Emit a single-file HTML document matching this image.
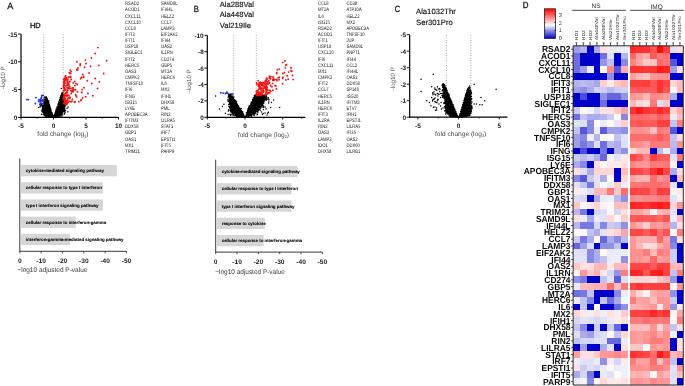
<!DOCTYPE html>
<html><head><meta charset="utf-8"><style>
html,body{margin:0;padding:0;background:#fff;width:685px;height:386px;overflow:hidden}
svg{display:block;will-change:transform;filter:blur(0.3px)}
text{font-family:"Liberation Sans",sans-serif}
</style></head><body>
<svg width="685" height="386" viewBox="0 0 685 386" font-family="Liberation Sans, sans-serif" text-rendering="geometricPrecision">
<rect width="685" height="386" fill="#fff"/>
<text x="7.20" y="9.10" font-size="9.1" text-anchor="start" font-weight="normal" fill="#111" stroke="#111" stroke-width="0.25">A</text>
<text x="29.90" y="28.10" font-size="7.4" text-anchor="start" font-weight="normal" fill="#111" stroke="#111" stroke-width="0.3">HD</text>
<line x1="43.75" y1="34.50" x2="43.75" y2="117.00" stroke="#aaa" stroke-width="1.0" stroke-dasharray="1 1.5"/>
<line x1="63.25" y1="34.50" x2="63.25" y2="117.00" stroke="#aaa" stroke-width="1.0" stroke-dasharray="1 1.5"/>
<path d="M48.1 105.9h0M48.6 105.3h0M45.4 106.9h0M44.5 111.2h0M50.5 116.5h0M48.8 116.2h0M45.5 112.4h0M43.9 107.9h0M48.7 104.2h0M48.6 103.8h0M48.1 111.7h0M46.7 112.7h0M46.5 116.0h0M44.3 104.5h0M51.3 111.9h0M44.5 110.6h0M44.8 112.3h0M51.5 113.7h0M49.1 108.2h0M45.5 102.3h0M44.9 104.2h0M44.8 108.7h0M45.7 111.8h0M46.6 99.2h0M45.7 109.3h0M45.7 112.1h0M46.5 115.9h0M44.5 105.4h0M46.0 105.0h0M47.3 108.1h0M45.4 114.2h0M46.1 113.5h0M45.6 97.9h0M47.8 115.3h0M46.0 102.9h0M46.2 100.5h0M49.5 111.4h0M45.4 102.6h0M44.3 112.7h0M49.7 111.6h0M43.8 111.9h0M48.0 116.2h0M45.4 109.8h0M49.3 114.7h0M47.2 99.1h0M48.4 102.4h0M44.4 106.2h0M47.1 103.3h0M47.7 101.1h0M49.8 109.5h0M49.4 104.9h0M44.4 104.2h0M50.8 109.4h0M48.4 112.7h0M46.6 103.4h0M45.6 113.9h0M46.9 103.7h0M45.6 108.5h0M49.4 110.9h0M45.0 107.2h0M46.4 113.9h0M48.1 111.7h0M45.7 108.9h0M49.8 107.2h0M46.7 100.1h0M52.2 116.5h0M46.7 101.1h0M48.1 116.9h0M51.8 112.5h0M49.8 108.2h0M50.4 113.3h0M48.3 113.7h0M50.7 113.7h0M46.3 110.3h0M47.5 101.1h0M52.6 115.6h0M44.9 108.1h0M47.3 105.7h0M50.1 113.2h0M45.7 98.9h0M46.8 98.7h0M44.4 108.3h0M48.4 116.8h0M51.6 116.1h0M51.5 113.8h0M46.9 101.2h0M45.0 114.3h0M48.7 102.5h0M45.8 106.6h0M46.5 102.4h0M49.9 106.6h0M46.7 109.6h0M45.7 99.9h0M49.3 113.3h0M48.9 107.0h0M49.6 116.8h0M47.6 100.9h0M49.2 107.3h0M50.4 116.0h0M48.9 108.9h0M46.3 107.7h0M44.9 108.5h0M48.3 110.9h0M45.5 104.7h0M51.3 116.9h0M45.5 112.7h0M50.4 110.8h0M47.1 104.7h0M44.7 102.4h0M44.8 106.9h0M46.1 113.3h0M48.9 108.4h0M47.3 108.9h0M48.8 114.1h0M45.6 104.4h0M49.9 106.5h0M46.7 98.4h0M45.8 96.9h0M52.4 114.6h0M46.0 102.5h0M46.2 115.4h0M51.4 114.8h0M47.6 103.3h0M48.6 103.3h0M49.1 106.8h0M49.2 114.4h0M45.4 113.2h0M52.8 115.4h0M48.2 101.7h0M46.8 107.8h0M48.7 108.6h0M49.6 117.1h0M45.4 108.1h0M45.5 114.0h0M48.7 117.1h0M49.8 109.1h0M49.5 107.0h0M46.2 98.7h0M50.8 115.9h0M47.0 107.8h0M43.7 110.1h0M45.9 98.0h0M50.2 110.5h0M48.9 109.4h0M53.3 116.9h0M46.2 109.1h0M47.3 115.4h0M46.1 98.8h0M49.1 107.0h0M51.6 115.8h0M45.2 107.7h0M45.3 107.2h0M49.7 116.2h0M48.8 105.1h0M47.2 111.5h0M46.4 102.7h0M45.2 101.9h0M51.0 116.4h0M47.9 107.6h0M49.6 115.0h0M49.8 108.0h0M48.8 114.8h0M48.0 103.7h0M48.1 112.0h0M49.4 108.8h0M50.9 112.5h0M47.2 111.8h0M51.1 113.5h0M46.1 97.2h0M46.3 108.7h0M49.8 115.3h0M49.0 115.9h0M44.5 103.5h0M49.1 104.4h0M47.3 107.6h0M45.7 110.3h0M51.2 113.0h0M47.8 112.1h0M46.8 106.1h0M47.8 109.8h0M49.2 107.4h0M50.4 111.3h0M51.3 115.8h0M45.7 103.8h0M44.4 111.2h0M46.4 114.5h0M47.2 102.5h0M47.2 115.0h0M46.8 109.2h0M46.1 110.0h0M47.2 109.9h0M47.5 109.4h0M45.5 105.8h0M45.4 101.8h0M49.0 105.7h0M51.6 116.1h0M44.5 104.4h0M45.0 102.1h0M50.0 112.4h0M45.8 101.7h0M47.5 110.5h0M48.5 106.3h0M48.8 102.8h0M47.8 114.4h0M47.3 114.0h0M45.6 108.7h0M46.5 97.5h0M44.2 111.1h0M44.8 104.1h0M51.3 113.7h0M44.2 108.0h0M45.4 112.9h0M45.9 102.6h0M49.5 112.8h0M45.4 111.6h0M45.3 101.8h0M46.7 106.1h0M46.2 99.1h0M48.4 112.9h0M48.8 106.8h0M46.3 97.0h0M50.1 112.5h0M47.3 101.0h0M45.2 114.2h0M46.8 112.1h0M46.3 106.4h0M45.1 101.6h0M44.4 111.8h0M50.7 115.4h0M48.4 107.8h0M52.7 115.5h0M51.8 113.1h0M49.0 106.6h0M45.2 100.3h0M46.7 111.0h0M44.4 111.1h0M48.2 102.7h0M47.2 103.3h0M44.7 109.3h0M43.7 109.6h0M50.6 112.5h0M49.2 108.0h0M51.5 113.1h0M49.7 111.4h0M47.3 106.3h0M46.6 110.5h0M47.5 103.7h0M46.2 113.3h0M50.8 110.6h0M50.8 110.6h0M51.8 115.5h0M45.4 109.1h0M44.5 112.7h0M45.2 114.8h0M47.6 115.9h0M48.7 104.1h0M47.4 110.6h0M47.6 103.0h0M43.8 110.6h0M47.0 104.0h0M44.7 109.6h0M45.2 101.6h0M47.1 107.1h0M45.0 102.7h0M45.6 98.0h0M49.8 113.3h0M44.4 112.4h0M46.9 98.3h0M47.2 107.9h0M49.0 105.9h0M49.2 112.0h0M46.5 98.9h0M46.0 105.6h0M51.8 113.6h0M49.0 115.8h0M50.1 111.1h0M47.4 105.2h0M51.6 117.1h0M45.6 107.8h0M45.0 109.5h0M49.2 113.8h0M48.8 112.0h0M49.2 110.6h0M50.0 116.6h0M50.2 114.4h0M48.3 108.9h0M47.7 108.5h0M48.8 106.6h0M46.8 116.3h0M51.0 111.1h0M49.5 116.0h0M44.8 108.2h0M48.6 109.2h0M48.8 112.5h0M46.6 109.3h0M47.8 100.8h0M45.8 102.0h0M44.8 106.3h0M53.0 117.4h0M46.0 111.2h0M46.8 116.1h0M47.5 110.1h0M49.4 116.5h0M46.7 107.1h0M48.3 113.2h0M46.5 98.4h0M48.3 113.9h0M45.6 104.4h0M45.5 99.3h0M50.8 111.0h0M50.7 114.6h0M48.0 115.8h0M45.8 111.1h0M50.6 113.4h0M45.4 112.6h0M47.3 103.8h0M45.9 111.2h0M46.4 104.2h0M48.0 106.5h0M48.9 116.5h0M49.5 111.5h0M46.1 100.9h0M44.5 111.5h0M51.1 112.3h0M46.4 106.1h0M45.5 98.9h0M48.2 102.0h0M48.6 113.7h0M49.1 104.1h0M47.2 103.9h0M51.3 114.0h0M49.6 112.6h0M48.0 101.5h0M46.0 107.3h0M45.8 105.5h0M48.5 116.7h0M45.4 114.3h0M47.9 108.3h0M46.2 101.0h0M49.2 106.2h0M51.4 112.5h0M45.1 111.0h0M44.0 110.9h0M49.8 106.6h0M46.2 105.3h0M45.3 112.2h0M45.2 103.2h0M44.2 109.0h0M47.2 112.9h0M53.2 116.5h0M48.1 102.1h0M44.0 112.4h0M52.4 114.5h0M47.5 111.3h0M47.8 115.8h0M45.9 112.2h0M49.1 112.4h0M47.2 110.5h0M44.0 109.1h0M50.0 116.2h0M47.0 103.1h0M47.5 100.1h0M47.4 101.3h0M45.7 110.3h0M45.4 106.1h0M45.2 113.2h0M45.7 107.8h0M46.7 108.2h0M47.4 115.9h0M50.5 109.9h0M45.4 112.0h0M50.7 111.9h0M47.2 114.2h0M52.6 117.0h0M46.8 109.5h0M46.8 101.5h0M48.8 116.3h0M47.5 112.5h0M49.5 116.7h0M46.7 108.7h0M49.0 114.6h0M50.6 112.0h0M45.1 113.2h0M46.4 102.7h0M47.6 109.4h0M46.5 110.3h0M45.8 103.2h0M49.9 115.6h0M47.8 109.3h0M44.2 109.5h0M46.9 107.2h0M46.4 114.1h0M47.6 107.6h0M45.3 103.7h0M46.0 115.5h0M47.0 108.7h0M45.1 105.4h0M50.5 116.9h0M47.5 109.9h0M44.2 109.1h0M44.2 107.2h0M49.4 107.8h0M46.8 112.2h0M43.9 110.3h0M46.2 103.7h0M45.5 107.7h0M47.2 105.5h0M47.7 108.9h0M46.3 100.3h0M52.6 116.6h0M45.0 107.0h0M46.7 110.0h0M45.5 112.7h0M50.3 112.6h0M47.5 112.5h0M48.5 104.0h0M49.0 104.6h0M47.0 99.2h0M46.7 102.7h0M45.2 104.6h0M48.5 105.8h0M47.3 111.5h0M46.0 112.3h0M46.8 113.7h0M48.7 114.8h0M44.6 102.9h0M44.7 108.1h0M45.2 99.6h0M52.2 116.3h0M46.1 107.0h0M50.7 112.2h0M50.7 110.7h0M46.9 101.8h0M49.2 108.7h0M44.9 109.6h0M50.2 112.6h0M50.4 108.8h0M49.9 109.2h0M46.4 102.4h0M49.0 107.5h0M47.3 111.0h0M46.4 109.3h0M51.5 114.4h0M45.3 115.2h0M48.4 114.9h0M49.2 114.4h0M49.8 111.8h0M45.9 107.5h0M47.2 112.1h0M44.4 113.6h0M45.6 99.6h0M48.4 108.9h0M44.2 106.1h0M46.4 98.1h0M50.8 113.8h0M47.2 101.9h0M46.7 106.8h0M53.1 117.2h0M47.6 100.9h0M50.6 112.2h0M52.6 116.9h0M49.3 112.7h0M47.5 109.8h0M47.2 104.3h0M47.1 111.7h0M44.6 110.5h0M50.9 113.1h0M50.3 113.8h0M44.7 114.5h0M47.1 108.5h0M47.6 110.8h0M45.6 99.3h0M46.8 101.9h0M45.8 109.0h0M50.6 113.7h0M46.3 103.5h0M45.4 110.1h0M49.9 109.6h0M50.0 113.0h0M48.6 105.7h0M50.2 108.8h0M47.4 112.7h0M49.6 105.6h0M48.7 116.7h0M49.8 108.2h0M49.5 105.2h0M50.9 111.0h0M48.5 112.6h0M46.1 100.8h0M48.1 106.4h0M46.4 104.2h0M44.3 106.0h0M46.0 100.9h0M51.5 114.3h0M47.2 115.3h0M44.0 110.3h0M44.8 113.7h0M47.5 99.9h0M45.7 104.5h0M45.6 103.6h0M47.0 110.9h0M49.8 111.7h0M45.4 114.8h0M44.9 115.0h0M47.2 113.4h0M50.9 110.0h0M46.7 109.0h0M45.1 104.4h0M47.8 100.5h0M47.7 108.0h0M47.0 102.9h0M45.9 105.5h0M46.4 99.4h0M46.5 99.8h0M50.3 108.0h0M48.1 116.1h0M47.8 111.6h0M46.5 103.1h0M50.3 112.4h0M47.7 114.7h0M47.8 110.4h0M49.5 106.2h0M44.5 109.9h0M47.3 102.5h0M50.2 110.3h0M48.3 110.0h0M48.2 110.9h0M44.3 107.9h0M47.6 103.9h0M45.8 97.0h0M45.7 109.8h0M45.0 109.3h0M50.9 115.7h0M45.3 104.0h0M46.1 100.7h0M44.8 107.8h0M43.9 110.2h0M48.9 106.4h0M46.6 107.0h0M44.9 105.7h0M48.7 111.4h0M51.3 112.3h0M47.7 116.3h0M45.8 108.1h0M49.1 107.9h0M52.0 115.3h0M52.0 114.2h0M47.6 104.8h0M45.1 100.6h0M45.2 106.5h0M46.6 97.5h0M44.1 108.8h0M44.4 112.0h0M46.9 107.3h0M47.5 111.2h0M50.9 112.1h0M47.3 108.6h0M48.3 110.0h0M47.9 108.1h0M44.2 106.5h0M49.0 109.2h0M45.8 115.4h0M47.3 110.9h0M48.4 112.7h0M53.2 117.3h0M47.2 105.1h0M47.3 111.2h0M46.7 107.2h0M46.1 111.8h0M46.4 103.4h0M46.8 100.5h0M49.9 116.9h0M49.3 117.3h0M52.7 115.9h0M48.0 108.4h0M44.8 110.8h0M50.9 115.9h0M46.7 97.8h0M45.7 108.9h0M48.3 116.8h0M47.9 109.6h0M48.5 103.2h0M47.5 101.4h0M44.7 102.1h0M45.3 105.3h0M45.6 110.3h0M45.2 110.2h0M49.5 106.7h0M47.5 105.6h0M49.4 107.5h0M50.5 112.6h0M46.2 102.4h0M49.3 112.1h0M47.4 102.7h0M47.9 104.7h0M48.4 112.6h0M51.1 115.3h0M46.6 100.0h0M49.2 106.1h0M46.9 114.3h0M51.6 115.4h0M51.4 112.9h0M45.6 106.4h0M49.6 114.9h0M50.4 109.9h0M46.5 99.8h0M50.8 112.0h0M48.9 112.2h0M46.5 112.2h0M44.9 107.4h0M46.3 111.5h0M46.4 106.9h0M52.3 114.1h0M49.6 106.2h0M51.3 112.1h0M47.2 101.2h0M45.9 108.1h0M47.3 102.4h0M49.2 110.2h0M45.9 97.9h0M50.1 115.9h0M52.5 115.3h0M49.2 114.9h0M52.2 116.1h0M50.2 116.0h0M48.8 115.8h0M48.8 113.6h0M48.8 110.1h0M48.6 113.3h0M50.6 108.8h0M48.4 115.8h0M48.4 105.9h0M45.0 111.2h0M46.9 103.0h0M43.8 107.3h0M52.8 115.6h0M48.8 105.5h0M46.9 110.3h0M46.2 105.4h0M48.8 110.5h0M50.3 108.0h0M45.9 99.3h0M45.4 114.3h0M46.1 107.5h0M46.0 103.9h0M46.2 106.6h0M46.1 99.4h0M45.4 112.6h0M46.6 110.6h0M46.0 112.9h0M47.3 110.1h0M47.4 114.6h0M47.0 101.1h0M47.4 111.5h0M47.4 116.1h0M45.7 99.3h0M45.0 102.7h0M45.0 103.4h0M47.3 114.9h0M46.3 98.1h0M44.3 113.6h0M47.1 116.4h0M46.7 113.6h0M44.8 106.6h0M49.0 105.7h0M45.8 115.8h0M46.7 101.8h0M45.2 110.6h0M49.2 111.3h0M48.2 105.0h0M45.5 98.0h0M53.3 116.9h0M45.3 102.3h0M45.8 101.0h0M48.6 104.0h0M48.2 113.6h0M43.8 111.1h0M44.0 112.0h0M49.7 109.8h0M48.3 104.6h0M46.8 110.1h0M47.7 106.3h0M48.2 110.6h0M52.3 114.1h0M46.5 113.9h0M50.8 112.6h0M49.4 114.2h0M44.6 103.3h0M47.0 105.9h0M48.7 109.6h0M46.3 105.6h0M49.9 107.9h0M44.5 107.2h0M48.4 104.2h0M48.0 115.7h0M51.5 112.6h0M46.1 98.8h0M48.6 108.6h0M48.5 107.5h0M46.5 100.1h0M48.6 110.4h0M45.6 113.0h0M51.5 113.8h0M46.0 98.5h0M47.0 101.1h0M45.5 103.1h0M49.8 114.8h0M50.8 116.2h0M49.9 107.3h0M47.4 110.1h0M51.5 112.7h0M46.7 111.8h0M45.5 104.1h0M46.9 98.3h0M46.9 111.7h0M48.8 107.4h0M48.9 107.7h0M51.0 112.3h0M45.6 105.5h0M46.0 110.7h0M47.1 106.6h0M47.7 109.0h0M45.9 107.7h0M47.9 103.3h0M48.8 113.5h0M51.2 116.2h0M45.1 106.1h0M46.3 102.6h0M50.8 110.8h0M47.9 115.2h0M52.4 116.2h0M44.3 111.9h0M44.9 108.6h0M47.6 104.0h0M48.3 117.1h0M44.3 109.4h0M48.2 115.2h0M48.4 105.3h0M44.8 111.1h0M45.8 99.6h0M48.6 109.0h0M46.2 101.1h0M47.2 108.4h0M48.1 110.9h0M49.8 108.9h0M46.6 101.5h0M48.1 107.7h0M47.6 103.6h0M50.9 111.3h0M47.9 104.0h0M44.1 102.0h0M43.6 106.7h0M44.2 103.5h0M43.3 108.4h0M42.9 107.3h0M44.1 113.5h0M43.5 110.5h0M43.0 106.5h0M43.8 107.3h0M42.5 109.0h0M48.0 117.0h0M44.2 115.2h0M44.3 104.2h0M43.9 106.2h0M43.3 106.0h0M52.0 112.9h0M44.2 101.6h0M45.0 116.0h0M43.5 107.5h0M43.3 108.1h0M43.9 105.3h0M44.0 103.8h0M44.7 115.0h0M43.7 107.4h0M43.5 111.4h0M46.0 116.8h0M43.3 111.4h0M43.4 111.2h0M46.2 116.2h0M44.6 97.2h0M43.4 107.9h0M42.9 110.2h0M43.3 108.7h0M43.6 105.5h0M43.9 104.9h0M45.9 116.2h0M43.7 103.1h0M44.8 100.5h0M43.4 110.8h0M43.1 111.3h0M44.1 100.7h0M43.3 106.8h0M44.1 113.5h0M43.7 112.4h0M43.8 106.1h0M43.2 106.9h0M43.7 106.3h0M45.6 115.9h0M42.8 111.0h0M44.3 99.5h0M42.1 110.1h0M44.1 114.5h0M42.7 105.6h0M43.6 108.0h0M43.6 110.2h0M43.5 111.6h0M44.6 97.1h0M43.6 105.0h0M46.3 116.6h0M44.8 99.3h0M43.5 110.9h0M43.7 106.0h0M45.2 115.8h0M42.6 108.2h0M44.0 98.9h0M43.8 100.3h0M48.8 100.9h0M45.3 115.7h0M44.5 99.5h0M44.5 101.9h0M57.3 109.6h0M58.1 114.6h0M58.2 109.6h0M57.7 108.6h0M64.5 107.5h0M57.2 109.8h0M58.4 106.5h0M61.4 98.1h0M62.1 112.2h0M60.4 112.0h0M61.0 110.6h0M61.2 99.6h0M62.9 97.8h0M61.2 110.4h0M62.3 105.3h0M61.6 106.1h0M58.7 113.3h0M59.3 114.8h0M62.9 98.9h0M61.9 97.0h0M60.2 101.4h0M58.3 112.6h0M62.0 110.5h0M64.2 104.9h0M61.6 104.6h0M60.5 114.0h0M62.7 110.9h0M61.9 93.6h0M60.8 97.6h0M61.1 112.6h0M58.2 111.6h0M56.9 111.9h0M63.9 109.9h0M53.9 116.6h0M62.3 102.9h0M59.4 112.3h0M62.0 95.5h0M61.7 108.2h0M59.4 110.8h0M56.4 117.3h0M56.0 110.8h0M64.4 106.1h0M57.9 107.2h0M59.4 105.3h0M59.7 110.1h0M59.9 99.4h0M62.5 107.4h0M60.4 98.6h0M63.7 107.2h0M61.1 95.8h0M61.3 100.5h0M60.6 107.6h0M62.6 97.1h0M60.6 102.7h0M61.6 93.6h0M58.3 108.2h0M59.5 104.9h0M61.4 99.3h0M59.0 102.9h0M58.6 103.7h0M59.0 108.3h0M57.8 113.6h0M61.1 113.9h0M57.3 111.3h0M61.2 103.8h0M60.4 104.8h0M60.1 99.5h0M57.5 107.8h0M59.7 106.1h0M61.3 107.5h0M59.6 105.3h0M59.9 100.3h0M60.9 102.4h0M61.8 111.9h0M63.4 107.2h0M59.0 107.3h0M58.1 110.5h0M61.2 114.1h0M60.7 97.6h0M62.0 111.9h0M55.0 115.0h0M57.2 115.1h0M57.6 106.8h0M62.2 111.9h0M57.2 110.4h0M59.0 114.2h0M61.7 102.2h0M57.0 111.2h0M61.0 98.5h0M62.5 99.1h0M55.7 114.0h0M63.7 107.4h0M63.3 108.9h0M61.9 110.3h0M62.9 105.5h0M58.3 108.9h0M62.1 102.8h0M57.4 107.7h0M61.3 98.0h0M58.7 110.2h0M61.8 104.8h0M62.4 103.4h0M59.7 110.7h0M58.1 114.6h0M58.9 101.9h0M62.3 112.2h0M57.9 106.7h0M58.2 115.3h0M57.6 115.3h0M61.2 98.0h0M58.4 104.7h0M61.8 104.7h0M63.9 106.4h0M60.8 108.1h0M59.0 112.7h0M57.2 110.3h0M55.9 114.6h0M61.5 101.4h0M59.0 115.3h0M60.6 112.1h0M59.7 99.6h0M59.6 107.6h0M63.4 106.8h0M59.5 107.5h0M60.6 111.2h0M57.2 106.7h0M60.7 110.0h0M59.6 100.5h0M61.0 111.3h0M58.4 104.0h0M59.8 114.6h0M57.9 107.4h0M56.5 113.8h0M60.8 108.8h0M58.0 116.3h0M60.2 113.2h0M61.0 105.7h0M59.7 102.5h0M55.9 113.3h0M61.7 103.1h0M61.5 105.2h0M60.3 103.6h0M60.8 96.7h0M60.4 99.5h0M62.2 96.4h0M60.1 100.9h0M60.7 113.0h0M57.5 110.4h0M57.8 116.4h0M60.5 100.9h0M62.3 102.1h0M56.9 114.1h0M60.8 114.8h0M58.3 110.0h0M61.4 112.3h0M61.6 108.3h0M60.2 108.8h0M62.7 101.2h0M61.3 113.1h0M58.8 103.5h0M62.4 93.3h0M58.7 108.7h0M59.6 110.1h0M56.5 109.3h0M56.2 111.6h0M61.9 111.3h0M63.0 106.4h0M60.1 101.2h0M62.6 107.8h0M61.9 109.0h0M62.0 101.8h0M60.3 100.3h0M59.4 104.2h0M61.0 97.8h0M56.7 115.0h0M59.7 114.7h0M60.3 108.2h0M54.7 117.2h0M57.2 113.6h0M55.3 115.1h0M58.2 112.0h0M57.1 111.0h0M58.6 110.3h0M60.0 106.6h0M62.5 95.1h0M61.2 112.8h0M62.2 95.7h0M61.5 103.1h0M61.6 111.4h0M55.7 114.7h0M61.3 97.7h0M56.8 109.7h0M61.0 98.9h0M62.0 111.4h0M60.6 112.4h0M62.9 103.3h0M59.0 108.2h0M60.9 103.0h0M60.4 100.5h0M58.2 113.8h0M61.9 99.6h0M63.0 109.5h0M57.4 116.1h0M63.2 105.6h0M55.5 112.3h0M61.5 104.5h0M56.2 112.2h0M62.7 97.6h0M60.9 97.1h0M62.5 107.0h0M59.7 105.2h0M61.2 107.5h0M64.5 105.6h0M57.5 108.3h0M59.2 106.1h0M55.2 115.0h0M60.6 112.2h0M59.6 109.0h0M58.3 108.6h0M54.9 117.1h0M64.5 105.3h0M58.3 115.6h0M60.3 111.7h0M59.6 113.8h0M56.8 115.2h0M61.9 100.1h0M55.1 116.6h0M59.4 110.2h0M62.2 98.9h0M57.3 111.0h0M61.8 101.1h0M53.7 116.9h0M56.2 110.1h0M62.5 100.3h0M61.0 110.7h0M62.2 103.1h0M58.6 113.5h0M57.9 108.9h0M55.2 117.2h0M58.2 106.0h0M62.1 106.1h0M62.5 107.6h0M59.0 104.6h0M55.8 114.9h0M57.3 113.4h0M58.1 111.8h0M58.6 103.6h0M58.2 110.6h0M58.5 105.0h0M62.6 105.4h0M56.3 114.3h0M58.2 111.5h0M63.6 106.9h0M59.8 115.1h0M62.0 108.7h0M61.4 106.4h0M58.5 112.3h0M58.1 109.2h0M57.0 108.3h0M54.5 115.1h0M57.3 109.1h0M56.7 112.0h0M60.4 111.8h0M62.9 96.1h0M58.9 110.5h0M60.2 102.2h0M59.9 107.1h0M62.9 99.0h0M58.2 113.4h0M57.4 112.1h0M58.8 103.9h0M58.0 108.9h0M61.8 109.9h0M62.2 110.7h0M54.2 115.1h0M62.0 94.1h0M57.2 109.9h0M61.6 108.9h0M55.0 116.2h0M61.3 113.5h0M59.9 108.5h0M55.0 117.3h0M61.2 95.4h0M56.6 113.3h0M61.9 99.8h0M57.9 107.6h0M56.4 115.1h0M62.9 93.0h0M56.2 114.7h0M60.6 97.8h0M57.7 110.7h0M61.3 96.3h0M60.5 99.5h0M60.8 96.5h0M60.7 112.7h0M62.6 94.3h0M60.9 100.0h0M59.3 107.9h0M62.5 104.7h0M56.1 117.3h0M54.6 116.4h0M62.7 97.7h0M62.2 109.1h0M61.6 100.1h0M61.8 102.9h0M58.2 104.0h0M59.0 108.6h0M62.7 105.0h0M61.3 108.3h0M58.1 116.3h0M60.4 99.7h0M57.3 113.1h0M64.7 106.8h0M56.8 116.0h0M61.1 104.7h0M56.1 117.4h0M62.3 104.7h0M57.9 106.6h0M61.0 98.4h0M62.7 105.4h0M61.1 97.8h0M57.5 115.7h0M58.7 104.9h0M56.6 112.7h0M59.2 106.8h0M57.0 115.9h0M56.5 111.5h0M58.3 104.3h0M60.7 105.2h0M61.8 102.2h0M55.8 111.5h0M55.0 116.2h0M55.5 113.0h0M59.6 104.2h0M62.5 96.3h0M62.1 105.1h0M58.4 106.1h0M58.5 105.7h0M58.8 106.3h0M56.5 110.5h0M60.8 107.5h0M57.4 107.2h0M57.2 115.4h0M61.0 97.5h0M62.8 101.6h0M56.6 109.6h0M60.0 112.3h0M59.2 104.9h0M56.6 113.6h0M54.1 116.4h0M60.5 110.3h0M56.1 110.3h0M60.5 107.4h0M58.2 108.7h0M63.0 107.8h0M58.6 112.8h0M61.7 95.6h0M61.2 100.6h0M62.1 106.9h0M62.7 101.4h0M61.9 107.5h0M61.7 103.5h0M60.2 99.9h0M61.6 101.8h0M55.5 114.4h0M61.4 104.3h0M61.4 110.7h0M60.3 111.0h0M62.1 99.6h0M58.2 107.8h0M62.2 107.4h0M57.6 108.2h0M62.6 94.5h0M57.7 112.6h0M62.0 93.2h0M54.6 117.0h0M61.5 113.2h0M57.5 111.1h0M59.8 111.2h0M59.5 105.6h0M59.7 110.9h0M59.3 104.5h0M61.4 107.8h0M59.1 103.1h0M59.3 115.3h0M61.0 104.8h0M58.2 112.5h0M60.8 104.6h0M59.3 114.1h0M61.0 110.1h0M62.5 107.0h0M59.1 105.0h0M57.0 111.2h0M55.5 116.7h0M56.4 114.4h0M54.1 116.7h0M62.5 93.2h0M61.7 113.0h0M61.5 101.8h0M55.8 112.6h0M63.1 107.6h0M60.5 113.0h0M59.7 100.2h0M59.6 113.7h0M63.1 111.3h0M62.0 113.0h0M62.0 113.1h0M60.9 97.9h0M61.4 98.8h0M56.7 112.0h0M59.2 104.1h0M59.6 104.3h0M55.5 114.7h0M59.7 112.5h0M63.4 109.8h0M64.0 105.8h0M59.8 112.0h0M58.5 110.7h0M56.5 111.3h0M58.4 110.0h0M60.5 105.9h0M59.8 103.4h0M61.0 106.3h0M55.9 114.9h0M61.5 94.9h0M59.8 102.8h0M60.6 112.0h0M59.3 104.6h0M60.9 102.9h0M58.5 103.7h0M61.9 111.5h0M60.2 100.8h0M60.0 110.1h0M62.2 105.2h0M56.5 116.3h0M56.1 111.9h0M57.8 115.3h0M59.6 115.5h0M61.9 106.5h0M56.4 112.4h0M57.0 113.1h0M62.0 107.3h0M54.6 114.2h0M61.9 100.4h0M58.0 108.9h0M61.2 104.5h0M61.0 109.8h0M61.5 112.9h0M58.2 114.8h0M59.8 106.1h0M56.9 116.4h0M53.8 117.1h0M60.8 110.8h0M63.0 107.8h0M61.0 114.5h0M59.4 100.9h0M61.7 99.4h0M56.4 112.2h0M62.3 110.5h0M56.5 108.8h0M58.6 105.4h0M60.0 108.7h0M60.3 109.9h0M57.7 115.8h0M54.4 116.9h0M58.0 104.7h0M60.2 102.3h0M59.0 116.0h0M60.8 108.1h0M58.5 108.4h0M56.8 112.2h0M58.4 113.8h0M57.5 111.3h0M58.3 109.3h0M58.5 107.1h0M62.3 110.9h0M61.8 93.3h0M55.3 113.5h0M62.3 98.5h0M64.2 108.7h0M60.8 104.1h0M58.0 106.5h0M61.0 100.9h0M57.2 109.6h0M58.6 114.4h0M63.5 108.8h0M57.4 116.3h0M61.9 99.2h0M63.0 105.7h0M59.7 106.0h0M63.7 108.7h0M61.2 104.8h0M61.7 98.1h0M61.5 100.7h0M60.5 102.9h0M59.4 100.6h0M59.0 110.1h0M59.3 107.3h0M57.4 111.7h0M57.8 114.4h0M60.8 106.8h0M62.9 99.4h0M56.8 111.9h0M60.1 99.0h0M58.1 110.6h0M61.7 99.0h0M61.0 112.5h0M60.8 107.6h0M57.7 112.7h0M61.3 113.9h0M60.2 114.2h0M56.5 108.9h0M61.6 100.9h0M58.3 113.1h0M56.0 116.0h0M57.5 114.4h0M58.5 114.6h0M61.6 99.3h0M61.6 103.8h0M60.5 106.2h0M60.6 101.5h0M61.8 95.3h0M62.6 103.5h0M58.8 102.1h0M58.5 107.2h0M58.8 104.7h0M58.2 113.3h0M59.1 109.8h0M58.9 104.1h0M63.7 104.7h0M62.9 99.6h0M60.0 109.2h0M62.3 94.5h0M57.4 108.4h0M62.4 94.8h0M61.6 103.6h0M63.1 105.9h0M61.4 98.1h0M58.2 110.3h0M59.2 105.2h0M62.0 93.2h0M61.4 105.1h0M57.6 116.0h0M59.1 111.2h0M55.7 113.5h0M62.7 105.8h0M60.7 104.3h0M57.3 116.5h0M56.4 115.7h0M62.2 96.5h0M58.5 103.4h0M60.9 114.7h0M61.2 109.5h0M61.2 103.4h0M59.2 102.5h0M62.6 106.2h0M59.6 100.8h0M60.5 107.8h0M60.6 99.4h0M58.2 104.5h0M55.9 114.9h0M58.7 115.3h0M61.7 103.1h0M61.0 95.3h0M63.5 105.6h0M55.1 117.2h0M57.0 114.0h0M60.9 102.3h0M58.0 111.7h0M59.4 104.4h0M57.2 112.6h0M61.1 112.5h0M56.8 115.0h0M59.3 102.4h0M60.0 100.9h0M62.7 99.2h0M61.0 110.7h0M62.2 95.9h0M55.7 111.8h0M63.0 104.6h0M55.1 116.6h0M57.9 109.8h0M64.0 109.3h0M62.0 95.1h0M60.8 101.9h0M58.6 113.7h0M59.2 114.8h0M62.7 97.1h0M60.8 102.3h0M60.3 111.1h0M59.6 99.8h0M61.2 110.4h0M55.4 116.0h0M62.0 106.5h0M60.9 103.6h0M59.5 112.5h0M62.1 102.1h0M62.0 101.8h0M59.7 112.6h0M60.1 113.2h0M60.4 111.3h0M64.2 105.5h0M62.3 112.5h0M62.4 101.1h0M54.8 117.3h0M61.0 97.8h0M59.5 112.5h0M60.9 100.7h0M58.1 110.1h0M60.8 108.3h0M59.9 114.8h0M57.5 107.4h0M55.4 116.3h0M59.7 105.7h0M60.4 107.7h0M63.8 104.5h0M62.0 111.8h0M57.0 113.2h0M58.6 105.0h0M63.5 107.2h0M57.5 110.6h0M55.6 115.9h0M55.7 117.2h0M60.3 110.7h0M58.8 105.8h0M63.3 107.4h0M55.7 115.3h0M61.1 95.9h0M62.3 108.8h0M56.7 113.4h0M56.4 112.9h0M62.4 94.0h0M58.2 115.4h0M64.8 105.6h0M57.7 112.0h0M55.4 112.2h0M60.8 107.5h0M64.5 107.0h0M60.3 108.1h0M62.3 97.9h0M62.3 111.5h0M62.5 99.2h0M58.5 110.1h0M61.6 104.6h0M58.6 109.7h0M56.8 111.7h0M56.5 114.1h0M59.3 113.5h0M58.5 110.0h0M62.1 110.9h0M57.7 110.1h0M58.5 112.7h0M57.6 114.0h0M60.3 109.6h0M61.2 96.7h0M55.9 115.4h0M57.5 111.3h0M60.9 112.0h0M60.8 99.7h0M57.5 106.4h0M60.1 103.8h0M61.4 105.5h0M58.8 105.7h0M62.2 109.6h0M63.8 106.6h0M56.9 111.2h0M64.8 106.4h0M55.4 113.1h0M56.5 115.3h0M57.0 107.8h0M61.6 99.7h0M60.0 104.4h0M60.0 106.3h0M55.9 116.7h0M59.7 101.2h0M57.8 107.4h0M55.5 115.5h0M61.8 106.4h0M62.8 109.0h0M59.3 105.7h0M59.1 107.2h0M59.9 114.1h0M61.8 97.0h0M55.7 115.7h0M57.2 114.3h0M59.5 104.4h0M57.6 112.3h0M59.1 101.8h0M61.5 111.4h0M60.6 97.7h0M56.6 109.6h0M58.3 107.9h0M57.8 108.0h0M59.7 100.5h0M57.9 115.5h0M62.6 105.3h0M60.6 98.6h0M62.4 96.7h0M59.0 108.2h0M63.2 105.6h0M60.9 97.7h0M55.4 113.8h0M58.7 102.9h0M58.4 108.2h0M57.3 109.3h0M57.7 107.0h0M61.6 110.6h0M58.3 113.0h0M58.1 110.2h0M60.3 107.1h0M61.4 107.1h0M58.6 112.9h0M57.7 106.6h0M57.4 116.0h0M61.3 110.2h0M54.3 116.9h0M60.9 107.6h0M60.3 106.7h0M59.1 110.8h0M56.9 115.0h0M62.8 98.0h0M58.8 104.8h0M56.8 108.8h0M61.6 96.2h0M61.3 109.9h0M61.0 98.6h0M54.8 116.5h0M55.1 113.8h0M58.4 114.9h0M61.9 95.1h0M61.1 102.1h0M60.4 100.5h0M56.5 111.6h0M62.6 100.3h0M56.0 109.8h0M62.8 96.2h0M59.2 106.2h0M55.9 117.4h0M61.9 112.1h0M62.6 109.4h0M63.0 106.4h0M59.3 106.7h0M56.5 108.9h0M61.9 107.6h0M58.9 109.4h0M58.8 104.6h0M62.0 105.3h0M58.0 106.2h0M61.7 95.2h0M61.9 106.2h0M63.4 96.3h0M64.4 110.2h0M63.4 99.6h0M59.8 116.0h0M63.1 104.1h0M62.3 92.8h0M63.0 97.4h0M63.0 95.8h0M63.1 111.6h0M64.3 109.5h0M64.1 110.4h0M63.2 99.1h0M62.5 114.0h0M63.6 100.0h0M61.7 114.7h0M64.1 109.5h0M63.2 103.8h0M63.6 94.6h0M64.3 108.7h0M64.2 103.8h0M63.6 101.6h0M57.6 116.9h0M63.1 99.9h0M63.1 103.2h0M52.6 117.0h0M63.0 102.6h0M57.4 117.0h0M65.0 111.0h0M63.3 102.9h0M65.2 105.5h0M65.2 105.7h0M63.3 103.3h0M63.0 98.0h0M63.1 98.5h0M61.9 113.8h0M63.6 111.1h0M52.4 116.1h0M63.4 96.2h0M64.0 96.8h0M61.8 115.2h0M63.7 101.2h0M61.8 113.6h0M64.3 109.5h0M65.0 111.0h0M60.2 115.6h0M63.2 103.8h0M63.5 103.8h0M63.0 97.0h0M62.6 92.9h0M59.9 115.8h0M63.6 101.8h0M63.5 99.0h0M63.4 101.6h0M65.6 104.9h0M63.1 95.0h0M61.9 116.0h0M64.2 109.8h0M63.2 111.6h0M63.0 98.3h0M63.0 95.3h0M60.1 97.6h0M63.1 101.0h0M64.8 107.9h0M53.0 116.8h0M63.1 111.4h0M60.3 115.9h0M52.9 116.9h0M59.8 116.2h0M60.2 97.7h0M62.8 92.9h0M40.0 107.0h0M41.5 114.3h0M41.7 104.4h0M42.9 106.7h0M42.1 106.8h0M40.2 104.6h0M43.3 108.1h0M41.9 105.5h0M40.3 106.0h0M41.8 111.1h0M42.4 111.9h0M43.2 114.2h0M64.6 113.4h0M67.1 108.3h0M64.3 114.1h0M65.5 110.3h0M63.4 110.4h0M65.0 112.3h0M64.0 111.4h0M68.1 106.9h0M67.9 111.7h0M64.9 107.9h0M38.5 107.4h0M40.5 105.2h0M61.3 88.5h0" stroke="#000" stroke-width="1.5" stroke-linecap="round" fill="none"/>
<path d="M80.6 78.7h0M66.0 102.5h0M65.3 95.4h0M74.3 102.0h0M69.9 81.5h0M70.7 77.2h0M67.6 80.4h0M63.6 87.9h0M80.2 65.4h0M63.4 86.2h0M68.6 82.8h0M70.9 90.7h0M67.8 79.2h0M64.3 88.8h0M83.7 76.4h0M82.7 74.4h0M63.6 82.2h0M65.0 79.3h0M67.5 80.1h0M64.7 101.7h0M64.0 81.2h0M65.7 92.9h0M63.6 79.2h0M71.1 79.5h0M73.2 82.9h0M75.7 95.0h0M68.5 88.4h0M64.5 81.0h0M69.3 101.2h0M69.0 87.4h0M65.4 79.0h0M71.1 71.6h0M65.2 83.1h0M64.8 97.3h0M80.9 100.5h0M69.9 97.3h0M66.2 77.8h0M67.1 87.6h0M64.0 81.6h0M67.9 98.7h0M68.9 95.3h0M65.2 94.0h0M81.7 92.3h0M64.9 83.1h0M64.4 97.8h0M64.2 103.6h0M67.3 83.7h0M70.6 88.4h0M64.7 87.9h0M63.6 87.3h0M64.3 98.9h0M64.9 99.7h0M77.4 84.5h0M75.6 89.8h0M84.6 67.3h0M65.7 93.9h0M68.4 102.2h0M71.2 93.5h0M63.6 98.3h0M68.0 98.7h0M65.5 98.7h0M77.7 70.0h0M64.6 83.6h0M71.8 90.6h0M76.6 96.9h0M67.9 95.3h0M66.7 92.3h0M66.0 94.9h0M70.7 73.6h0M72.4 99.4h0M64.4 90.8h0M73.2 87.9h0M68.3 84.7h0M64.6 81.7h0M67.0 102.0h0M68.9 84.8h0M77.5 91.7h0M67.8 82.3h0M64.0 85.2h0M75.9 83.6h0M76.9 69.5h0M63.7 86.2h0M65.4 80.3h0M67.3 90.8h0M63.6 85.8h0M72.2 91.7h0M66.2 79.7h0M63.8 84.4h0M69.3 72.8h0M63.5 97.4h0M71.9 101.4h0M66.2 100.5h0M65.5 89.7h0M63.6 103.4h0M67.9 90.5h0M65.7 85.9h0M69.6 86.3h0M74.9 85.6h0M70.7 76.6h0M72.3 87.9h0M66.3 102.5h0M64.5 96.0h0M81.7 92.5h0M67.4 87.9h0M65.6 75.6h0M67.4 100.3h0M66.9 96.4h0M82.7 97.7h0M66.4 101.4h0M63.9 96.8h0M74.0 89.9h0M66.0 95.2h0M74.6 81.4h0M63.9 94.2h0M67.5 88.9h0M69.7 73.0h0M68.9 97.6h0M67.1 103.7h0M65.4 99.4h0M66.9 104.2h0M64.4 100.3h0M64.7 79.0h0M85.8 96.7h0M65.8 92.9h0M73.3 91.6h0M68.4 77.2h0M75.2 101.7h0M81.5 99.6h0M69.9 88.6h0M67.4 92.7h0M81.4 77.5h0M68.1 87.6h0M63.3 90.9h0M71.0 101.8h0M72.8 89.7h0M65.6 101.8h0M69.0 98.4h0M64.1 83.2h0M70.4 76.8h0M64.7 97.3h0M63.3 98.9h0M64.7 94.8h0M64.6 89.2h0M66.9 79.2h0M76.5 96.5h0M67.2 81.7h0M65.8 103.5h0M66.6 95.4h0M83.9 87.8h0M64.7 102.4h0M65.0 78.2h0M77.2 70.0h0M80.6 78.8h0M65.5 100.4h0M68.7 77.1h0M70.1 97.8h0M66.0 104.3h0M65.3 76.7h0M67.1 85.5h0M69.9 72.9h0M97.9 47.6h0M95.1 53.5h0M91.5 57.9h0M106.6 60.7h0M85.5 60.1h0M86.0 63.5h0M80.2 64.0h0M90.6 66.2h0M98.8 65.4h0M77.9 67.9h0M70.3 70.1h0M103.7 73.5h0M95.1 78.5h0M99.3 81.8h0M97.5 88.5h0M87.9 93.5h0M92.8 95.7h0M78.8 101.8h0M89.2 72.9h0M83.4 77.4h0M91.8 83.5h0M82.1 89.6h0M87.3 80.7h0M76.9 61.8h0" stroke="#f01414" stroke-width="1.9" stroke-linecap="round" fill="none"/>
<path d="M41.2 98.2h0M41.1 103.2h0M40.9 102.9h0M40.8 99.2h0M43.5 100.9h0M42.4 101.0h0M40.1 103.9h0M43.2 95.5h0M40.2 104.6h0M40.2 102.1h0M42.2 100.0h0M42.6 103.6h0M39.0 99.8h0M41.9 95.4h0M41.3 100.9h0M40.4 100.3h0M41.6 97.2h0M38.6 101.4h0M26.9 99.6h0M28.5 99.6h0M36.0 97.6h0M35.3 103.5h0" stroke="#1f2fe6" stroke-width="1.9" stroke-linecap="round" fill="none"/>
<line x1="21.00" y1="118.00" x2="21.00" y2="34.00" stroke="#000" stroke-width="1.2" />
<line x1="18.00" y1="34.00" x2="21.00" y2="34.00" stroke="#000" stroke-width="0.9" />
<text x="17.40" y="36.50" font-size="6.4" text-anchor="end" font-weight="bold" fill="#222" >-15</text>
<line x1="18.00" y1="61.80" x2="21.00" y2="61.80" stroke="#000" stroke-width="0.9" />
<text x="17.40" y="64.30" font-size="6.4" text-anchor="end" font-weight="bold" fill="#222" >-10</text>
<line x1="18.00" y1="89.60" x2="21.00" y2="89.60" stroke="#000" stroke-width="0.9" />
<text x="17.40" y="92.10" font-size="6.4" text-anchor="end" font-weight="bold" fill="#222" >-5</text>
<line x1="18.00" y1="117.40" x2="21.00" y2="117.40" stroke="#000" stroke-width="0.9" />
<text x="17.40" y="119.90" font-size="6.4" text-anchor="end" font-weight="bold" fill="#222" >0</text>
<line x1="20.40" y1="117.40" x2="118.50" y2="117.40" stroke="#000" stroke-width="1.2" />
<line x1="21.00" y1="117.40" x2="21.00" y2="119.60" stroke="#000" stroke-width="0.9" />
<text x="21.00" y="127.80" font-size="6.4" text-anchor="middle" font-weight="bold" fill="#222" >-5</text>
<line x1="53.50" y1="117.40" x2="53.50" y2="119.60" stroke="#000" stroke-width="0.9" />
<text x="53.50" y="127.80" font-size="6.4" text-anchor="middle" font-weight="bold" fill="#222" >0</text>
<line x1="86.00" y1="117.40" x2="86.00" y2="119.60" stroke="#000" stroke-width="0.9" />
<text x="86.00" y="127.80" font-size="6.4" text-anchor="middle" font-weight="bold" fill="#222" >5</text>
<line x1="118.50" y1="117.40" x2="118.50" y2="119.60" stroke="#000" stroke-width="0.9" />
<text x="118.50" y="127.80" font-size="6.4" text-anchor="middle" font-weight="bold" fill="#222" >10</text>
<line x1="37.25" y1="117.40" x2="37.25" y2="118.90" stroke="#222" stroke-width="0.7" />
<line x1="69.75" y1="117.40" x2="69.75" y2="118.90" stroke="#222" stroke-width="0.7" />
<line x1="102.25" y1="117.40" x2="102.25" y2="118.90" stroke="#222" stroke-width="0.7" />
<text transform="translate(5.3,89.3) rotate(-90)" font-size="6.2" fill="#555">-log10 P</text>
<text x="37.30" y="136.30" font-size="6.6" text-anchor="start" font-weight="normal" fill="#4a4a4a" >fold change (log<tspan font-size="3.8" dy="1.3">2</tspan><tspan dy="-1.3">)</tspan></text>
<text transform="translate(193.8,11.7) scale(0.87,1)" font-size="9" fill="#111" stroke="#111" stroke-width="0.25">B</text>
<text x="219.80" y="6.60" font-size="7.6" text-anchor="start" font-weight="normal" fill="#111" stroke="#111" stroke-width="0.15">Ala288Val</text>
<text x="219.80" y="17.20" font-size="7.6" text-anchor="start" font-weight="normal" fill="#111" stroke="#111" stroke-width="0.15">Ala448Val</text>
<text x="219.80" y="27.80" font-size="7.6" text-anchor="start" font-weight="normal" fill="#111" stroke="#111" stroke-width="0.15">Val219Ile</text>
<line x1="233.69" y1="35.20" x2="233.69" y2="117.00" stroke="#aaa" stroke-width="1.0" stroke-dasharray="1 1.5"/>
<line x1="256.31" y1="35.20" x2="256.31" y2="117.00" stroke="#aaa" stroke-width="1.0" stroke-dasharray="1 1.5"/>
<path d="M239.8 114.2h0M231.0 95.6h0M236.0 113.1h0M239.0 112.2h0M236.0 110.8h0M243.8 116.4h0M232.7 100.9h0M231.9 97.7h0M240.9 110.4h0M231.8 103.7h0M238.0 112.6h0M233.0 98.0h0M238.6 108.3h0M231.6 99.2h0M235.3 110.1h0M236.4 104.3h0M234.3 101.4h0M235.7 107.8h0M235.0 101.8h0M231.4 97.6h0M232.0 96.9h0M231.4 102.1h0M231.8 102.1h0M238.4 110.3h0M237.1 108.1h0M235.9 111.8h0M230.9 104.8h0M238.5 114.1h0M234.0 107.2h0M233.0 101.8h0M234.5 109.5h0M231.1 102.7h0M237.0 110.3h0M233.1 99.5h0M235.9 108.7h0M236.6 104.2h0M231.9 101.0h0M231.6 96.7h0M239.8 108.3h0M243.2 116.2h0M241.8 113.8h0M241.1 113.8h0M234.8 100.4h0M231.7 108.2h0M238.3 106.3h0M232.2 109.2h0M234.2 104.3h0M236.9 105.1h0M236.4 105.6h0M238.7 115.4h0M236.1 113.1h0M236.4 103.1h0M238.5 106.9h0M235.5 106.6h0M232.9 111.3h0M234.0 109.9h0M235.5 112.8h0M230.8 103.9h0M236.8 107.2h0M238.6 107.3h0M231.1 104.2h0M230.6 96.8h0M238.1 107.0h0M242.1 116.3h0M231.9 100.4h0M239.1 113.0h0M242.5 115.5h0M235.3 102.6h0M232.0 103.4h0M234.5 112.8h0M237.6 107.9h0M233.5 111.8h0M236.1 108.9h0M236.8 107.4h0M230.6 99.7h0M236.0 112.1h0M235.1 111.2h0M238.8 113.0h0M237.5 112.0h0M237.0 110.5h0M231.8 103.7h0M238.1 108.6h0M235.8 105.1h0M241.3 115.7h0M232.3 96.9h0M233.4 105.5h0M238.0 110.3h0M237.5 107.3h0M242.5 112.5h0M230.5 103.5h0M243.8 115.3h0M234.8 106.5h0M236.8 106.7h0M234.9 113.3h0M236.1 112.5h0M231.9 103.5h0M232.3 97.8h0M239.9 116.2h0M235.1 109.2h0M235.5 109.4h0M236.4 105.6h0M236.7 111.2h0M231.2 97.7h0M234.7 108.0h0M232.4 101.6h0M234.4 108.7h0M240.8 112.8h0M233.2 102.6h0M238.1 115.7h0M234.6 113.2h0M239.3 113.6h0M239.9 113.9h0M236.0 113.7h0M232.8 102.9h0M233.9 99.5h0M235.0 110.3h0M233.0 100.6h0M231.5 105.1h0M240.4 109.5h0M232.3 103.8h0M240.6 110.0h0M240.1 113.6h0M237.0 108.6h0M234.1 104.9h0M240.3 109.6h0M232.5 97.5h0M240.1 115.0h0M236.5 114.4h0M235.8 113.7h0M232.4 108.4h0M233.9 110.6h0M231.6 107.0h0M233.4 101.9h0M232.8 100.1h0M238.4 106.6h0M237.7 105.8h0M232.3 104.5h0M231.8 108.7h0M235.5 102.8h0M236.1 109.0h0M240.8 111.0h0M242.1 114.8h0M238.4 106.9h0M240.9 110.6h0M243.8 116.4h0M231.5 102.2h0M237.2 114.5h0M240.7 112.7h0M234.4 104.5h0M236.9 103.8h0M236.0 112.7h0M236.5 106.3h0M235.8 102.3h0M237.4 106.4h0M238.8 109.1h0M239.1 111.2h0M235.1 100.3h0M238.3 113.3h0M243.6 116.7h0M233.4 111.6h0M232.8 110.2h0M233.0 105.8h0M230.9 103.8h0M239.5 113.2h0M241.2 112.7h0M231.4 104.3h0M231.8 98.9h0M231.9 108.8h0M233.7 104.0h0M237.5 112.6h0M234.7 102.9h0M236.9 109.0h0M232.6 100.7h0M240.1 109.1h0M235.5 113.7h0M234.0 101.9h0M232.8 109.9h0M237.0 110.8h0M232.5 104.9h0M237.2 109.4h0M230.9 97.9h0M239.4 110.1h0M237.6 112.8h0M236.2 113.3h0M234.7 100.3h0M235.1 102.8h0M239.1 112.1h0M229.9 95.2h0M230.9 95.4h0M239.8 116.2h0M236.8 107.1h0M232.5 108.1h0M230.9 97.3h0M242.3 114.3h0M238.3 113.5h0M232.5 102.1h0M243.1 113.8h0M234.4 100.1h0M234.2 109.0h0M238.5 112.1h0M231.1 96.9h0M237.5 111.7h0M230.3 101.1h0M236.4 106.5h0M242.2 116.5h0M238.9 113.3h0M239.8 110.4h0M236.4 105.5h0M239.6 110.6h0M236.8 110.2h0M234.1 101.6h0M235.8 111.7h0M236.6 107.3h0M241.3 114.6h0M236.8 107.0h0M241.7 114.1h0M231.3 102.9h0M231.6 101.8h0M234.7 101.3h0M232.3 102.0h0M231.7 96.7h0M235.9 101.8h0M238.5 108.3h0M238.0 110.0h0M236.1 110.1h0M241.3 111.4h0M234.5 109.5h0M231.4 102.3h0M237.1 108.7h0M233.9 112.6h0M232.2 106.0h0M233.2 107.3h0M237.7 111.1h0M231.8 102.9h0M233.4 109.8h0M239.2 113.5h0M232.6 107.9h0M232.8 109.4h0M235.8 102.6h0M231.4 106.8h0M230.9 95.1h0M232.8 105.9h0M236.8 115.5h0M236.2 107.9h0M233.9 110.0h0M239.0 114.0h0M236.8 115.4h0M243.9 116.0h0M236.3 109.4h0M236.7 104.9h0M239.2 113.2h0M235.8 105.3h0M233.3 106.1h0M237.8 106.8h0M232.9 108.2h0M230.7 95.7h0M235.8 101.9h0M231.1 100.7h0M238.4 112.7h0M231.0 104.0h0M233.9 101.0h0M235.2 100.4h0M232.4 111.1h0M236.1 109.8h0M236.3 113.4h0M242.7 114.8h0M239.1 114.3h0M240.7 112.9h0M238.0 108.0h0M232.7 98.3h0M233.8 105.6h0M235.6 108.6h0M233.7 103.0h0M230.6 102.8h0M231.3 105.4h0M231.7 99.2h0M237.9 114.2h0M230.1 96.5h0M241.2 112.9h0M237.1 108.7h0M231.1 95.8h0M242.2 115.7h0M232.4 109.2h0M236.9 114.6h0M231.0 98.3h0M234.7 112.7h0M237.4 113.7h0M233.8 100.8h0M239.9 115.3h0M239.3 112.2h0M242.9 115.1h0M234.8 102.7h0M232.9 98.3h0M235.3 110.9h0M236.6 112.1h0M238.0 115.5h0M237.0 105.6h0M232.3 96.9h0M237.8 114.5h0M236.7 110.6h0M230.1 96.7h0M233.8 100.8h0M234.2 109.0h0M235.6 105.8h0M233.8 110.9h0M238.7 111.8h0M234.9 109.0h0M230.6 99.7h0M240.9 114.3h0M239.9 116.0h0M234.1 108.7h0M230.7 101.3h0M231.1 101.2h0M235.2 100.7h0M241.4 116.2h0M231.0 95.8h0M239.2 113.3h0M232.4 101.7h0M234.0 110.1h0M240.6 112.3h0M235.8 102.4h0M232.4 107.3h0M235.7 111.5h0M238.8 107.7h0M230.3 97.9h0M239.2 111.4h0M235.0 113.2h0M238.6 106.2h0M239.3 111.4h0M231.4 102.4h0M239.4 114.9h0M237.9 107.2h0M233.8 104.3h0M233.0 101.9h0M236.4 103.8h0M239.5 109.2h0M235.0 100.7h0M240.6 113.2h0M239.6 112.2h0M233.0 98.6h0M232.0 97.2h0M233.9 108.0h0M231.4 100.9h0M241.7 116.4h0M236.7 106.2h0M232.8 98.3h0M238.5 106.2h0M233.7 105.2h0M231.1 98.0h0M232.7 98.3h0M234.1 104.9h0M230.6 102.8h0M235.4 103.7h0M231.6 100.1h0M233.8 102.8h0M235.6 110.3h0M236.8 105.0h0M239.2 112.5h0M232.0 96.2h0M230.4 96.5h0M232.9 99.9h0M236.9 110.6h0M238.1 105.9h0M237.5 108.9h0M231.9 97.6h0M234.6 108.1h0M236.3 104.7h0M238.1 105.8h0M230.8 96.6h0M231.1 102.2h0M231.1 98.8h0M237.6 105.7h0M238.0 108.8h0M233.6 106.0h0M236.7 111.4h0M234.7 106.9h0M232.1 99.5h0M237.6 115.6h0M230.7 104.6h0M239.0 113.7h0M234.0 105.5h0M242.9 115.6h0M231.3 106.6h0M234.6 107.1h0M234.1 100.7h0M237.6 113.7h0M238.4 107.3h0M231.1 104.7h0M232.3 99.9h0M234.9 113.3h0M238.8 113.4h0M231.7 99.0h0M242.8 116.7h0M231.5 101.9h0M232.6 108.4h0M233.4 108.5h0M238.3 109.4h0M232.8 110.6h0M243.2 115.2h0M237.9 110.6h0M230.7 100.8h0M240.3 114.9h0M235.3 105.6h0M238.2 111.1h0M240.7 112.5h0M231.6 102.3h0M232.8 111.2h0M233.2 106.5h0M232.0 104.5h0M240.6 111.9h0M240.2 115.6h0M237.9 109.0h0M238.2 106.6h0M236.4 113.3h0M240.6 115.3h0M236.4 112.5h0M233.3 102.3h0M233.9 104.6h0M242.4 115.8h0M240.4 111.8h0M230.8 101.8h0M234.3 105.7h0M240.9 112.1h0M239.3 113.8h0M235.4 106.8h0M233.7 102.3h0M234.3 112.7h0M242.4 112.8h0M239.5 112.8h0M240.6 110.7h0M232.1 98.6h0M235.4 109.5h0M241.6 111.7h0M231.4 97.4h0M234.6 101.7h0M230.1 98.7h0M235.1 112.8h0M234.5 104.0h0M235.3 112.7h0M235.0 109.8h0M231.7 98.1h0M243.8 116.8h0M234.1 111.0h0M234.7 109.0h0M236.2 106.6h0M233.4 103.7h0M233.8 109.9h0M233.7 108.5h0M236.7 105.6h0M231.7 101.6h0M233.1 101.6h0M234.3 108.8h0M236.5 103.0h0M231.8 108.7h0M237.0 114.6h0M235.2 100.9h0M232.4 99.9h0M236.7 109.6h0M243.1 116.9h0M230.8 100.5h0M237.8 112.4h0M233.1 106.3h0M244.5 117.0h0M231.8 107.2h0M234.2 104.7h0M234.4 106.0h0M233.7 110.6h0M240.0 108.6h0M240.9 112.9h0M232.0 97.3h0M238.2 108.4h0M231.7 108.1h0M233.7 109.2h0M231.9 101.1h0M234.2 106.1h0M230.7 104.4h0M239.0 109.4h0M233.5 103.2h0M233.9 102.9h0M234.1 112.4h0M231.7 101.5h0M242.8 115.8h0M235.9 107.2h0M235.8 107.6h0M236.0 112.1h0M233.7 102.9h0M239.8 113.0h0M234.1 106.4h0M234.6 109.3h0M232.4 107.8h0M236.9 106.4h0M230.8 95.5h0M234.1 112.2h0M235.6 106.4h0M236.7 115.3h0M235.1 107.6h0M239.0 109.1h0M232.3 97.9h0M232.5 102.0h0M237.9 110.7h0M244.3 116.4h0M234.3 110.4h0M231.3 102.9h0M241.1 110.7h0M237.5 115.3h0M234.9 110.2h0M236.6 103.3h0M240.7 109.8h0M236.1 109.1h0M235.2 112.0h0M234.7 103.3h0M240.6 112.4h0M232.6 111.0h0M241.9 114.0h0M235.1 100.5h0M240.6 109.9h0M234.9 111.3h0M235.3 111.1h0M235.0 108.7h0M235.4 108.1h0M231.4 106.0h0M236.4 111.6h0M237.9 105.5h0M232.6 101.2h0M233.5 101.7h0M236.4 113.6h0M242.3 113.5h0M230.8 102.7h0M232.9 103.5h0M238.5 109.7h0M238.3 110.1h0M238.0 112.1h0M233.9 107.4h0M239.1 109.0h0M236.5 103.6h0M233.0 103.7h0M238.4 112.8h0M241.0 114.9h0M237.4 106.4h0M231.5 102.0h0M233.1 107.2h0M235.7 104.3h0M242.4 116.1h0M237.0 112.9h0M239.1 109.4h0M235.2 108.4h0M233.2 104.2h0M231.7 106.8h0M241.6 116.1h0M241.9 112.5h0M237.8 113.0h0M242.3 116.6h0M231.3 105.3h0M236.1 105.0h0M231.4 95.9h0M234.2 108.3h0M237.4 112.0h0M237.2 107.8h0M235.9 111.1h0M240.5 112.6h0M234.9 110.8h0M232.8 104.4h0M232.0 99.7h0M235.0 108.1h0M235.7 112.3h0M234.7 100.1h0M241.3 112.1h0M236.0 102.6h0M232.6 109.9h0M235.1 105.3h0M241.4 113.4h0M236.3 112.8h0M239.3 109.6h0M234.4 105.3h0M236.0 114.1h0M235.3 101.0h0M234.1 111.7h0M231.1 103.6h0M231.6 106.0h0M242.0 116.2h0M230.4 99.8h0M241.6 113.3h0M234.3 111.1h0M237.1 104.2h0M238.3 110.7h0M232.8 107.6h0M238.1 115.9h0M232.2 105.5h0M237.4 115.2h0M242.9 113.3h0M238.3 112.5h0M234.7 103.7h0M233.3 108.4h0M234.7 104.8h0M230.4 101.4h0M237.1 107.1h0M230.3 98.1h0M243.3 115.3h0M231.7 98.5h0M239.2 113.9h0M234.5 104.4h0M232.6 100.8h0M234.7 100.5h0M233.2 108.9h0M241.5 111.3h0M231.3 99.6h0M238.4 113.0h0M235.7 113.0h0M233.5 108.8h0M235.1 111.8h0M233.9 102.0h0M237.7 113.1h0M237.2 115.5h0M240.8 110.3h0M230.6 100.8h0M230.4 98.7h0M230.3 97.4h0M239.9 113.9h0M236.6 109.7h0M233.5 111.9h0M236.6 112.3h0M233.8 99.5h0M240.9 112.8h0M238.0 115.3h0M234.4 110.9h0M242.5 115.7h0M241.3 110.9h0M233.9 111.1h0M232.6 104.3h0M231.8 100.5h0M238.4 112.1h0M239.2 111.3h0M240.1 114.7h0M239.4 113.6h0M231.0 97.2h0M240.3 109.7h0M234.0 107.8h0M245.0 117.3h0M235.1 100.8h0M236.5 106.0h0M235.6 105.9h0M234.3 111.3h0M238.6 112.0h0M235.0 113.7h0M238.8 108.0h0M233.6 102.0h0M231.5 97.4h0M231.2 103.4h0M236.4 105.8h0M238.9 113.1h0M233.1 100.1h0M243.6 116.3h0M243.2 116.9h0M230.9 98.8h0M233.5 100.8h0M239.0 115.0h0M238.0 112.0h0M236.8 108.9h0M233.2 108.3h0M233.7 100.9h0M235.1 103.7h0M234.7 101.6h0M233.8 105.0h0M233.2 105.9h0M233.5 106.5h0M241.7 116.2h0M233.0 102.6h0M243.7 115.3h0M243.1 114.2h0M241.7 113.8h0M234.0 105.6h0M236.7 114.4h0M239.7 114.2h0M230.2 98.5h0M238.4 108.3h0M238.7 108.1h0M232.9 111.4h0M240.0 110.2h0M232.4 97.3h0M237.0 107.3h0M233.0 104.2h0M237.2 112.3h0M231.9 105.3h0M237.1 110.6h0M232.6 105.3h0M239.7 113.7h0M242.7 116.6h0M238.5 114.0h0M234.6 109.0h0M238.2 110.2h0M230.8 101.0h0M233.1 103.4h0M235.5 109.5h0M233.3 111.6h0M239.4 113.4h0M230.9 95.6h0M234.8 111.0h0M241.2 110.5h0M237.5 113.8h0M235.1 108.1h0M234.8 111.7h0M232.6 106.4h0M232.9 105.1h0M234.5 105.6h0M237.6 106.1h0M240.8 110.2h0M234.0 110.7h0M233.6 99.0h0M235.7 109.5h0M235.9 107.8h0M233.6 106.1h0M233.5 102.1h0M239.5 112.6h0M238.2 110.0h0M235.6 102.0h0M231.8 96.8h0M240.6 111.3h0M234.4 106.8h0M240.9 113.7h0M232.6 101.3h0M237.4 111.2h0M239.4 111.1h0M235.1 111.7h0M239.8 112.5h0M238.1 106.2h0M234.7 111.0h0M233.4 103.7h0M236.1 107.6h0M238.8 112.2h0M235.6 105.1h0M230.7 104.1h0M236.0 112.9h0M237.7 114.2h0M233.9 102.0h0M244.4 117.2h0M233.8 110.3h0M231.9 102.5h0M237.1 108.1h0M235.5 112.9h0M242.6 116.1h0M230.4 96.6h0M231.2 96.4h0M241.3 110.7h0M239.6 110.4h0M231.8 97.5h0M232.5 98.1h0M234.6 107.2h0M233.1 104.8h0M236.3 106.3h0M231.9 104.3h0M234.8 100.8h0M236.6 106.4h0M235.1 113.6h0M231.8 103.3h0M233.1 102.7h0M237.6 113.0h0M240.0 115.9h0M238.0 109.7h0M234.8 111.9h0M236.6 111.6h0M239.9 114.1h0M235.2 105.3h0M236.7 104.4h0M236.7 114.3h0M231.3 106.6h0M237.6 112.3h0M236.0 111.0h0M235.6 110.8h0M235.3 114.0h0M237.0 110.7h0M237.4 111.2h0M241.1 116.3h0M233.5 99.2h0M239.0 113.1h0M231.8 103.3h0M238.4 110.2h0M236.8 113.7h0M235.6 106.8h0M236.6 105.5h0M233.4 101.9h0M241.8 111.6h0M238.3 105.9h0M243.4 114.3h0M235.1 104.7h0M238.8 107.7h0M237.3 113.5h0M240.1 110.9h0M235.7 104.0h0M234.0 112.4h0M233.5 100.9h0M239.9 110.9h0M237.5 105.4h0M231.7 107.3h0M238.1 106.5h0M240.9 114.2h0M240.3 113.5h0M236.9 113.1h0M233.5 109.8h0M235.2 106.0h0M232.8 98.3h0M238.5 110.2h0M239.2 109.0h0M238.5 113.4h0M239.0 107.8h0M232.8 110.9h0M240.4 112.0h0M241.9 112.4h0M234.0 106.3h0M232.2 106.0h0M237.9 113.7h0M237.7 112.3h0M233.2 108.4h0M234.3 107.6h0M237.3 104.7h0M237.5 110.3h0M232.1 104.2h0M230.8 99.3h0M234.7 107.1h0M232.5 100.5h0M233.4 111.7h0M230.4 97.4h0M238.9 110.1h0M232.9 103.7h0M234.9 105.1h0M239.9 115.8h0M236.9 113.4h0M236.8 112.2h0M232.2 100.8h0M234.2 106.4h0M233.6 108.4h0M239.4 114.7h0M240.1 112.5h0M234.6 100.2h0M232.5 102.5h0M236.3 106.1h0M234.9 113.2h0M230.9 95.1h0M237.0 104.8h0M236.8 111.2h0M236.8 105.9h0M232.1 98.1h0M231.7 105.7h0M235.8 110.2h0M233.4 100.2h0M231.3 101.4h0M234.2 108.9h0M230.8 99.5h0M236.0 113.7h0M244.3 116.7h0M240.7 112.4h0M231.3 110.8h0M239.3 116.4h0M230.1 105.1h0M228.9 95.3h0M231.8 111.2h0M230.3 105.9h0M234.7 113.5h0M231.3 111.0h0M231.2 108.7h0M229.0 99.2h0M231.3 107.7h0M240.3 116.5h0M231.1 111.0h0M230.2 106.6h0M228.2 97.3h0M234.1 113.4h0M231.9 112.5h0M236.5 101.2h0M229.4 100.4h0M238.2 116.3h0M236.9 116.1h0M230.1 100.2h0M233.3 113.3h0M237.3 116.4h0M228.6 94.5h0M231.4 110.8h0M232.2 113.7h0M229.6 103.5h0M233.9 97.1h0M229.5 102.4h0M229.7 101.3h0M234.7 115.7h0M238.4 116.4h0M229.7 108.0h0M232.4 112.1h0M242.5 111.8h0M236.5 116.1h0M231.5 111.4h0M235.2 114.9h0M230.3 102.0h0M231.3 94.1h0M229.5 94.2h0M231.3 107.7h0M233.7 113.6h0M230.3 102.0h0M238.9 116.3h0M230.5 103.8h0M229.7 101.7h0M230.0 100.6h0M230.6 106.8h0M241.2 108.5h0M229.5 98.2h0M230.1 104.6h0M234.4 113.6h0M229.8 97.2h0M232.4 96.1h0M230.6 107.1h0M230.3 107.2h0M233.1 115.5h0M232.5 96.3h0M233.3 97.9h0M233.6 114.2h0M238.4 105.7h0M228.4 96.0h0M232.0 110.5h0M230.8 109.9h0M236.3 115.5h0M229.4 100.0h0M229.1 96.8h0M229.0 106.5h0M229.1 98.7h0M229.9 97.1h0M230.7 105.8h0M236.6 116.3h0M235.5 115.2h0M230.6 107.4h0M231.5 109.4h0M233.5 113.4h0M228.8 96.2h0M228.3 101.5h0M236.7 115.6h0M236.4 115.2h0M230.3 104.3h0M229.0 93.9h0M230.0 107.5h0M230.5 108.8h0M236.3 116.0h0M239.4 116.4h0M230.8 111.7h0M230.5 94.3h0M260.7 99.3h0M248.6 115.2h0M252.8 111.0h0M256.2 109.3h0M257.0 105.6h0M255.5 105.5h0M253.7 109.2h0M264.4 95.5h0M254.7 101.6h0M252.3 111.3h0M258.4 95.8h0M256.4 106.8h0M261.0 102.5h0M250.7 107.0h0M253.3 109.5h0M249.2 109.5h0M265.6 95.8h0M246.4 114.2h0M262.3 102.5h0M255.9 101.8h0M252.3 108.3h0M248.2 111.2h0M248.8 114.8h0M253.6 106.6h0M258.7 98.4h0M258.9 106.7h0M259.7 104.6h0M254.7 102.3h0M258.3 106.6h0M251.3 105.5h0M248.5 112.3h0M250.0 114.3h0M251.6 111.0h0M251.8 112.0h0M252.2 103.2h0M264.6 96.1h0M258.7 102.7h0M262.7 100.3h0M250.0 113.1h0M247.1 116.6h0M257.6 96.0h0M246.9 114.4h0M255.3 102.0h0M259.6 102.9h0M262.7 99.9h0M256.8 103.7h0M259.3 96.2h0M250.9 105.1h0M254.6 110.1h0M255.4 108.8h0M257.4 98.2h0M258.4 102.4h0M254.7 105.2h0M256.4 101.3h0M252.3 102.0h0M254.5 112.4h0M247.1 116.1h0M259.3 98.8h0M264.6 98.1h0M252.4 110.8h0M262.5 95.9h0M254.2 107.6h0M260.1 102.2h0M247.4 113.3h0M260.7 102.2h0M251.9 109.5h0M254.4 96.9h0M255.8 98.2h0M256.4 97.1h0M254.8 100.6h0M253.8 109.6h0M254.6 103.3h0M258.1 104.3h0M258.8 101.5h0M250.8 108.7h0M254.8 98.5h0M251.0 106.8h0M254.2 101.0h0M259.4 105.8h0M258.6 106.9h0M257.3 107.9h0M254.7 106.3h0M252.1 104.1h0M261.4 97.7h0M260.1 99.8h0M254.2 111.5h0M253.0 112.6h0M259.0 98.6h0M249.3 114.9h0M256.1 100.0h0M248.6 108.7h0M248.8 108.4h0M260.1 101.9h0M260.1 96.3h0M264.7 98.3h0M253.4 105.0h0M260.8 99.8h0M250.7 108.7h0M258.4 95.5h0M260.1 100.0h0M256.7 99.2h0M255.4 108.9h0M256.4 108.3h0M248.2 115.1h0M263.7 99.3h0M261.3 104.3h0M264.8 98.5h0M264.8 97.2h0M260.4 102.1h0M258.3 104.4h0M257.4 105.8h0M258.1 104.5h0M252.6 113.7h0M259.4 99.9h0M262.0 98.5h0M259.0 105.6h0M260.2 99.8h0M257.3 102.5h0M257.0 105.0h0M261.8 96.8h0M254.2 100.5h0M250.9 105.9h0M252.1 107.5h0M257.3 101.3h0M248.6 114.4h0M261.8 103.2h0M262.1 103.0h0M251.8 111.0h0M251.2 113.5h0M254.7 107.9h0M255.2 111.1h0M255.3 98.9h0M259.2 98.2h0M258.6 99.3h0M246.6 115.1h0M251.2 104.2h0M255.5 97.5h0M261.8 100.7h0M251.6 106.4h0M256.4 107.1h0M246.2 115.5h0M260.4 99.3h0M250.4 113.5h0M251.0 103.7h0M251.4 103.1h0M259.4 95.7h0M253.8 112.0h0M251.4 109.6h0M250.8 114.8h0M245.9 116.2h0M252.6 112.5h0M254.2 101.1h0M258.2 98.9h0M254.3 110.5h0M256.2 100.7h0M256.6 98.2h0M251.8 107.4h0M251.2 110.8h0M257.4 108.8h0M251.9 107.4h0M261.5 95.6h0M248.4 113.9h0M261.3 104.4h0M265.0 97.2h0M248.5 113.2h0M255.1 107.7h0M255.6 99.2h0M252.0 108.5h0M253.9 100.3h0M253.2 104.4h0M251.6 112.1h0M255.2 98.8h0M260.3 99.3h0M261.2 99.1h0M250.0 108.0h0M255.5 99.1h0M261.1 101.4h0M262.8 96.5h0M253.5 101.2h0M250.2 106.7h0M248.9 111.8h0M253.6 106.9h0M249.4 114.6h0M246.7 115.8h0M254.4 102.8h0M255.4 110.0h0M254.4 110.8h0M256.5 99.0h0M247.1 114.5h0M250.5 105.4h0M254.2 108.2h0M248.2 110.7h0M259.2 107.4h0M249.9 107.8h0M250.1 106.8h0M260.6 102.3h0M254.8 108.8h0M258.9 99.4h0M258.1 99.6h0M252.7 102.4h0M259.9 104.6h0M256.3 97.1h0M252.8 104.9h0M255.8 108.1h0M261.6 96.5h0M252.0 112.9h0M263.4 95.5h0M254.4 108.1h0M258.0 104.4h0M251.4 106.3h0M255.8 109.8h0M256.2 101.4h0M265.9 96.5h0M257.7 95.8h0M261.8 102.8h0M251.2 106.4h0M265.9 95.8h0M259.1 106.2h0M255.6 104.6h0M250.8 112.0h0M262.7 100.1h0M247.3 111.9h0M262.5 97.0h0M250.8 108.9h0M253.8 111.7h0M254.1 99.3h0M263.9 97.6h0M259.5 98.8h0M253.7 110.4h0M260.0 96.6h0M256.2 98.2h0M251.3 110.1h0M248.9 114.6h0M257.7 103.1h0M264.5 97.8h0M261.2 102.3h0M253.4 111.9h0M258.7 107.2h0M245.7 117.1h0M249.6 112.0h0M249.9 112.3h0M252.7 111.3h0M253.1 104.1h0M250.0 105.8h0M259.7 106.3h0M252.9 102.4h0M257.1 105.6h0M257.2 103.8h0M261.6 95.7h0M259.1 99.4h0M251.7 107.7h0M260.9 103.1h0M252.2 104.1h0M254.0 101.8h0M252.6 99.6h0M260.7 105.3h0M248.1 112.8h0M260.9 96.6h0M265.9 96.0h0M255.9 96.5h0M258.2 98.2h0M251.4 111.2h0M255.7 102.2h0M262.2 100.8h0M255.8 110.2h0M248.4 111.7h0M259.5 99.6h0M252.6 99.8h0M256.6 95.9h0M260.0 102.6h0M254.7 102.5h0M262.5 101.3h0M255.5 97.7h0M264.2 96.0h0M255.2 107.8h0M254.1 111.2h0M257.5 98.3h0M260.0 95.8h0M261.8 98.4h0M254.4 111.2h0M258.1 104.9h0M246.8 112.9h0M253.0 108.7h0M258.8 100.7h0M248.1 108.9h0M249.1 109.9h0M255.8 103.4h0M256.5 110.0h0M256.5 108.2h0M255.0 103.6h0M248.3 108.5h0M265.2 97.1h0M252.9 103.3h0M254.7 108.8h0M262.7 96.0h0M252.4 113.7h0M254.4 101.3h0M249.8 115.0h0M252.6 113.5h0M249.3 112.0h0M252.5 112.8h0M251.1 107.4h0M263.7 97.5h0M256.1 104.8h0M259.3 96.2h0M247.2 115.7h0M252.5 112.8h0M253.8 111.1h0M255.3 96.6h0M248.8 110.2h0M262.4 96.3h0M256.1 95.5h0M260.6 99.7h0M251.7 104.2h0M253.2 101.6h0M251.9 105.7h0M249.0 110.6h0M246.3 115.2h0M254.0 113.4h0M264.5 97.4h0M252.4 113.9h0M254.6 109.2h0M246.2 117.2h0M256.7 101.5h0M258.6 102.3h0M256.3 106.6h0M253.2 98.1h0M261.4 100.3h0M248.0 114.9h0M251.2 113.5h0M252.2 103.1h0M255.9 111.2h0M251.3 106.7h0M257.9 100.4h0M254.5 95.6h0M247.3 114.1h0M254.3 101.0h0M258.6 99.5h0M252.9 102.5h0M249.5 107.8h0M249.0 109.1h0M256.7 98.6h0M263.3 99.7h0M257.0 104.2h0M258.3 102.1h0M258.2 100.2h0M259.8 106.2h0M258.1 103.4h0M248.1 116.4h0M253.6 111.8h0M250.1 110.0h0M249.0 110.0h0M256.7 103.4h0M256.7 108.2h0M247.5 116.6h0M263.9 97.3h0M250.2 108.2h0M255.2 99.9h0M261.5 104.1h0M261.0 100.3h0M255.5 101.8h0M262.5 102.1h0M248.6 111.5h0M253.5 106.1h0M259.5 106.4h0M257.4 104.7h0M253.6 106.4h0M261.5 98.7h0M252.9 110.2h0M257.2 109.8h0M251.4 112.1h0M249.9 110.4h0M260.3 101.7h0M246.2 116.1h0M263.6 100.9h0M254.0 108.7h0M252.8 101.2h0M259.7 106.1h0M251.5 113.4h0M253.9 107.4h0M245.4 116.3h0M264.0 96.9h0M255.8 97.5h0M250.3 106.7h0M256.0 107.1h0M248.9 114.2h0M250.0 112.3h0M261.3 96.5h0M254.2 111.9h0M257.3 103.0h0M253.4 107.7h0M248.0 113.3h0M258.8 102.7h0M258.6 100.7h0M247.6 111.1h0M261.3 102.8h0M264.8 97.1h0M259.5 96.6h0M261.8 102.4h0M257.0 97.3h0M246.9 112.6h0M250.1 108.4h0M259.4 98.8h0M262.5 100.0h0M257.6 106.7h0M263.2 97.5h0M248.1 115.0h0M259.6 96.0h0M254.4 106.6h0M251.2 111.8h0M255.9 96.5h0M257.7 103.4h0M251.1 104.3h0M251.5 105.9h0M261.3 103.1h0M252.2 103.6h0M256.4 95.6h0M255.5 111.1h0M251.2 113.1h0M250.8 114.8h0M247.8 116.5h0M258.2 107.3h0M257.8 99.9h0M259.3 102.1h0M258.3 103.6h0M250.3 109.8h0M254.6 104.3h0M263.1 98.7h0M252.8 109.3h0M259.1 102.0h0M260.4 99.6h0M254.5 108.4h0M258.6 101.3h0M251.4 109.0h0M261.7 103.6h0M254.0 107.9h0M259.6 104.3h0M263.2 99.5h0M256.1 106.3h0M251.5 102.1h0M249.4 114.0h0M260.8 96.8h0M253.6 101.8h0M263.7 95.6h0M259.4 97.2h0M256.0 110.2h0M257.2 106.8h0M255.3 110.3h0M258.4 104.8h0M250.8 108.7h0M256.0 96.6h0M258.5 103.9h0M256.0 101.1h0M255.8 103.6h0M252.1 110.2h0M255.9 99.4h0M259.4 99.2h0M257.0 104.9h0M251.4 112.0h0M259.3 101.6h0M255.1 99.2h0M258.8 99.0h0M253.9 110.3h0M251.6 107.3h0M257.4 104.8h0M253.4 112.2h0M256.7 106.3h0M246.3 115.2h0M259.3 98.5h0M250.7 113.8h0M259.7 95.5h0M257.6 105.9h0M260.9 96.6h0M252.0 106.9h0M255.9 104.7h0M255.4 98.4h0M254.0 112.3h0M257.9 95.5h0M249.6 110.3h0M256.0 111.1h0M251.7 114.4h0M252.7 110.2h0M255.6 111.2h0M250.2 111.1h0M253.6 102.6h0M248.9 109.2h0M249.1 110.2h0M258.6 104.3h0M262.5 101.9h0M260.2 99.9h0M262.8 97.4h0M259.7 102.9h0M257.7 103.0h0M253.9 109.2h0M249.1 108.3h0M257.2 103.3h0M261.7 100.4h0M256.0 103.8h0M249.0 108.0h0M249.8 112.9h0M261.4 100.5h0M257.0 95.7h0M255.1 105.1h0M255.2 99.9h0M258.8 102.1h0M253.7 110.3h0M260.2 98.5h0M255.6 98.1h0M249.5 114.8h0M264.9 98.0h0M252.2 111.3h0M253.1 103.8h0M250.7 104.8h0M261.4 98.1h0M259.3 99.3h0M261.3 97.5h0M265.8 96.6h0M259.6 99.5h0M255.2 109.0h0M256.3 108.0h0M263.3 98.8h0M254.6 107.6h0M246.1 115.4h0M249.0 107.8h0M248.3 111.0h0M255.1 98.6h0M251.5 108.0h0M247.5 112.4h0M258.6 104.6h0M254.2 108.4h0M252.7 100.6h0M249.3 115.4h0M246.0 117.0h0M254.0 97.5h0M260.8 101.0h0M253.2 113.7h0M246.2 117.2h0M265.8 95.9h0M256.7 104.7h0M255.5 101.8h0M247.2 113.1h0M254.2 99.9h0M255.6 97.7h0M258.9 96.3h0M247.8 114.5h0M256.3 100.7h0M249.3 106.5h0M251.4 111.5h0M252.9 107.1h0M261.9 96.3h0M248.5 111.4h0M251.1 108.3h0M256.3 104.7h0M250.2 107.9h0M259.3 106.2h0M249.2 113.4h0M252.1 108.1h0M262.8 96.0h0M261.2 103.6h0M254.8 100.5h0M265.6 95.8h0M262.7 98.2h0M249.4 110.1h0M263.8 97.4h0M262.4 101.8h0M251.1 106.5h0M248.6 112.8h0M245.4 117.1h0M260.5 103.5h0M262.6 101.7h0M256.9 99.7h0M257.6 105.8h0M249.2 112.3h0M265.5 96.2h0M253.6 105.8h0M257.3 105.0h0M252.7 104.1h0M259.5 102.7h0M248.8 108.2h0M247.2 112.5h0M254.3 108.6h0M259.4 104.5h0M261.0 96.2h0M255.8 99.9h0M247.2 113.0h0M252.3 104.5h0M255.6 104.7h0M256.0 98.0h0M251.9 108.2h0M255.2 105.6h0M247.4 113.4h0M250.1 106.2h0M254.9 108.7h0M250.5 115.1h0M249.6 111.1h0M261.9 99.2h0M259.9 99.5h0M263.4 95.6h0M257.6 97.2h0M254.2 103.9h0M265.4 97.4h0M262.3 98.8h0M256.3 101.5h0M252.2 107.2h0M259.5 106.7h0M256.8 96.7h0M254.6 111.5h0M250.9 114.4h0M257.6 100.7h0M254.0 105.3h0M255.5 101.1h0M255.3 98.2h0M252.1 102.3h0M246.0 116.1h0M248.6 112.6h0M256.8 100.4h0M252.7 100.7h0M262.7 101.1h0M255.3 109.6h0M259.2 106.4h0M262.8 99.0h0M253.3 110.5h0M252.4 102.3h0M255.0 102.8h0M259.7 102.6h0M256.3 98.7h0M250.9 107.6h0M247.2 113.2h0M254.0 100.6h0M250.9 111.0h0M247.9 110.3h0M262.0 97.8h0M260.9 102.6h0M255.9 100.1h0M261.7 99.8h0M254.1 99.4h0M261.3 103.2h0M249.5 111.2h0M254.6 99.1h0M249.0 113.3h0M249.5 110.6h0M264.5 96.0h0M256.5 97.8h0M260.0 97.6h0M247.4 113.9h0M248.0 109.3h0M253.5 103.8h0M249.0 109.0h0M253.5 110.5h0M249.2 110.1h0M250.5 112.2h0M253.1 104.5h0M259.8 102.7h0M254.0 110.9h0M252.5 106.2h0M254.8 97.2h0M257.4 103.8h0M265.2 96.6h0M257.3 95.9h0M254.6 96.8h0M253.3 100.7h0M253.3 99.4h0M260.1 101.4h0M260.6 104.3h0M251.8 106.5h0M252.1 110.3h0M251.6 105.0h0M259.0 98.0h0M252.5 108.5h0M258.3 108.0h0M253.6 111.3h0M258.4 100.8h0M254.3 100.2h0M259.1 100.6h0M254.2 103.9h0M261.7 97.1h0M251.0 102.9h0M254.7 110.0h0M253.9 105.7h0M259.3 100.1h0M246.0 116.8h0M255.8 106.1h0M260.0 96.8h0M265.3 97.6h0M255.7 101.4h0M259.3 104.0h0M253.0 108.6h0M252.5 112.2h0M252.3 107.6h0M261.8 103.2h0M253.5 104.3h0M251.0 112.9h0M248.7 107.4h0M253.3 100.9h0M262.1 99.2h0M254.3 103.0h0M251.0 108.2h0M256.9 103.1h0M252.6 113.0h0M259.0 96.6h0M253.9 98.0h0M254.1 100.2h0M251.9 112.5h0M257.5 99.6h0M249.0 110.1h0M254.7 101.4h0M254.3 106.1h0M252.3 105.0h0M264.4 98.5h0M258.1 97.5h0M247.4 116.6h0M252.7 102.1h0M255.2 111.2h0M248.2 110.7h0M253.8 97.6h0M254.7 96.6h0M249.2 109.2h0M255.1 96.6h0M257.2 108.5h0M248.8 115.2h0M248.9 107.3h0M257.7 97.6h0M255.0 109.9h0M258.7 103.9h0M261.2 96.5h0M265.0 98.1h0M259.3 103.5h0M254.3 104.8h0M255.5 108.7h0M255.9 100.5h0M261.9 103.5h0M252.9 109.8h0M249.9 108.3h0M253.2 110.8h0M251.1 105.6h0M262.1 96.7h0M254.3 109.7h0M256.3 108.1h0M251.0 112.1h0M253.4 100.4h0M263.5 98.0h0M249.3 110.7h0M260.4 96.2h0M246.5 116.1h0M253.4 110.4h0M249.9 108.5h0M254.0 109.2h0M257.7 103.5h0M251.5 111.4h0M255.4 108.4h0M259.9 102.3h0M256.4 97.4h0M248.3 115.6h0M254.9 100.1h0M259.5 100.2h0M260.8 99.1h0M255.5 104.7h0M256.9 97.1h0M249.0 111.1h0M252.6 112.8h0M251.5 113.7h0M258.3 100.5h0M250.3 107.7h0M253.0 106.3h0M261.4 101.7h0M265.1 98.2h0M260.0 96.8h0M252.1 110.1h0M259.7 103.4h0M259.1 105.5h0M257.4 97.5h0M258.0 99.3h0M255.6 104.9h0M253.1 112.3h0M254.4 100.6h0M254.3 112.8h0M254.1 113.2h0M250.2 109.1h0M263.9 99.3h0M253.8 98.3h0M254.6 101.3h0M261.2 101.2h0M254.4 101.3h0M251.5 107.7h0M248.7 115.3h0M263.0 96.5h0M259.8 100.0h0M252.9 105.9h0M254.2 103.5h0M254.5 107.7h0M254.0 97.4h0M259.5 100.1h0M253.9 100.1h0M254.9 105.4h0M258.1 101.8h0M251.3 110.0h0M254.7 104.0h0M257.0 97.2h0M247.2 113.5h0M252.5 107.9h0M256.5 110.1h0M252.0 113.3h0M250.0 109.5h0M247.8 112.1h0M262.3 98.0h0M254.7 111.1h0M246.3 117.0h0M256.0 107.3h0M256.9 101.8h0M257.4 100.0h0M249.8 108.7h0M248.7 115.6h0M262.2 100.5h0M258.9 105.1h0M256.7 99.7h0M253.2 100.6h0M256.3 104.6h0M261.1 96.2h0M246.8 116.0h0M252.2 110.8h0M254.5 102.5h0M254.3 98.1h0M264.5 98.0h0M262.7 96.3h0M256.2 105.9h0M253.6 111.3h0M248.3 112.8h0M255.6 95.7h0M259.2 98.1h0M255.4 104.0h0M252.0 112.5h0M257.8 100.0h0M262.7 98.0h0M247.1 113.9h0M257.9 104.4h0M248.5 110.3h0M259.4 106.4h0M248.5 108.8h0M256.1 102.0h0M264.2 99.0h0M259.8 104.2h0M247.4 116.1h0M248.9 111.3h0M252.2 113.0h0M260.6 100.4h0M249.5 111.7h0M254.8 104.7h0M255.2 111.3h0M253.1 110.6h0M264.3 95.6h0M260.2 101.5h0M263.5 99.5h0M257.6 107.0h0M250.5 111.2h0M262.7 97.7h0M251.4 113.7h0M252.6 104.7h0M252.2 102.7h0M261.8 97.5h0M259.2 101.6h0M255.7 96.9h0M251.4 109.7h0M249.6 108.3h0M253.3 100.8h0M259.7 103.5h0M258.2 95.5h0M258.5 99.3h0M260.8 96.9h0M249.5 112.1h0M254.9 102.7h0M252.5 109.5h0M246.3 115.5h0M256.2 109.3h0M256.7 104.2h0M247.4 116.4h0M259.5 105.1h0M251.3 104.2h0M259.3 99.2h0M254.5 96.4h0M258.3 101.1h0M254.1 100.2h0M262.7 98.0h0M258.1 105.6h0M264.4 99.3h0M250.0 107.1h0M251.3 102.7h0M253.5 106.3h0M257.5 106.0h0M252.0 106.2h0M254.0 99.3h0M249.5 106.3h0M261.0 99.9h0M262.9 96.2h0M259.6 104.6h0M259.2 96.2h0M260.5 99.6h0M259.5 99.7h0M264.1 99.6h0M250.0 115.3h0M256.6 108.9h0M255.1 111.4h0M265.1 97.1h0M252.9 111.8h0M257.2 102.0h0M251.9 111.3h0M245.1 116.9h0M259.6 101.8h0M245.4 116.6h0M266.3 95.6h0M260.4 103.0h0M250.4 115.0h0M254.7 104.2h0M253.8 104.9h0M251.0 111.1h0M258.5 97.9h0M253.4 110.0h0M255.7 108.2h0M260.1 101.0h0M246.9 115.2h0M252.3 109.5h0M248.9 115.2h0M250.9 112.6h0M257.5 97.1h0M251.4 112.8h0M250.6 113.1h0M248.2 112.4h0M258.1 105.6h0M259.7 104.3h0M257.6 107.4h0M260.4 95.6h0M263.6 96.6h0M250.1 113.0h0M255.2 98.6h0M256.9 108.0h0M257.4 104.6h0M255.3 98.8h0M260.3 96.8h0M254.8 104.6h0M258.4 96.3h0M249.0 110.6h0M257.9 96.9h0M254.6 106.2h0M255.8 103.7h0M257.4 103.9h0M256.0 108.3h0M253.8 106.4h0M259.8 99.8h0M260.3 103.0h0M264.1 96.4h0M261.4 98.0h0M264.8 97.5h0M264.1 96.1h0M252.1 102.2h0M256.0 95.9h0M245.4 116.8h0M253.4 102.7h0M261.7 95.9h0M262.2 101.3h0M252.4 111.0h0M252.3 101.9h0M260.3 97.8h0M261.1 96.2h0M247.7 110.2h0M258.7 103.2h0M257.9 98.5h0M249.0 113.4h0M260.7 97.5h0M260.1 95.7h0M259.2 106.5h0M254.5 103.3h0M254.1 110.5h0M263.5 95.8h0M253.8 109.2h0M255.3 99.0h0M256.2 108.7h0M264.9 96.8h0M254.4 106.0h0M258.9 100.3h0M260.7 101.6h0M251.7 105.9h0M251.0 108.9h0M258.7 99.8h0M255.4 96.0h0M253.9 99.5h0M259.6 101.2h0M258.4 98.2h0M257.4 99.9h0M259.2 99.0h0M248.5 108.8h0M260.6 98.3h0M254.1 98.3h0M247.6 110.3h0M266.2 95.7h0M256.2 108.0h0M249.4 115.4h0M248.1 113.0h0M253.7 99.4h0M249.0 115.5h0M254.3 96.1h0M251.6 107.9h0M261.3 105.4h0M249.3 105.7h0M264.5 101.0h0M243.8 116.8h0M259.8 107.3h0M258.3 108.8h0M264.5 101.1h0M251.8 116.0h0M253.8 113.5h0M261.6 95.4h0M262.0 104.8h0M263.1 102.8h0M263.7 106.1h0M257.8 94.4h0M253.7 113.9h0M262.2 94.5h0M262.6 103.3h0M265.5 97.7h0M255.4 95.0h0M259.7 108.9h0M262.8 104.7h0M253.2 114.5h0M255.9 112.9h0M254.9 112.6h0M249.2 116.3h0M261.3 95.3h0M266.8 94.3h0M246.5 112.8h0M251.8 115.5h0M257.8 112.8h0M263.8 103.3h0M256.6 95.5h0M248.4 116.6h0M254.2 115.5h0M266.0 98.9h0M258.2 95.1h0M257.9 94.8h0M264.9 95.3h0M259.8 94.1h0M260.8 95.3h0M264.2 101.0h0M254.9 113.9h0M263.6 102.3h0M257.9 111.6h0M263.1 94.9h0M244.0 115.2h0M256.5 111.3h0M261.8 104.6h0M257.9 94.9h0M253.2 114.4h0M259.5 93.0h0M262.9 103.0h0M260.7 94.8h0M256.9 110.3h0M263.0 106.6h0M262.3 95.4h0M258.8 109.7h0M266.3 96.2h0M251.6 115.3h0M266.5 96.6h0M260.0 107.8h0M266.9 98.0h0M258.6 110.0h0M260.2 107.9h0M261.0 106.5h0M259.0 109.5h0M258.5 110.3h0M249.0 106.4h0M256.4 95.3h0M260.9 94.1h0M250.9 115.8h0M251.5 116.5h0M251.0 115.6h0M259.9 107.6h0M263.0 102.8h0M263.0 102.1h0M260.6 94.1h0M266.3 98.6h0M257.5 94.6h0M256.8 110.7h0M259.5 108.9h0M262.3 104.5h0M263.7 101.0h0M265.7 99.4h0M266.0 100.2h0M261.5 104.7h0M261.8 105.1h0M260.5 108.2h0M261.1 94.7h0M261.9 95.4h0M228.6 104.6h0M230.9 114.6h0M230.0 114.2h0M230.9 107.2h0M232.2 113.8h0M230.8 115.5h0M228.5 109.7h0M229.6 103.8h0M231.9 101.3h0M229.4 106.8h0M231.4 109.6h0M231.1 111.5h0M232.2 107.0h0M228.3 111.0h0M230.0 110.6h0M231.1 103.8h0M228.1 114.6h0M232.4 112.9h0M230.0 101.6h0M230.2 103.1h0M231.7 101.9h0M232.1 103.7h0M228.5 101.3h0M232.4 114.1h0M232.2 99.8h0M257.6 109.4h0M265.1 113.0h0M263.2 113.5h0M259.1 103.1h0M262.6 105.2h0M263.5 107.3h0M265.3 107.0h0M268.2 98.9h0M262.4 114.5h0M268.5 112.2h0M266.8 99.5h0M268.6 103.1h0M268.9 101.2h0M267.1 115.1h0M258.0 101.4h0M257.3 114.6h0M260.2 104.0h0M260.2 110.6h0M260.7 101.7h0M261.9 107.3h0M261.7 111.9h0M261.1 98.6h0M265.0 98.7h0M263.4 109.4h0M268.9 99.4h0M215.6 96.0h0M219.4 109.1h0M222.4 106.6h0M223.9 104.2h0M225.4 113.2h0M227.7 100.1h0M268.4 97.6h0M271.4 102.5h0M273.7 100.1h0M267.6 113.2h0M266.1 109.1h0M270.6 107.5h0M263.9 99.3h0M279.7 107.5h0" stroke="#000" stroke-width="1.5" stroke-linecap="round" fill="none"/>
<path d="M261.2 90.2h0M275.0 79.6h0M256.9 95.1h0M287.2 75.8h0M268.9 80.8h0M266.0 80.5h0M259.0 85.5h0M282.8 73.4h0M260.8 87.9h0M256.5 91.3h0M273.5 78.2h0M266.8 92.5h0M285.3 67.9h0M261.0 92.7h0M258.6 83.6h0M278.2 77.9h0M259.2 85.1h0M269.8 92.9h0M285.8 65.3h0M265.6 82.2h0M259.2 84.4h0M288.2 79.2h0M291.1 67.8h0M270.6 85.5h0M265.4 86.3h0M269.5 76.3h0M270.8 91.1h0M268.9 92.5h0M262.2 90.7h0M271.9 86.7h0M262.0 85.5h0M259.7 87.7h0M258.3 86.1h0M284.5 72.6h0M279.1 77.2h0M260.1 87.6h0M261.8 94.5h0M282.6 78.4h0M269.2 78.1h0M277.0 80.5h0M279.3 69.1h0M261.6 92.3h0M265.1 86.0h0M276.4 88.7h0M282.6 83.8h0M256.9 84.5h0M290.7 70.6h0M266.4 78.6h0M259.1 85.7h0M263.0 88.7h0M267.4 83.5h0M288.7 72.1h0M273.8 80.3h0M276.8 73.6h0M257.2 94.7h0M265.9 87.7h0M263.0 85.7h0M272.8 80.3h0M275.1 85.7h0M279.0 79.8h0M269.7 77.1h0M266.7 78.3h0M265.1 81.2h0M272.9 90.3h0M270.9 76.6h0M283.0 77.3h0M268.0 83.6h0M266.3 84.3h0M276.7 72.6h0M270.5 78.7h0M263.9 87.9h0M272.6 83.6h0M273.0 76.9h0M259.5 92.9h0M258.5 93.4h0M261.0 84.6h0M261.4 83.8h0M258.0 94.7h0M263.5 82.7h0M265.3 82.4h0M260.3 94.4h0M257.9 95.5h0M262.2 84.4h0M269.7 90.2h0M285.9 79.9h0M265.9 94.6h0M272.9 79.8h0M275.9 85.7h0M291.8 71.3h0M276.6 79.6h0M267.9 84.3h0M260.1 86.9h0M269.6 83.0h0M267.0 79.2h0M265.9 89.8h0M266.9 90.4h0M266.8 90.2h0M256.4 93.6h0M256.6 92.8h0M261.3 92.9h0M261.0 83.7h0M261.5 95.2h0M263.6 91.6h0M263.6 92.1h0M256.5 95.2h0M265.4 94.4h0M265.4 95.5h0M256.5 95.4h0M261.7 88.3h0M264.8 86.1h0M258.1 95.4h0M267.8 90.2h0M266.5 87.6h0M259.1 83.3h0M263.2 92.1h0M262.9 88.2h0M261.7 82.9h0M257.8 90.4h0M265.6 95.5h0M266.8 86.4h0M263.1 85.6h0M266.2 92.7h0M266.6 89.0h0M259.1 86.1h0M266.4 90.8h0M262.7 84.4h0M256.5 82.9h0M265.3 94.4h0M261.0 92.5h0M259.0 92.2h0M262.2 94.2h0M265.5 88.2h0M267.8 82.2h0M257.9 94.4h0M257.3 94.7h0M262.2 82.7h0M264.5 86.5h0M260.3 95.5h0M262.0 91.7h0M258.6 89.3h0M262.4 94.1h0M265.2 84.4h0M259.2 84.9h0M260.2 92.5h0M265.6 87.3h0M268.0 93.5h0M260.7 84.8h0M257.8 91.7h0M259.0 83.1h0M266.0 85.7h0M264.6 83.5h0M267.4 87.6h0M258.6 94.9h0M264.8 88.0h0M266.0 92.2h0M257.8 95.2h0M266.7 81.1h0M260.2 82.3h0M256.4 91.2h0M263.7 90.4h0M258.7 86.6h0M262.8 84.0h0M258.3 80.8h0M267.0 88.3h0M260.1 88.7h0M285.0 60.7h0M282.7 62.4h0M286.5 64.8h0M292.5 75.5h0M293.3 79.6h0M277.4 69.7h0" stroke="#f01414" stroke-width="1.9" stroke-linecap="round" fill="none"/>
<path d="M220.9 92.7h0M223.1 93.1h0M225.4 93.5h0M226.2 93.1h0M226.9 92.3h0M227.7 93.1h0M232.9 93.9h0" stroke="#1f2fe6" stroke-width="1.9" stroke-linecap="round" fill="none"/>
<line x1="207.30" y1="117.90" x2="207.30" y2="35.30" stroke="#000" stroke-width="1.2" />
<line x1="204.30" y1="35.30" x2="207.30" y2="35.30" stroke="#000" stroke-width="0.9" />
<text x="203.70" y="37.80" font-size="6.4" text-anchor="end" font-weight="bold" fill="#222" >-10</text>
<line x1="204.30" y1="51.70" x2="207.30" y2="51.70" stroke="#000" stroke-width="0.9" />
<text x="203.70" y="54.20" font-size="6.4" text-anchor="end" font-weight="bold" fill="#222" >-8</text>
<line x1="204.30" y1="68.10" x2="207.30" y2="68.10" stroke="#000" stroke-width="0.9" />
<text x="203.70" y="70.60" font-size="6.4" text-anchor="end" font-weight="bold" fill="#222" >-6</text>
<line x1="204.30" y1="84.50" x2="207.30" y2="84.50" stroke="#000" stroke-width="0.9" />
<text x="203.70" y="87.00" font-size="6.4" text-anchor="end" font-weight="bold" fill="#222" >-4</text>
<line x1="204.30" y1="100.90" x2="207.30" y2="100.90" stroke="#000" stroke-width="0.9" />
<text x="203.70" y="103.40" font-size="6.4" text-anchor="end" font-weight="bold" fill="#222" >-2</text>
<line x1="204.30" y1="117.30" x2="207.30" y2="117.30" stroke="#000" stroke-width="0.9" />
<text x="203.70" y="119.80" font-size="6.4" text-anchor="end" font-weight="bold" fill="#222" >0</text>
<line x1="206.70" y1="117.30" x2="305.32" y2="117.30" stroke="#000" stroke-width="1.2" />
<line x1="207.30" y1="117.30" x2="207.30" y2="119.50" stroke="#000" stroke-width="0.9" />
<text x="207.30" y="127.70" font-size="6.4" text-anchor="middle" font-weight="bold" fill="#222" >-5</text>
<line x1="245.00" y1="117.30" x2="245.00" y2="119.50" stroke="#000" stroke-width="0.9" />
<text x="245.00" y="127.70" font-size="6.4" text-anchor="middle" font-weight="bold" fill="#222" >0</text>
<line x1="282.70" y1="117.30" x2="282.70" y2="119.50" stroke="#000" stroke-width="0.9" />
<text x="282.70" y="127.70" font-size="6.4" text-anchor="middle" font-weight="bold" fill="#222" >5</text>
<line x1="226.15" y1="117.30" x2="226.15" y2="118.80" stroke="#222" stroke-width="0.7" />
<line x1="263.85" y1="117.30" x2="263.85" y2="118.80" stroke="#222" stroke-width="0.7" />
<line x1="301.55" y1="117.30" x2="301.55" y2="118.80" stroke="#222" stroke-width="0.7" />
<text transform="translate(191.3,92.3) rotate(-90)" font-size="6.2" fill="#555">-log10 P</text>
<text x="237.80" y="136.80" font-size="6.6" text-anchor="start" font-weight="normal" fill="#4a4a4a" >fold change (log<tspan font-size="3.8" dy="1.3">2</tspan><tspan dy="-1.3">)</tspan></text>
<text transform="translate(394.7,11.8) scale(0.83,1)" font-size="9" fill="#111" stroke="#111" stroke-width="0.25">C</text>
<text x="416.00" y="13.80" font-size="7.7" text-anchor="start" font-weight="normal" fill="#111" stroke="#111" stroke-width="0.15">Ala1032Thr</text>
<text x="416.00" y="24.80" font-size="7.7" text-anchor="start" font-weight="normal" fill="#111" stroke="#111" stroke-width="0.15">Ser301Pro</text>
<line x1="446.38" y1="35.00" x2="446.38" y2="117.00" stroke="#aaa" stroke-width="1.0" stroke-dasharray="1 1.5"/>
<line x1="470.83" y1="35.00" x2="470.83" y2="117.00" stroke="#aaa" stroke-width="1.0" stroke-dasharray="1 1.5"/>
<path d="M447.3 96.0h0M449.2 113.1h0M447.1 112.3h0M447.0 107.2h0M447.8 110.3h0M451.5 109.5h0M443.9 89.4h0M450.9 116.1h0M452.6 108.3h0M450.2 114.4h0M455.0 115.7h0M451.1 103.1h0M455.9 116.6h0M446.4 109.6h0M448.7 114.1h0M445.9 94.6h0M447.7 112.7h0M446.7 90.7h0M453.5 111.5h0M446.7 104.6h0M452.3 113.8h0M448.0 108.9h0M446.1 97.0h0M449.5 110.0h0M445.0 89.6h0M447.3 97.3h0M451.0 115.8h0M448.5 113.1h0M444.2 88.1h0M448.2 112.6h0M446.9 112.3h0M453.5 108.2h0M444.1 91.0h0M447.9 94.4h0M453.0 112.0h0M445.3 91.8h0M450.2 107.1h0M445.7 88.7h0M450.8 105.2h0M450.4 116.0h0M450.0 100.8h0M451.0 104.9h0M448.8 102.1h0M456.1 116.1h0M450.6 113.2h0M446.1 100.2h0M451.2 108.4h0M447.1 105.5h0M448.8 112.4h0M450.6 102.9h0M449.8 114.0h0M447.0 105.8h0M453.5 110.1h0M454.8 114.5h0M447.5 101.2h0M450.0 106.6h0M448.1 100.2h0M456.6 113.5h0M456.4 113.2h0M449.3 105.7h0M447.6 102.0h0M453.0 112.6h0M452.5 106.1h0M453.7 109.2h0M447.0 108.9h0M444.8 86.3h0M448.7 96.5h0M450.5 101.0h0M447.6 93.9h0M447.6 96.8h0M452.5 107.9h0M448.2 96.5h0M447.8 112.0h0M454.1 109.2h0M445.2 90.6h0M448.7 99.2h0M444.6 91.4h0M452.8 110.7h0M451.9 112.2h0M448.9 104.0h0M446.8 110.0h0M453.3 106.2h0M451.6 102.7h0M446.4 107.9h0M446.9 100.0h0M452.3 104.2h0M445.1 95.5h0M457.1 117.1h0M443.5 86.2h0M450.5 105.5h0M446.6 100.7h0M450.0 98.9h0M449.0 110.2h0M448.9 114.1h0M455.1 116.6h0M449.3 108.6h0M449.1 95.6h0M446.0 106.9h0M448.9 99.9h0M452.1 110.1h0M455.5 114.8h0M444.6 91.7h0M447.3 92.9h0M444.7 86.4h0M446.9 103.4h0M451.5 106.3h0M452.4 113.1h0M450.6 99.9h0M449.7 115.8h0M452.1 112.7h0M449.8 109.9h0M448.2 103.9h0M447.2 108.6h0M449.4 104.5h0M451.1 104.3h0M447.7 104.5h0M447.7 113.0h0M449.2 100.3h0M447.4 98.8h0M445.0 91.7h0M445.1 94.2h0M447.3 93.9h0M450.1 101.3h0M446.2 101.4h0M453.3 106.6h0M448.1 101.2h0M446.9 106.9h0M448.4 103.2h0M447.5 104.6h0M455.3 112.0h0M453.0 108.8h0M448.5 100.1h0M456.4 116.3h0M454.6 109.5h0M447.1 106.8h0M445.8 102.0h0M449.3 104.8h0M451.0 109.4h0M446.0 98.3h0M453.0 115.0h0M445.2 96.3h0M446.9 102.7h0M450.2 99.5h0M444.4 91.9h0M448.7 95.3h0M444.8 92.2h0M444.8 85.4h0M449.6 109.1h0M448.7 101.2h0M453.4 115.2h0M453.4 113.5h0M450.3 103.5h0M448.0 99.1h0M443.8 89.0h0M452.0 104.4h0M447.1 111.0h0M446.2 93.0h0M450.2 108.2h0M449.0 111.1h0M449.5 107.9h0M447.3 93.1h0M445.0 86.0h0M446.9 108.0h0M446.1 99.4h0M443.7 87.1h0M451.9 108.2h0M452.3 111.0h0M448.3 95.9h0M447.9 98.2h0M445.5 94.1h0M451.1 104.7h0M454.4 111.2h0M455.6 114.5h0M453.4 107.9h0M447.3 99.0h0M446.1 89.0h0M452.5 108.0h0M447.4 107.0h0M452.8 112.6h0M450.5 102.3h0M451.1 114.8h0M446.2 109.7h0M447.3 93.5h0M449.5 98.4h0M445.4 92.0h0M445.2 97.2h0M452.3 109.4h0M457.5 116.7h0M447.2 97.7h0M451.8 104.7h0M452.7 105.4h0M445.8 90.1h0M449.4 100.6h0M448.7 97.0h0M448.1 113.1h0M450.5 108.2h0M449.6 98.1h0M448.9 102.0h0M451.9 102.9h0M450.2 116.2h0M455.7 113.7h0M453.5 115.1h0M450.8 116.5h0M449.8 112.9h0M447.5 93.3h0M448.5 98.0h0M447.2 112.8h0M446.1 107.5h0M450.6 103.1h0M452.3 115.2h0M444.3 90.4h0M448.9 113.3h0M447.5 108.2h0M446.6 94.7h0M454.2 112.8h0M451.6 111.7h0M446.3 96.0h0M446.5 106.2h0M450.2 114.1h0M444.1 85.1h0M456.8 115.1h0M451.7 115.5h0M446.4 110.1h0M449.2 111.5h0M454.5 115.6h0M450.5 109.0h0M450.4 109.1h0M449.1 100.4h0M445.5 102.2h0M448.5 98.0h0M449.4 99.8h0M451.4 109.6h0M448.0 110.4h0M445.7 101.1h0M454.6 111.2h0M451.7 111.5h0M453.9 111.0h0M445.8 96.5h0M454.2 115.0h0M444.8 96.0h0M448.9 102.0h0M451.6 112.6h0M449.0 98.7h0M454.8 111.2h0M448.9 111.6h0M456.8 114.8h0M445.3 92.5h0M447.7 105.0h0M443.8 84.5h0M444.9 93.3h0M447.8 109.9h0M449.9 112.7h0M446.2 100.1h0M443.5 86.6h0M451.3 103.6h0M447.8 111.1h0M449.5 103.6h0M447.1 100.7h0M444.9 97.4h0M453.2 110.0h0M450.7 111.6h0M447.8 107.1h0M446.5 97.0h0M451.5 105.5h0M444.9 88.9h0M444.9 97.3h0M451.6 106.1h0M446.9 109.1h0M445.0 91.5h0M450.4 102.0h0M450.7 113.7h0M448.4 102.5h0M450.8 104.1h0M449.1 98.1h0M446.9 91.1h0M445.6 96.3h0M455.9 112.7h0M452.9 105.5h0M450.2 100.3h0M444.3 87.3h0M450.6 112.3h0M449.2 96.7h0M449.8 109.4h0M456.8 115.2h0M445.1 92.9h0M446.4 105.5h0M446.8 103.5h0M445.2 99.1h0M445.6 99.7h0M448.8 114.6h0M447.7 113.7h0M455.9 116.2h0M446.0 91.1h0M449.2 98.3h0M448.1 106.5h0M445.0 95.4h0M448.1 97.7h0M446.6 107.7h0M454.2 110.3h0M447.1 93.4h0M445.9 88.4h0M445.1 97.2h0M453.3 112.1h0M447.4 107.6h0M452.1 105.0h0M445.6 87.4h0M447.8 99.0h0M447.5 100.2h0M448.5 113.0h0M455.5 111.2h0M449.5 110.1h0M448.5 113.6h0M454.4 110.8h0M447.4 112.0h0M451.8 114.1h0M452.7 108.0h0M448.7 114.3h0M449.6 109.7h0M447.8 103.1h0M449.8 107.3h0M453.9 111.5h0M450.6 110.9h0M448.1 104.0h0M446.3 109.9h0M450.2 113.9h0M445.2 100.8h0M452.0 111.4h0M451.1 112.1h0M446.4 94.5h0M445.3 93.1h0M448.4 105.6h0M451.1 102.9h0M454.8 112.4h0M454.3 110.4h0M454.6 115.9h0M446.9 109.6h0M455.3 115.9h0M445.7 96.4h0M450.4 108.5h0M450.9 105.8h0M450.1 111.1h0M445.3 89.9h0M445.2 97.6h0M452.1 107.8h0M455.9 114.9h0M445.5 99.0h0M446.8 111.8h0M447.2 105.0h0M450.8 107.5h0M456.3 114.2h0M447.7 112.7h0M447.6 111.2h0M449.1 101.1h0M445.3 90.6h0M453.1 108.7h0M447.2 112.5h0M447.0 106.9h0M451.4 109.6h0M446.4 99.3h0M445.4 101.0h0M450.8 102.5h0M446.5 89.3h0M451.1 109.8h0M448.1 97.6h0M450.9 108.1h0M446.9 103.2h0M453.8 113.7h0M449.1 111.4h0M447.9 99.0h0M445.1 90.7h0M456.2 115.5h0M447.9 95.3h0M446.0 95.9h0M450.6 115.9h0M455.2 112.6h0M451.5 113.4h0M444.5 92.5h0M450.1 98.1h0M451.4 111.9h0M448.5 101.8h0M451.0 110.4h0M448.2 101.9h0M453.5 110.3h0M447.7 100.4h0M447.2 111.1h0M449.1 106.4h0M447.7 107.2h0M453.8 116.2h0M448.3 110.1h0M447.4 104.4h0M453.3 115.9h0M455.6 113.8h0M445.8 98.3h0M455.1 116.2h0M449.5 107.8h0M444.0 88.4h0M446.8 111.3h0M445.7 87.9h0M455.1 116.7h0M444.4 87.9h0M451.4 115.4h0M446.8 96.7h0M450.4 100.0h0M444.4 88.0h0M447.5 92.9h0M455.9 114.6h0M454.7 114.6h0M449.5 98.6h0M446.4 104.2h0M451.5 108.4h0M447.7 96.2h0M446.6 108.6h0M447.9 109.0h0M450.2 114.2h0M447.3 97.8h0M449.6 107.2h0M450.0 108.2h0M448.9 98.6h0M450.5 106.6h0M451.2 112.3h0M446.3 111.3h0M455.7 111.6h0M448.7 98.3h0M447.3 103.4h0M447.5 99.8h0M451.7 113.5h0M448.9 96.4h0M450.4 103.4h0M455.1 114.8h0M448.0 108.4h0M448.0 110.7h0M456.2 115.7h0M455.3 112.9h0M451.9 107.1h0M447.0 92.8h0M453.7 116.2h0M447.3 113.2h0M446.4 92.0h0M450.4 115.2h0M453.9 111.5h0M453.6 106.3h0M451.1 102.8h0M451.0 103.6h0M453.1 106.7h0M446.6 106.6h0M445.8 102.3h0M447.5 93.0h0M445.7 96.1h0M453.8 107.9h0M448.2 103.4h0M448.1 95.0h0M446.5 109.3h0M449.7 110.2h0M455.5 112.3h0M448.6 110.4h0M447.6 96.9h0M453.0 110.2h0M456.0 112.9h0M448.6 112.5h0M450.3 101.3h0M452.0 108.7h0M452.0 116.8h0M452.4 109.6h0M445.3 94.2h0M446.0 90.6h0M448.0 102.9h0M448.3 95.4h0M453.6 116.8h0M453.2 112.1h0M449.7 114.6h0M456.6 114.7h0M446.5 97.2h0M451.6 108.4h0M448.6 102.4h0M449.9 116.0h0M449.1 100.8h0M447.0 105.9h0M448.2 104.7h0M451.9 105.7h0M452.1 110.8h0M448.3 111.0h0M448.6 109.7h0M447.0 99.0h0M447.6 97.1h0M448.7 101.9h0M451.7 101.9h0M453.0 107.8h0M447.0 90.6h0M445.3 90.1h0M451.3 103.5h0M455.2 116.9h0M447.3 108.5h0M449.0 108.6h0M449.2 102.5h0M446.1 104.0h0M446.6 93.9h0M447.1 107.7h0M451.4 106.5h0M446.8 95.0h0M448.5 99.1h0M448.8 113.2h0M447.8 101.4h0M450.7 106.7h0M450.6 115.5h0M449.5 109.7h0M444.5 90.5h0M452.6 106.4h0M450.3 115.6h0M448.2 100.7h0M454.7 109.1h0M448.4 110.9h0M445.0 97.8h0M448.0 93.6h0M445.8 106.1h0M455.8 114.8h0M443.8 88.0h0M447.3 98.9h0M447.1 112.0h0M445.3 93.0h0M454.4 111.5h0M450.9 114.9h0M451.2 104.6h0M457.8 116.6h0M444.4 91.4h0M455.6 114.2h0M450.6 102.6h0M450.9 111.1h0M451.5 110.7h0M449.8 115.6h0M450.3 101.8h0M447.9 110.0h0M445.2 90.3h0M445.7 89.4h0M454.7 115.6h0M448.8 114.3h0M448.8 110.4h0M447.2 93.8h0M443.6 85.7h0M449.9 108.7h0M454.6 113.2h0M444.6 85.4h0M454.9 110.1h0M454.0 116.4h0M453.2 116.6h0M454.1 108.3h0M446.2 97.6h0M444.1 84.4h0M446.4 109.7h0M450.5 109.7h0M448.2 98.1h0M445.1 87.5h0M449.4 104.6h0M452.7 105.9h0M447.4 92.6h0M450.7 99.7h0M446.9 98.1h0M447.3 93.1h0M451.1 102.7h0M447.5 101.0h0M448.8 113.2h0M445.1 95.0h0M454.7 111.1h0M452.5 110.6h0M446.9 91.4h0M447.1 96.6h0M448.0 103.0h0M447.2 100.4h0M447.2 92.8h0M450.9 111.2h0M452.5 108.9h0M448.5 98.5h0M446.9 96.2h0M447.2 98.0h0M453.3 111.8h0M449.4 96.9h0M452.7 105.1h0M451.9 105.3h0M452.0 109.3h0M455.8 116.4h0M453.4 115.6h0M451.0 107.1h0M448.5 114.1h0M453.7 113.9h0M446.1 97.9h0M445.8 99.4h0M447.7 101.5h0M448.7 96.2h0M448.5 95.8h0M446.6 97.9h0M448.2 95.9h0M447.4 96.5h0M451.4 103.2h0M445.4 98.9h0M443.8 84.4h0M450.0 99.8h0M453.9 114.4h0M451.2 103.8h0M449.4 101.8h0M446.3 102.4h0M448.7 106.9h0M448.7 102.8h0M450.9 100.1h0M447.7 106.2h0M454.2 110.5h0M448.2 100.8h0M447.2 96.1h0M448.1 99.5h0M448.5 99.9h0M453.1 107.7h0M445.8 98.9h0M445.6 97.8h0M453.0 110.1h0M453.5 115.6h0M445.5 87.8h0M456.4 113.2h0M452.5 106.4h0M451.2 115.7h0M449.2 115.3h0M446.0 98.5h0M452.4 107.2h0M450.9 102.7h0M447.2 96.2h0M443.9 88.5h0M448.6 109.9h0M447.8 93.9h0M451.5 105.4h0M450.3 102.0h0M449.0 112.2h0M447.9 93.9h0M453.3 114.2h0M451.2 109.4h0M445.9 92.4h0M450.0 100.9h0M451.5 108.1h0M457.2 115.4h0M446.8 110.0h0M446.7 103.2h0M454.5 115.8h0M446.1 93.4h0M446.6 89.7h0M447.1 95.3h0M450.1 101.5h0M450.8 108.9h0M448.5 99.6h0M450.9 115.9h0M453.9 108.5h0M446.4 104.0h0M450.5 105.5h0M448.7 94.9h0M447.7 94.9h0M452.8 105.1h0M455.8 114.3h0M450.5 101.0h0M447.3 106.5h0M447.3 104.1h0M444.7 92.3h0M445.9 99.3h0M449.6 111.1h0M448.6 104.5h0M449.9 114.3h0M453.0 113.5h0M446.0 103.0h0M447.7 106.2h0M446.0 93.4h0M446.1 93.9h0M454.5 116.4h0M447.5 94.9h0M453.1 113.3h0M449.4 101.5h0M454.9 111.0h0M451.1 114.6h0M454.8 114.1h0M446.1 95.9h0M448.9 101.1h0M446.0 104.5h0M443.9 84.6h0M447.6 92.3h0M446.2 95.5h0M455.1 115.8h0M449.3 103.7h0M449.3 110.4h0M444.8 89.7h0M447.1 99.4h0M447.8 93.6h0M444.2 89.6h0M448.3 102.7h0M450.3 111.7h0M445.7 92.4h0M447.6 107.4h0M445.5 98.7h0M449.8 110.9h0M454.0 113.6h0M444.0 90.5h0M445.3 87.3h0M450.2 111.7h0M443.2 84.9h0M454.5 116.2h0M444.4 92.3h0M448.7 101.0h0M445.3 88.1h0M450.4 99.9h0M447.6 99.2h0M455.1 115.9h0M448.2 110.7h0M449.8 102.2h0M448.9 98.4h0M446.5 108.6h0M449.0 104.1h0M456.3 114.0h0M447.6 104.3h0M449.8 104.8h0M453.3 116.4h0M453.6 106.9h0M449.6 112.8h0M452.2 109.0h0M449.7 110.0h0M455.0 110.1h0M454.2 115.1h0M450.3 112.2h0M448.0 100.7h0M450.9 110.9h0M449.0 97.2h0M448.6 113.7h0M446.7 109.7h0M450.0 113.5h0M449.6 100.9h0M446.4 95.1h0M449.8 110.7h0M446.4 103.1h0M449.4 100.9h0M447.8 96.4h0M449.3 107.5h0M448.1 104.6h0M452.8 111.6h0M448.0 93.4h0M452.7 106.6h0M451.5 112.1h0M444.6 85.9h0M448.6 111.4h0M453.4 113.9h0M445.4 101.8h0M453.7 112.3h0M452.0 103.0h0M448.6 107.3h0M446.7 101.2h0M451.7 108.2h0M449.3 111.6h0M449.4 111.2h0M454.1 114.0h0M448.4 106.8h0M450.4 114.0h0M448.4 102.5h0M448.2 101.2h0M454.2 108.8h0M449.5 110.3h0M452.3 114.4h0M447.4 109.6h0M445.2 90.4h0M448.5 105.8h0M449.4 108.3h0M451.2 114.3h0M448.1 105.9h0M446.9 109.4h0M455.9 114.4h0M448.3 93.7h0M448.8 100.2h0M455.0 115.8h0M448.2 108.8h0M445.1 94.3h0M447.4 98.7h0M445.0 93.0h0M444.6 92.7h0M446.7 101.2h0M447.6 110.8h0M445.7 101.7h0M451.3 114.4h0M450.8 104.8h0M445.2 100.2h0M450.3 109.4h0M451.8 108.1h0M447.2 110.5h0M449.6 98.8h0M445.8 94.6h0M445.2 92.3h0M450.8 108.9h0M445.9 88.8h0M447.8 95.4h0M448.7 113.4h0M450.5 111.7h0M450.9 112.7h0M450.6 100.6h0M448.6 99.8h0M451.0 113.6h0M447.3 104.0h0M453.6 115.4h0M454.3 113.8h0M456.9 116.4h0M455.1 116.4h0M445.8 95.8h0M447.4 98.4h0M444.8 97.8h0M449.8 116.1h0M446.0 110.1h0M444.2 96.1h0M444.8 98.1h0M444.9 98.7h0M445.7 114.1h0M446.1 109.2h0M445.3 106.1h0M443.7 89.4h0M444.7 110.7h0M443.6 90.0h0M445.9 110.7h0M444.9 98.5h0M445.6 105.4h0M453.1 104.6h0M445.6 106.4h0M445.4 103.6h0M445.5 103.6h0M443.4 95.1h0M449.1 94.5h0M443.8 94.3h0M443.7 97.0h0M443.0 89.7h0M443.2 83.7h0M449.6 115.8h0M445.3 108.5h0M444.0 91.6h0M444.0 97.1h0M444.1 92.5h0M442.6 89.7h0M442.7 87.4h0M443.0 86.7h0M447.4 113.7h0M444.4 97.2h0M446.5 112.4h0M444.9 100.9h0M444.0 102.7h0M442.0 85.3h0M449.5 115.7h0M445.0 102.5h0M445.9 112.3h0M443.1 84.1h0M445.2 101.8h0M446.0 109.0h0M444.1 98.5h0M443.3 86.6h0M442.5 85.6h0M445.3 106.3h0M445.2 103.2h0M443.1 92.9h0M445.8 109.4h0M443.9 103.4h0M445.5 106.7h0M446.2 88.3h0M444.8 100.1h0M447.3 113.5h0M444.9 103.5h0M451.5 101.1h0M442.8 84.1h0M444.0 98.3h0M444.1 93.9h0M445.0 111.1h0M449.3 115.4h0M445.7 107.5h0M442.9 90.4h0M442.8 83.9h0M443.4 86.5h0M445.4 103.4h0M443.7 92.7h0M465.7 96.2h0M470.5 107.6h0M462.2 109.7h0M467.0 98.4h0M466.3 103.2h0M469.5 94.0h0M467.4 92.1h0M470.1 105.6h0M465.8 110.7h0M460.3 116.0h0M468.5 96.8h0M464.7 105.1h0M468.1 112.8h0M467.0 90.9h0M465.3 110.5h0M462.6 116.5h0M467.0 114.2h0M466.8 108.9h0M467.0 115.9h0M465.9 102.4h0M470.1 106.9h0M467.4 99.4h0M468.1 89.7h0M469.7 110.9h0M466.9 111.6h0M467.0 92.9h0M467.3 111.9h0M466.4 101.2h0M467.8 96.5h0M470.2 99.8h0M465.5 112.5h0M468.0 108.0h0M467.8 103.2h0M468.7 90.9h0M469.0 94.5h0M468.6 103.6h0M466.5 99.7h0M470.1 102.3h0M462.2 109.9h0M466.9 92.5h0M469.8 104.5h0M464.2 102.8h0M465.4 111.6h0M465.5 98.5h0M469.0 93.6h0M467.9 114.7h0M469.1 96.2h0M468.9 111.6h0M464.1 100.8h0M465.6 112.1h0M469.1 105.2h0M464.6 98.6h0M470.3 109.5h0M464.4 111.8h0M463.0 115.9h0M464.0 115.6h0M469.2 102.8h0M469.4 98.9h0M469.2 99.6h0M462.6 110.9h0M462.2 115.7h0M468.8 96.2h0M469.7 91.1h0M466.5 101.9h0M470.8 97.3h0M464.0 115.1h0M464.6 101.2h0M464.8 112.6h0M466.2 111.0h0M467.3 102.4h0M465.4 100.9h0M467.4 113.1h0M470.6 102.1h0M464.5 114.8h0M463.1 109.9h0M469.6 93.5h0M468.2 94.8h0M462.9 115.7h0M464.5 101.4h0M464.7 107.6h0M467.7 101.7h0M468.4 90.3h0M469.0 92.5h0M465.8 100.1h0M463.7 104.4h0M460.1 113.9h0M466.8 99.4h0M467.4 90.0h0M462.3 110.4h0M462.0 116.5h0M462.1 109.3h0M465.6 98.3h0M462.6 110.2h0M462.0 107.6h0M470.1 107.1h0M461.6 114.7h0M465.1 115.9h0M465.3 105.2h0M467.2 115.7h0M469.1 87.8h0M462.7 105.5h0M466.3 102.8h0M462.9 109.7h0M468.1 109.2h0M465.7 104.5h0M466.7 104.8h0M467.3 90.6h0M468.8 92.9h0M463.4 116.4h0M466.5 111.7h0M464.4 99.2h0M467.4 108.7h0M467.6 95.1h0M466.2 98.4h0M461.4 115.0h0M470.8 99.6h0M467.5 93.0h0M469.9 95.4h0M469.3 99.4h0M465.6 113.9h0M466.9 98.6h0M464.6 110.6h0M465.8 105.3h0M460.7 114.8h0M465.3 113.4h0M468.3 102.1h0M463.2 109.6h0M466.4 104.9h0M462.4 116.8h0M465.3 114.4h0M466.6 102.9h0M468.5 112.9h0M468.6 97.8h0M466.9 100.6h0M468.8 111.1h0M469.6 101.2h0M469.4 107.4h0M465.4 108.9h0M467.2 109.3h0M459.4 116.0h0M469.9 106.2h0M469.8 103.8h0M470.1 107.6h0M465.0 103.9h0M464.0 106.6h0M467.5 88.9h0M469.5 113.9h0M464.3 103.7h0M468.1 102.7h0M469.7 99.4h0M466.8 115.2h0M469.1 113.7h0M470.1 110.7h0M466.9 92.9h0M466.6 115.9h0M462.9 113.8h0M468.8 90.9h0M461.0 116.3h0M464.0 107.1h0M464.4 102.8h0M469.0 87.4h0M466.3 101.6h0M470.0 106.6h0M467.5 96.3h0M464.1 106.6h0M465.9 109.4h0M466.8 103.1h0M468.2 88.6h0M464.1 103.9h0M464.4 100.1h0M465.1 108.3h0M467.9 93.7h0M467.9 114.5h0M467.2 114.4h0M467.4 94.1h0M469.9 111.2h0M469.6 95.5h0M469.3 104.6h0M466.9 116.2h0M462.3 111.5h0M467.0 90.6h0M469.2 92.2h0M468.1 93.3h0M464.3 110.4h0M467.4 112.7h0M465.7 113.6h0M467.9 94.0h0M465.6 104.4h0M464.1 103.6h0M466.0 116.2h0M465.2 110.9h0M467.0 105.6h0M467.0 99.4h0M466.0 102.0h0M463.9 111.3h0M465.9 99.2h0M467.5 109.9h0M468.7 103.8h0M469.6 105.5h0M468.0 89.8h0M465.4 95.9h0M465.8 97.4h0M465.6 95.3h0M461.6 109.6h0M467.1 113.6h0M462.1 112.1h0M470.1 93.7h0M466.5 113.1h0M464.6 108.4h0M461.4 113.7h0M465.8 94.4h0M466.3 95.1h0M464.1 108.4h0M465.1 99.6h0M464.4 107.3h0M467.4 103.1h0M462.9 110.7h0M467.0 90.7h0M467.7 94.2h0M467.8 110.6h0M463.8 116.4h0M467.0 102.5h0M462.2 106.7h0M467.7 98.4h0M465.5 116.0h0M466.3 112.9h0M468.6 90.6h0M461.4 116.7h0M466.7 101.4h0M469.1 113.5h0M466.7 110.8h0M468.5 87.9h0M465.7 97.0h0M464.0 112.5h0M467.5 92.6h0M464.2 116.6h0M468.4 98.7h0M466.3 105.2h0M468.3 105.5h0M468.8 96.9h0M466.7 112.1h0M461.8 115.4h0M467.2 116.0h0M464.1 115.2h0M463.6 108.3h0M466.8 107.2h0M468.6 90.8h0M467.6 95.2h0M465.8 96.4h0M463.5 106.8h0M468.9 107.0h0M467.8 103.3h0M467.0 93.3h0M464.8 116.2h0M465.7 111.6h0M468.2 98.0h0M470.6 110.8h0M461.5 109.3h0M470.8 99.7h0M461.9 107.7h0M464.4 110.0h0M466.6 97.3h0M469.7 100.9h0M464.0 113.0h0M462.4 113.1h0M468.0 108.3h0M463.8 115.1h0M466.9 108.5h0M466.1 93.3h0M470.0 112.0h0M468.5 100.7h0M463.2 108.3h0M468.9 111.0h0M465.8 102.4h0M470.5 96.4h0M469.1 93.9h0M464.0 100.4h0M465.6 100.2h0M470.8 101.8h0M464.5 109.3h0M470.4 99.1h0M465.2 108.6h0M465.3 109.3h0M467.8 105.2h0M470.5 101.1h0M470.0 104.6h0M463.5 103.5h0M469.5 102.3h0M466.2 97.8h0M460.7 116.4h0M468.7 114.8h0M465.6 97.6h0M462.8 104.4h0M468.1 107.5h0M468.1 107.1h0M469.9 102.2h0M465.4 109.6h0M467.0 109.2h0M461.3 113.4h0M465.5 95.8h0M467.9 96.1h0M467.9 92.1h0M467.4 91.5h0M462.8 108.0h0M460.0 116.8h0M462.9 109.9h0M463.4 115.1h0M467.6 95.4h0M469.7 96.3h0M461.2 117.0h0M464.6 104.9h0M468.9 113.9h0M465.0 115.9h0M468.8 95.4h0M461.3 109.5h0M465.8 102.9h0M468.9 101.4h0M462.2 114.4h0M465.7 97.9h0M459.9 114.6h0M470.5 111.6h0M467.8 97.2h0M468.8 102.8h0M465.3 115.2h0M469.6 94.0h0M462.9 105.5h0M470.0 104.5h0M469.2 102.5h0M469.3 102.7h0M469.3 102.0h0M465.1 112.3h0M459.8 116.6h0M467.3 91.8h0M467.2 93.6h0M467.0 108.1h0M466.0 105.0h0M460.1 113.4h0M464.4 101.5h0M467.3 101.5h0M467.7 103.6h0M463.4 112.1h0M463.3 112.3h0M467.5 97.0h0M468.5 103.2h0M468.5 91.9h0M469.9 108.7h0M466.7 115.0h0M464.0 109.3h0M463.1 105.5h0M465.0 115.4h0M467.6 98.0h0M460.9 111.8h0M467.8 99.8h0M469.2 94.6h0M467.3 105.7h0M465.4 101.8h0M462.7 108.2h0M463.7 115.0h0M466.6 96.3h0M466.4 114.5h0M469.5 109.7h0M469.9 103.7h0M468.7 90.0h0M468.0 109.1h0M467.7 97.2h0M466.1 101.5h0M465.9 112.0h0M465.0 105.3h0M470.3 95.6h0M462.8 108.4h0M466.7 109.2h0M467.2 105.0h0M468.4 93.3h0M461.9 112.6h0M466.6 112.9h0M465.3 113.9h0M465.5 114.3h0M467.5 107.3h0M465.2 112.1h0M461.3 111.3h0M468.8 105.2h0M462.2 113.7h0M467.3 110.5h0M470.7 108.1h0M467.7 109.2h0M465.3 103.9h0M463.0 109.3h0M463.8 106.2h0M466.0 96.1h0M463.6 111.3h0M468.4 112.4h0M467.3 95.5h0M469.5 98.5h0M469.9 100.4h0M470.3 104.5h0M466.5 114.7h0M467.2 101.1h0M460.4 114.1h0M469.6 103.9h0M465.8 101.3h0M465.5 103.0h0M465.0 114.5h0M464.8 102.6h0M465.8 112.5h0M466.2 111.6h0M467.0 100.6h0M469.1 107.0h0M465.7 114.9h0M463.2 115.5h0M468.8 95.3h0M461.6 113.3h0M469.6 90.7h0M469.6 96.9h0M466.1 100.8h0M466.0 110.1h0M462.8 111.7h0M470.6 101.8h0M465.0 98.1h0M469.8 97.5h0M466.4 97.8h0M460.8 115.7h0M463.6 111.4h0M460.2 115.6h0M464.7 112.9h0M462.1 107.9h0M464.0 108.1h0M465.9 106.8h0M464.1 102.5h0M468.9 108.1h0M468.1 99.0h0M465.8 95.5h0M468.4 102.4h0M466.5 99.8h0M468.3 97.2h0M466.3 102.7h0M467.6 100.7h0M467.2 111.0h0M470.0 109.4h0M464.7 98.2h0M469.6 106.9h0M469.9 96.6h0M466.9 113.0h0M463.0 114.1h0M470.4 102.4h0M460.6 113.9h0M467.8 110.9h0M465.7 96.5h0M469.4 91.8h0M463.2 106.0h0M465.2 99.7h0M466.0 105.5h0M463.7 102.2h0M460.9 113.3h0M470.0 107.0h0M468.2 88.2h0M466.8 92.6h0M461.8 110.4h0M464.2 109.4h0M466.1 96.5h0M464.1 104.1h0M468.3 93.5h0M462.7 108.0h0M464.1 105.5h0M463.4 114.6h0M465.2 97.3h0M468.8 104.4h0M470.3 96.9h0M466.4 109.7h0M461.7 109.9h0M465.9 102.5h0M469.6 101.5h0M468.3 92.7h0M468.4 89.1h0M468.8 95.2h0M469.8 94.0h0M467.0 114.1h0M466.4 98.7h0M468.0 106.0h0M464.5 109.1h0M464.5 102.2h0M464.5 103.6h0M467.1 111.0h0M468.0 106.9h0M466.6 94.3h0M470.1 100.2h0M466.0 114.0h0M467.2 100.6h0M463.2 105.4h0M469.4 111.4h0M467.8 98.4h0M463.8 114.7h0M464.9 98.7h0M459.4 115.9h0M464.4 112.9h0M465.8 103.3h0M464.4 99.4h0M462.0 111.3h0M469.4 114.0h0M469.5 100.0h0M463.2 113.0h0M462.4 106.8h0M467.0 107.2h0M469.9 105.9h0M469.4 90.4h0M465.6 111.9h0M468.4 108.8h0M468.3 100.2h0M461.1 113.4h0M465.3 111.6h0M463.2 116.8h0M470.0 111.1h0M469.2 88.0h0M466.9 101.8h0M467.1 92.4h0M463.3 104.4h0M462.9 104.4h0M467.1 115.1h0M466.3 96.2h0M469.4 95.9h0M470.0 98.6h0M461.8 111.6h0M462.4 111.9h0M464.0 113.6h0M467.0 111.8h0M463.8 116.1h0M470.6 110.8h0M468.2 94.6h0M467.0 97.6h0M463.6 110.3h0M468.6 93.1h0M465.7 116.0h0M469.1 114.0h0M470.0 92.8h0M468.0 104.0h0M466.8 95.8h0M467.9 94.2h0M465.0 113.6h0M466.0 93.8h0M467.7 108.8h0M469.5 113.7h0M470.4 99.7h0M470.2 111.9h0M464.2 106.2h0M467.6 115.6h0M462.9 107.1h0M469.1 93.2h0M467.3 111.2h0M462.7 110.6h0M467.1 103.2h0M462.7 107.6h0M463.5 110.5h0M461.7 114.7h0M468.8 106.0h0M466.3 109.7h0M463.9 112.0h0M466.5 112.6h0M469.6 103.6h0M467.5 97.5h0M465.6 107.2h0M464.3 103.4h0M467.6 113.4h0M465.7 108.6h0M463.1 107.2h0M465.5 106.2h0M467.7 109.4h0M462.6 109.5h0M466.6 104.1h0M468.1 96.3h0M470.4 112.2h0M469.3 107.5h0M463.6 102.3h0M468.8 90.6h0M467.1 98.4h0M464.9 112.4h0M463.9 111.5h0M467.8 108.1h0M467.0 103.2h0M465.8 106.6h0M469.0 109.8h0M462.7 111.2h0M466.0 108.9h0M468.0 111.4h0M464.9 107.9h0M469.4 113.4h0M468.9 93.9h0M466.7 92.2h0M466.7 115.2h0M470.0 92.2h0M461.4 110.6h0M469.4 90.3h0M468.6 102.9h0M466.2 109.7h0M466.8 107.5h0M466.1 94.9h0M465.2 112.3h0M469.1 113.6h0M466.9 110.4h0M464.6 115.9h0M469.1 113.2h0M470.0 95.3h0M460.8 114.8h0M468.5 111.1h0M460.9 111.1h0M462.9 112.5h0M463.2 104.7h0M466.2 96.4h0M467.1 94.1h0M469.8 106.3h0M466.3 93.0h0M465.8 97.1h0M469.9 109.6h0M469.2 112.2h0M464.0 102.0h0M460.8 111.8h0M466.5 107.4h0M465.1 115.8h0M467.5 103.2h0M463.5 111.5h0M469.5 92.5h0M463.4 109.4h0M470.0 99.9h0M468.5 114.0h0M464.2 110.1h0M469.0 105.3h0M466.1 96.4h0M466.3 107.4h0M464.7 109.5h0M464.5 111.5h0M468.6 107.6h0M464.8 101.2h0M464.9 115.6h0M469.9 110.2h0M470.0 111.7h0M469.3 98.3h0M466.2 111.8h0M463.4 102.8h0M459.3 116.7h0M470.0 101.3h0M467.6 89.1h0M469.8 110.3h0M463.2 109.0h0M464.4 115.7h0M468.6 101.3h0M470.6 104.2h0M469.6 107.5h0M468.1 91.5h0M464.5 107.4h0M469.2 94.9h0M465.4 100.3h0M464.8 98.1h0M471.9 101.9h0M471.2 110.4h0M470.6 94.6h0M469.9 115.0h0M471.0 107.5h0M469.6 86.1h0M471.0 106.8h0M470.2 113.5h0M471.8 106.8h0M470.4 89.8h0M471.5 105.8h0M471.2 99.1h0M471.1 99.8h0M468.6 115.7h0M457.8 115.9h0M470.3 90.4h0M470.9 112.5h0M470.5 92.2h0M470.8 110.8h0M471.0 96.0h0M471.3 106.0h0M470.5 94.8h0M469.5 87.8h0M471.3 103.7h0M471.0 91.1h0M470.6 94.1h0M471.3 96.4h0M470.8 109.7h0M470.9 99.2h0M471.0 109.0h0M471.5 93.2h0M468.9 115.7h0M470.1 91.8h0M471.4 99.5h0M470.0 87.7h0M472.3 107.9h0M470.9 94.3h0M470.8 106.9h0M469.2 115.8h0M471.2 98.8h0M470.8 108.9h0M471.3 111.3h0M471.7 106.0h0M471.6 108.9h0M471.0 113.0h0M469.9 91.2h0M470.8 100.1h0M470.8 101.8h0M470.0 90.5h0M471.3 98.6h0M470.9 104.1h0M470.9 113.2h0M470.9 111.6h0M468.9 87.4h0M471.3 92.3h0M470.5 94.6h0M471.7 98.7h0M471.0 99.3h0M470.9 101.8h0M469.9 88.4h0M433.3 74.3h0M421.1 79.2h0M421.1 91.6h0M474.1 84.2h0M496.1 89.2h0M481.0 97.4h0M484.7 100.7h0M479.8 104.8h0M482.2 104.8h0M474.1 104.0h0M476.5 104.0h0M429.3 102.4h0M431.7 97.4h0M435.0 89.2h0M435.8 94.9h0M437.4 100.7h0M438.2 94.1h0M439.9 89.2h0M430.9 105.7h0M433.3 107.3h0M436.6 108.1h0M441.5 109.0h0M434.2 99.0h0M440.7 97.4h0M439.0 104.0h0M443.1 95.8h0M442.3 90.8h0M426.8 100.7h0M437.4 86.7h0M431.7 86.7h0M443.6 89.2h0M442.8 95.1h0M444.0 89.1h0M435.0 87.9h0M432.9 93.7h0M443.1 87.8h0M444.2 88.0h0M436.6 110.1h0M432.7 100.0h0M438.2 99.5h0M436.9 102.7h0M433.3 99.3h0M436.1 89.9h0M440.7 93.4h0M434.0 91.7h0M439.6 88.4h0M437.9 95.9h0M442.0 95.7h0M434.8 93.9h0M442.7 97.2h0M441.1 102.4h0M433.0 94.7h0M435.1 98.1h0M441.9 93.6h0M435.4 110.3h0M438.3 89.0h0M439.6 91.4h0M432.7 92.7h0M443.0 108.1h0M432.6 101.1h0M437.3 93.4h0M439.0 94.2h0M442.1 91.1h0M434.9 107.0h0M435.8 102.2h0M444.5 107.1h0M437.8 99.2h0M436.7 90.2h0M440.6 105.9h0M434.9 101.4h0" stroke="#000" stroke-width="1.5" stroke-linecap="round" fill="none"/>
<line x1="409.70" y1="117.80" x2="409.70" y2="34.70" stroke="#000" stroke-width="1.2" />
<line x1="406.70" y1="34.70" x2="409.70" y2="34.70" stroke="#000" stroke-width="0.9" />
<text x="406.10" y="37.20" font-size="6.4" text-anchor="end" font-weight="bold" fill="#222" >-5</text>
<line x1="406.70" y1="51.20" x2="409.70" y2="51.20" stroke="#000" stroke-width="0.9" />
<text x="406.10" y="53.70" font-size="6.4" text-anchor="end" font-weight="bold" fill="#222" >-4</text>
<line x1="406.70" y1="67.70" x2="409.70" y2="67.70" stroke="#000" stroke-width="0.9" />
<text x="406.10" y="70.20" font-size="6.4" text-anchor="end" font-weight="bold" fill="#222" >-3</text>
<line x1="406.70" y1="84.20" x2="409.70" y2="84.20" stroke="#000" stroke-width="0.9" />
<text x="406.10" y="86.70" font-size="6.4" text-anchor="end" font-weight="bold" fill="#222" >-2</text>
<line x1="406.70" y1="100.70" x2="409.70" y2="100.70" stroke="#000" stroke-width="0.9" />
<text x="406.10" y="103.20" font-size="6.4" text-anchor="end" font-weight="bold" fill="#222" >-1</text>
<line x1="406.70" y1="117.20" x2="409.70" y2="117.20" stroke="#000" stroke-width="0.9" />
<text x="406.10" y="119.70" font-size="6.4" text-anchor="end" font-weight="bold" fill="#222" >0</text>
<line x1="409.10" y1="117.20" x2="507.50" y2="117.20" stroke="#000" stroke-width="1.2" />
<line x1="417.85" y1="117.20" x2="417.85" y2="119.40" stroke="#000" stroke-width="0.9" />
<text x="417.85" y="127.60" font-size="6.4" text-anchor="middle" font-weight="bold" fill="#222" >-5</text>
<line x1="458.60" y1="117.20" x2="458.60" y2="119.40" stroke="#000" stroke-width="0.9" />
<text x="458.60" y="127.60" font-size="6.4" text-anchor="middle" font-weight="bold" fill="#222" >0</text>
<line x1="499.35" y1="117.20" x2="499.35" y2="119.40" stroke="#000" stroke-width="0.9" />
<text x="499.35" y="127.60" font-size="6.4" text-anchor="middle" font-weight="bold" fill="#222" >5</text>
<line x1="438.23" y1="117.20" x2="438.23" y2="118.70" stroke="#222" stroke-width="0.7" />
<line x1="478.98" y1="117.20" x2="478.98" y2="118.70" stroke="#222" stroke-width="0.7" />
<text transform="translate(394.7,90.4) rotate(-90)" font-size="6.3" fill="#555">-log10 P</text>
<text x="435.00" y="135.80" font-size="6.6" text-anchor="start" font-weight="normal" fill="#4a4a4a" >fold change (log<tspan font-size="3.8" dy="1.3">2</tspan><tspan dy="-1.3">)</tspan></text>
<g transform="translate(125.1,0) scale(0.81,1)" font-size="5.15" fill="#222"><text x="0" y="5.25">RSAD2</text><text x="0" y="11.40">ACOD1</text><text x="0" y="17.55">CXCL11</text><text x="0" y="23.70">CXCL10</text><text x="0" y="29.85">CCL8</text><text x="0" y="36.00">IFIT3</text><text x="0" y="42.15">IFIT1</text><text x="0" y="48.30">USP18</text><text x="0" y="54.45">SIGLEC1</text><text x="0" y="60.60">IFIT2</text><text x="0" y="66.75">HERC5</text><text x="0" y="72.90">OAS3</text><text x="0" y="79.05">CMPK2</text><text x="0" y="85.20">TNFSF10</text><text x="0" y="91.35">IFI6</text><text x="0" y="97.50">IFNG</text><text x="0" y="103.65">ISG15</text><text x="0" y="109.80">LY6E</text><text x="0" y="115.95">APOBEC3A</text><text x="0" y="122.10">IFITM3</text><text x="0" y="128.25">DDX58</text><text x="0" y="134.40">GBP1</text><text x="0" y="140.55">OAS1</text><text x="0" y="146.70">MX1</text><text x="0" y="152.85">TRIM21</text></g>
<g transform="translate(161.0,0) scale(0.81,1)" font-size="5.15" fill="#222"><text x="0" y="5.25">SAMD9L</text><text x="0" y="11.40">IFI44L</text><text x="0" y="17.55">HELZ2</text><text x="0" y="23.70">CCL7</text><text x="0" y="29.85">LAMP3</text><text x="0" y="36.00">EIF2AK2</text><text x="0" y="42.15">IFI44</text><text x="0" y="48.30">OAS2</text><text x="0" y="54.45">IL1RN</text><text x="0" y="60.60">CD274</text><text x="0" y="66.75">GBP5</text><text x="0" y="72.90">MT2A</text><text x="0" y="79.05">HERC6</text><text x="0" y="85.20">IL6</text><text x="0" y="91.35">MX2</text><text x="0" y="97.50">IFIH1</text><text x="0" y="103.65">DHX58</text><text x="0" y="109.80">PML</text><text x="0" y="115.95">RIN2</text><text x="0" y="122.10">LILRA5</text><text x="0" y="128.25">STAT1</text><text x="0" y="134.40">IRF7</text><text x="0" y="140.55">EPSTI1</text><text x="0" y="146.70">IFIT5</text><text x="0" y="152.85">PARP9</text></g>
<g transform="translate(318.0,0) scale(0.81,1)" font-size="5.15" fill="#222"><text x="0" y="5.25">CCL8</text><text x="0" y="11.40">MT2A</text><text x="0" y="17.55">IL6</text><text x="0" y="23.70">ISG15</text><text x="0" y="29.85">RSAD2</text><text x="0" y="36.00">ACOD1</text><text x="0" y="42.15">IFIT1</text><text x="0" y="48.30">USP18</text><text x="0" y="54.45">CXCL10</text><text x="0" y="60.60">IFI6</text><text x="0" y="66.75">CXCL11</text><text x="0" y="72.90">MX1</text><text x="0" y="79.05">CMPK2</text><text x="0" y="85.20">IFIT2</text><text x="0" y="91.35">CCL7</text><text x="0" y="97.50">HERC5</text><text x="0" y="103.65">IL1RN</text><text x="0" y="109.80">HERC6</text><text x="0" y="115.95">IFIT3</text><text x="0" y="122.10">IL2RA</text><text x="0" y="128.25">RIN2</text><text x="0" y="134.40">OAS3</text><text x="0" y="140.55">LAMP3</text><text x="0" y="146.70">IDO1</text><text x="0" y="152.85">DHX58</text></g>
<g transform="translate(346.5,0) scale(0.81,1)" font-size="5.15" fill="#222"><text x="0" y="5.25">CD38</text><text x="0" y="11.40">ATP10A</text><text x="0" y="17.55">HELZ2</text><text x="0" y="23.70">MX2</text><text x="0" y="29.85">APOBEC3A</text><text x="0" y="36.00">TNFSF10</text><text x="0" y="42.15">JUP</text><text x="0" y="48.30">SAMD9L</text><text x="0" y="54.45">PNPT1</text><text x="0" y="60.60">IFI44</text><text x="0" y="66.75">CCL2</text><text x="0" y="72.90">IFI44L</text><text x="0" y="79.05">OAS1</text><text x="0" y="85.20">DDX58</text><text x="0" y="91.35">SP140</text><text x="0" y="97.50">ISG20</text><text x="0" y="103.65">IFITM3</text><text x="0" y="109.80">ETV7</text><text x="0" y="115.95">IFIH1</text><text x="0" y="122.10">EPSTI1</text><text x="0" y="128.25">LILRA5</text><text x="0" y="134.40">IFI35</text><text x="0" y="140.55">OAS2</text><text x="0" y="146.70">DDX60</text><text x="0" y="152.85">LILRB1</text></g>
<line x1="19.80" y1="158.60" x2="19.80" y2="251.30" stroke="#222" stroke-width="0.9" />
<line x1="19.40" y1="251.30" x2="126.50" y2="251.30" stroke="#222" stroke-width="0.9" />
<line x1="19.80" y1="251.30" x2="19.80" y2="253.30" stroke="#222" stroke-width="0.8" />
<text x="19.80" y="262.90" font-size="6.6" text-anchor="middle" font-weight="bold" fill="#222" >0</text>
<line x1="41.14" y1="251.30" x2="41.14" y2="253.30" stroke="#222" stroke-width="0.8" />
<text x="41.14" y="262.90" font-size="6.6" text-anchor="middle" font-weight="bold" fill="#222" >-10</text>
<line x1="62.48" y1="251.30" x2="62.48" y2="253.30" stroke="#222" stroke-width="0.8" />
<text x="62.48" y="262.90" font-size="6.6" text-anchor="middle" font-weight="bold" fill="#222" >-20</text>
<line x1="83.82" y1="251.30" x2="83.82" y2="253.30" stroke="#222" stroke-width="0.8" />
<text x="83.82" y="262.90" font-size="6.6" text-anchor="middle" font-weight="bold" fill="#222" >-30</text>
<line x1="105.16" y1="251.30" x2="105.16" y2="253.30" stroke="#222" stroke-width="0.8" />
<text x="105.16" y="262.90" font-size="6.6" text-anchor="middle" font-weight="bold" fill="#222" >-40</text>
<line x1="126.50" y1="251.30" x2="126.50" y2="253.30" stroke="#222" stroke-width="0.8" />
<text x="126.50" y="262.90" font-size="6.6" text-anchor="middle" font-weight="bold" fill="#222" >-50</text>
<rect x="20.80" y="165.00" width="96.10" height="11.3" fill="#d6d6d6"/>
<text x="25.80" y="172.10" font-size="4.41" font-weight="bold" fill="#000" stroke="#000" stroke-width="0.08">cytokine-mediated signaling pathway</text>
<rect x="20.80" y="182.20" width="82.01" height="11.3" fill="#d6d6d6"/>
<text x="25.80" y="189.30" font-size="4.41" font-weight="bold" fill="#000" stroke="#000" stroke-width="0.08">cellular response to type I interferon</text>
<rect x="20.80" y="199.40" width="82.01" height="11.3" fill="#d6d6d6"/>
<text x="25.80" y="206.50" font-size="4.41" font-weight="bold" fill="#000" stroke="#000" stroke-width="0.08">type I interferon signaling pathway</text>
<rect x="20.80" y="216.60" width="54.91" height="11.3" fill="#d6d6d6"/>
<text x="25.80" y="223.70" font-size="4.41" font-weight="bold" fill="#000" stroke="#000" stroke-width="0.08">cellular response to interferon-gamma</text>
<rect x="20.80" y="233.80" width="49.36" height="11.3" fill="#d6d6d6"/>
<text x="25.80" y="240.90" font-size="4.41" font-weight="bold" fill="#000" stroke="#000" stroke-width="0.08">interferon-gamma-mediated signaling pathway</text>
<line x1="215.70" y1="159.70" x2="215.70" y2="252.10" stroke="#222" stroke-width="0.9" />
<line x1="215.30" y1="252.10" x2="322.40" y2="252.10" stroke="#222" stroke-width="0.9" />
<line x1="215.70" y1="252.10" x2="215.70" y2="254.10" stroke="#222" stroke-width="0.8" />
<text x="215.70" y="263.70" font-size="6.6" text-anchor="middle" font-weight="bold" fill="#222" >0</text>
<line x1="237.04" y1="252.10" x2="237.04" y2="254.10" stroke="#222" stroke-width="0.8" />
<text x="237.04" y="263.70" font-size="6.6" text-anchor="middle" font-weight="bold" fill="#222" >-10</text>
<line x1="258.38" y1="252.10" x2="258.38" y2="254.10" stroke="#222" stroke-width="0.8" />
<text x="258.38" y="263.70" font-size="6.6" text-anchor="middle" font-weight="bold" fill="#222" >-20</text>
<line x1="279.72" y1="252.10" x2="279.72" y2="254.10" stroke="#222" stroke-width="0.8" />
<text x="279.72" y="263.70" font-size="6.6" text-anchor="middle" font-weight="bold" fill="#222" >-30</text>
<line x1="301.06" y1="252.10" x2="301.06" y2="254.10" stroke="#222" stroke-width="0.8" />
<text x="301.06" y="263.70" font-size="6.6" text-anchor="middle" font-weight="bold" fill="#222" >-40</text>
<line x1="322.40" y1="252.10" x2="322.40" y2="254.10" stroke="#222" stroke-width="0.8" />
<text x="322.40" y="263.70" font-size="6.6" text-anchor="middle" font-weight="bold" fill="#222" >-50</text>
<rect x="216.70" y="165.90" width="80.73" height="11.3" fill="#d6d6d6"/>
<text x="221.70" y="173.00" font-size="4.41" font-weight="bold" fill="#000" stroke="#000" stroke-width="0.08">cytokine-mediated signaling pathway</text>
<rect x="216.70" y="183.17" width="74.76" height="11.3" fill="#d6d6d6"/>
<text x="221.70" y="190.27" font-size="4.41" font-weight="bold" fill="#000" stroke="#000" stroke-width="0.08">cellular response to type I interferon</text>
<rect x="216.70" y="200.44" width="74.76" height="11.3" fill="#d6d6d6"/>
<text x="221.70" y="207.54" font-size="4.41" font-weight="bold" fill="#000" stroke="#000" stroke-width="0.08">type I interferon signaling pathway</text>
<rect x="216.70" y="217.71" width="48.08" height="11.3" fill="#d6d6d6"/>
<text x="221.70" y="224.81" font-size="4.41" font-weight="bold" fill="#000" stroke="#000" stroke-width="0.08">response to cytokine</text>
<rect x="216.70" y="234.98" width="47.02" height="11.3" fill="#d6d6d6"/>
<text x="221.70" y="242.08" font-size="4.41" font-weight="bold" fill="#000" stroke="#000" stroke-width="0.08">cellular response to interferon-gamma</text>
<text x="17.40" y="272.30" font-size="6.8" text-anchor="start" font-weight="normal" fill="#3a3a3a" textLength="70" lengthAdjust="spacingAndGlyphs">−log10 adjusted P-value</text>
<text x="215.30" y="273.50" font-size="6.8" text-anchor="start" font-weight="normal" fill="#3a3a3a" textLength="69.5" lengthAdjust="spacingAndGlyphs">−log10 adjusted P-value</text>
<g shape-rendering="crispEdges"><rect x="573.10" y="45.80" width="6.85" height="6.83" fill="#9e9ee9"/><rect x="579.90" y="45.80" width="6.85" height="6.83" fill="#b5b5ee"/><rect x="586.70" y="45.80" width="6.85" height="6.83" fill="#0000c8"/><rect x="593.50" y="45.80" width="6.85" height="6.83" fill="#acacec"/><rect x="600.30" y="45.80" width="6.85" height="6.83" fill="#ffdfdf"/><rect x="607.10" y="45.80" width="6.85" height="6.83" fill="#ebebf9"/><rect x="613.90" y="45.80" width="6.85" height="6.83" fill="#ebebf9"/><rect x="620.70" y="45.80" width="6.85" height="6.83" fill="#efeffa"/><rect x="629.70" y="45.80" width="6.75" height="6.83" fill="#ff2828"/><rect x="636.40" y="45.80" width="6.75" height="6.83" fill="#ff3232"/><rect x="643.10" y="45.80" width="6.75" height="6.83" fill="#ff3232"/><rect x="649.80" y="45.80" width="6.75" height="6.83" fill="#ff5454"/><rect x="656.50" y="45.80" width="6.75" height="6.83" fill="#ff0a0a"/><rect x="663.20" y="45.80" width="6.75" height="6.83" fill="#ff3c3c"/><rect x="669.90" y="45.80" width="6.75" height="6.83" fill="#e2e2f7"/><rect x="676.60" y="45.80" width="6.75" height="6.83" fill="#ffdfdf"/><rect x="573.10" y="52.58" width="6.85" height="6.83" fill="#6f6fdf"/><rect x="579.90" y="52.58" width="6.85" height="6.83" fill="#0000c8"/><rect x="586.70" y="52.58" width="6.85" height="6.83" fill="#0000c8"/><rect x="593.50" y="52.58" width="6.85" height="6.83" fill="#0000c8"/><rect x="600.30" y="52.58" width="6.85" height="6.83" fill="#6f6fdf"/><rect x="607.10" y="52.58" width="6.85" height="6.83" fill="#e2e2f7"/><rect x="613.90" y="52.58" width="6.85" height="6.83" fill="#0000c8"/><rect x="620.70" y="52.58" width="6.85" height="6.83" fill="#b5b5ee"/><rect x="629.70" y="52.58" width="6.75" height="6.83" fill="#ff6868"/><rect x="636.40" y="52.58" width="6.75" height="6.83" fill="#ff9f9f"/><rect x="643.10" y="52.58" width="6.75" height="6.83" fill="#ffaeae"/><rect x="649.80" y="52.58" width="6.75" height="6.83" fill="#ff5959"/><rect x="656.50" y="52.58" width="6.75" height="6.83" fill="#ff7c7c"/><rect x="663.20" y="52.58" width="6.75" height="6.83" fill="#ff6d6d"/><rect x="669.90" y="52.58" width="6.75" height="6.83" fill="#0000c8"/><rect x="676.60" y="52.58" width="6.75" height="6.83" fill="#0000c8"/><rect x="573.10" y="59.37" width="6.85" height="6.83" fill="#6f6fdf"/><rect x="579.90" y="59.37" width="6.85" height="6.83" fill="#0000c8"/><rect x="586.70" y="59.37" width="6.85" height="6.83" fill="#0000c8"/><rect x="593.50" y="59.37" width="6.85" height="6.83" fill="#0000c8"/><rect x="600.30" y="59.37" width="6.85" height="6.83" fill="#9595e7"/><rect x="607.10" y="59.37" width="6.85" height="6.83" fill="#bebef0"/><rect x="613.90" y="59.37" width="6.85" height="6.83" fill="#0000c8"/><rect x="620.70" y="59.37" width="6.85" height="6.83" fill="#8787e4"/><rect x="629.70" y="59.37" width="6.75" height="6.83" fill="#ff8686"/><rect x="636.40" y="59.37" width="6.75" height="6.83" fill="#ffa4a4"/><rect x="643.10" y="59.37" width="6.75" height="6.83" fill="#ffc6c6"/><rect x="649.80" y="59.37" width="6.75" height="6.83" fill="#ffc1c1"/><rect x="656.50" y="59.37" width="6.75" height="6.83" fill="#ff6868"/><rect x="663.20" y="59.37" width="6.75" height="6.83" fill="#ff7777"/><rect x="669.90" y="59.37" width="6.75" height="6.83" fill="#5656da"/><rect x="676.60" y="59.37" width="6.75" height="6.83" fill="#0000c8"/><rect x="573.10" y="66.16" width="6.85" height="6.83" fill="#6f6fdf"/><rect x="579.90" y="66.16" width="6.85" height="6.83" fill="#9e9ee9"/><rect x="586.70" y="66.16" width="6.85" height="6.83" fill="#ebebf9"/><rect x="593.50" y="66.16" width="6.85" height="6.83" fill="#0000c8"/><rect x="600.30" y="66.16" width="6.85" height="6.83" fill="#fff8f8"/><rect x="607.10" y="66.16" width="6.85" height="6.83" fill="#ff8686"/><rect x="613.90" y="66.16" width="6.85" height="6.83" fill="#5656da"/><rect x="620.70" y="66.16" width="6.85" height="6.83" fill="#ffaeae"/><rect x="629.70" y="66.16" width="6.75" height="6.83" fill="#ff3232"/><rect x="636.40" y="66.16" width="6.75" height="6.83" fill="#ff3232"/><rect x="643.10" y="66.16" width="6.75" height="6.83" fill="#ff3737"/><rect x="649.80" y="66.16" width="6.75" height="6.83" fill="#ff3737"/><rect x="656.50" y="66.16" width="6.75" height="6.83" fill="#ff1919"/><rect x="663.20" y="66.16" width="6.75" height="6.83" fill="#ff2323"/><rect x="669.90" y="66.16" width="6.75" height="6.83" fill="#9e9ee9"/><rect x="676.60" y="66.16" width="6.75" height="6.83" fill="#ffdfdf"/><rect x="573.10" y="72.94" width="6.85" height="6.83" fill="#0000c8"/><rect x="579.90" y="72.94" width="6.85" height="6.83" fill="#0000c8"/><rect x="586.70" y="72.94" width="6.85" height="6.83" fill="#0000c8"/><rect x="593.50" y="72.94" width="6.85" height="6.83" fill="#0000c8"/><rect x="600.30" y="72.94" width="6.85" height="6.83" fill="#0000c8"/><rect x="607.10" y="72.94" width="6.85" height="6.83" fill="#9090e6"/><rect x="613.90" y="72.94" width="6.85" height="6.83" fill="#0000c8"/><rect x="620.70" y="72.94" width="6.85" height="6.83" fill="#0000c8"/><rect x="629.70" y="72.94" width="6.75" height="6.83" fill="#ff9f9f"/><rect x="636.40" y="72.94" width="6.75" height="6.83" fill="#ffb8b8"/><rect x="643.10" y="72.94" width="6.75" height="6.83" fill="#ffc1c1"/><rect x="649.80" y="72.94" width="6.75" height="6.83" fill="#ff9595"/><rect x="656.50" y="72.94" width="6.75" height="6.83" fill="#ff9090"/><rect x="663.20" y="72.94" width="6.75" height="6.83" fill="#ff9090"/><rect x="669.90" y="72.94" width="6.75" height="6.83" fill="#0000c8"/><rect x="676.60" y="72.94" width="6.75" height="6.83" fill="#0000c8"/><rect x="573.10" y="79.72" width="6.85" height="6.83" fill="#b5b5ee"/><rect x="579.90" y="79.72" width="6.85" height="6.83" fill="#babaef"/><rect x="586.70" y="79.72" width="6.85" height="6.83" fill="#b5b5ee"/><rect x="593.50" y="79.72" width="6.85" height="6.83" fill="#a7a7eb"/><rect x="600.30" y="79.72" width="6.85" height="6.83" fill="#ffd0d0"/><rect x="607.10" y="79.72" width="6.85" height="6.83" fill="#ffe9e9"/><rect x="613.90" y="79.72" width="6.85" height="6.83" fill="#ffc6c6"/><rect x="620.70" y="79.72" width="6.85" height="6.83" fill="#ffb8b8"/><rect x="629.70" y="79.72" width="6.75" height="6.83" fill="#ff4040"/><rect x="636.40" y="79.72" width="6.75" height="6.83" fill="#ff4040"/><rect x="643.10" y="79.72" width="6.75" height="6.83" fill="#ff3c3c"/><rect x="649.80" y="79.72" width="6.75" height="6.83" fill="#ff5454"/><rect x="656.50" y="79.72" width="6.75" height="6.83" fill="#ff3232"/><rect x="663.20" y="79.72" width="6.75" height="6.83" fill="#ff4545"/><rect x="669.90" y="79.72" width="6.75" height="6.83" fill="#ffd5d5"/><rect x="676.60" y="79.72" width="6.75" height="6.83" fill="#ffb8b8"/><rect x="573.10" y="86.51" width="6.85" height="6.83" fill="#9e9ee9"/><rect x="579.90" y="86.51" width="6.85" height="6.83" fill="#9090e6"/><rect x="586.70" y="86.51" width="6.85" height="6.83" fill="#acacec"/><rect x="593.50" y="86.51" width="6.85" height="6.83" fill="#d0d0f4"/><rect x="600.30" y="86.51" width="6.85" height="6.83" fill="#ccccf3"/><rect x="607.10" y="86.51" width="6.85" height="6.83" fill="#babaef"/><rect x="613.90" y="86.51" width="6.85" height="6.83" fill="#ccccf3"/><rect x="620.70" y="86.51" width="6.85" height="6.83" fill="#d0d0f4"/><rect x="629.70" y="86.51" width="6.75" height="6.83" fill="#ff5e5e"/><rect x="636.40" y="86.51" width="6.75" height="6.83" fill="#ff5959"/><rect x="643.10" y="86.51" width="6.75" height="6.83" fill="#ff5959"/><rect x="649.80" y="86.51" width="6.75" height="6.83" fill="#ff5959"/><rect x="656.50" y="86.51" width="6.75" height="6.83" fill="#ff3232"/><rect x="663.20" y="86.51" width="6.75" height="6.83" fill="#ff5454"/><rect x="669.90" y="86.51" width="6.75" height="6.83" fill="#fff8f8"/><rect x="676.60" y="86.51" width="6.75" height="6.83" fill="#ffb8b8"/><rect x="573.10" y="93.30" width="6.85" height="6.83" fill="#0000c8"/><rect x="579.90" y="93.30" width="6.85" height="6.83" fill="#4c4cd8"/><rect x="586.70" y="93.30" width="6.85" height="6.83" fill="#0000c8"/><rect x="593.50" y="93.30" width="6.85" height="6.83" fill="#0000c8"/><rect x="600.30" y="93.30" width="6.85" height="6.83" fill="#9090e6"/><rect x="607.10" y="93.30" width="6.85" height="6.83" fill="#6565dd"/><rect x="613.90" y="93.30" width="6.85" height="6.83" fill="#6565dd"/><rect x="620.70" y="93.30" width="6.85" height="6.83" fill="#9595e7"/><rect x="629.70" y="93.30" width="6.75" height="6.83" fill="#ff9595"/><rect x="636.40" y="93.30" width="6.75" height="6.83" fill="#ff9f9f"/><rect x="643.10" y="93.30" width="6.75" height="6.83" fill="#ffb8b8"/><rect x="649.80" y="93.30" width="6.75" height="6.83" fill="#ff8686"/><rect x="656.50" y="93.30" width="6.75" height="6.83" fill="#ff9090"/><rect x="663.20" y="93.30" width="6.75" height="6.83" fill="#ff9f9f"/><rect x="669.90" y="93.30" width="6.75" height="6.83" fill="#acacec"/><rect x="676.60" y="93.30" width="6.75" height="6.83" fill="#0000c8"/><rect x="573.10" y="100.08" width="6.85" height="6.83" fill="#0000c8"/><rect x="579.90" y="100.08" width="6.85" height="6.83" fill="#0000c8"/><rect x="586.70" y="100.08" width="6.85" height="6.83" fill="#0000c8"/><rect x="593.50" y="100.08" width="6.85" height="6.83" fill="#0000c8"/><rect x="600.30" y="100.08" width="6.85" height="6.83" fill="#6f6fdf"/><rect x="607.10" y="100.08" width="6.85" height="6.83" fill="#0000c8"/><rect x="613.90" y="100.08" width="6.85" height="6.83" fill="#0000c8"/><rect x="620.70" y="100.08" width="6.85" height="6.83" fill="#0000c8"/><rect x="629.70" y="100.08" width="6.75" height="6.83" fill="#ffb8b8"/><rect x="636.40" y="100.08" width="6.75" height="6.83" fill="#ffd5d5"/><rect x="643.10" y="100.08" width="6.75" height="6.83" fill="#ffdfdf"/><rect x="649.80" y="100.08" width="6.75" height="6.83" fill="#ff7777"/><rect x="656.50" y="100.08" width="6.75" height="6.83" fill="#dedef6"/><rect x="663.20" y="100.08" width="6.75" height="6.83" fill="#ffc6c6"/><rect x="669.90" y="100.08" width="6.75" height="6.83" fill="#0000c8"/><rect x="676.60" y="100.08" width="6.75" height="6.83" fill="#0000c8"/><rect x="573.10" y="106.86" width="6.85" height="6.83" fill="#ccccf3"/><rect x="579.90" y="106.86" width="6.85" height="6.83" fill="#fff8f8"/><rect x="586.70" y="106.86" width="6.85" height="6.83" fill="#f4f4fb"/><rect x="593.50" y="106.86" width="6.85" height="6.83" fill="#d5d5f5"/><rect x="600.30" y="106.86" width="6.85" height="6.83" fill="#ffe4e4"/><rect x="607.10" y="106.86" width="6.85" height="6.83" fill="#ffdfdf"/><rect x="613.90" y="106.86" width="6.85" height="6.83" fill="#ffc6c6"/><rect x="620.70" y="106.86" width="6.85" height="6.83" fill="#ffa4a4"/><rect x="629.70" y="106.86" width="6.75" height="6.83" fill="#ff3232"/><rect x="636.40" y="106.86" width="6.75" height="6.83" fill="#ff1919"/><rect x="643.10" y="106.86" width="6.75" height="6.83" fill="#ff3232"/><rect x="649.80" y="106.86" width="6.75" height="6.83" fill="#ff4040"/><rect x="656.50" y="106.86" width="6.75" height="6.83" fill="#ff2828"/><rect x="663.20" y="106.86" width="6.75" height="6.83" fill="#ff3c3c"/><rect x="669.90" y="106.86" width="6.75" height="6.83" fill="#ffd5d5"/><rect x="676.60" y="106.86" width="6.75" height="6.83" fill="#ffaeae"/><rect x="573.10" y="113.65" width="6.85" height="6.83" fill="#6f6fdf"/><rect x="579.90" y="113.65" width="6.85" height="6.83" fill="#c3c3f1"/><rect x="586.70" y="113.65" width="6.85" height="6.83" fill="#acacec"/><rect x="593.50" y="113.65" width="6.85" height="6.83" fill="#acacec"/><rect x="600.30" y="113.65" width="6.85" height="6.83" fill="#b5b5ee"/><rect x="607.10" y="113.65" width="6.85" height="6.83" fill="#ccccf3"/><rect x="613.90" y="113.65" width="6.85" height="6.83" fill="#fff8f8"/><rect x="620.70" y="113.65" width="6.85" height="6.83" fill="#8787e4"/><rect x="629.70" y="113.65" width="6.75" height="6.83" fill="#ff6868"/><rect x="636.40" y="113.65" width="6.75" height="6.83" fill="#ff6868"/><rect x="643.10" y="113.65" width="6.75" height="6.83" fill="#ff6d6d"/><rect x="649.80" y="113.65" width="6.75" height="6.83" fill="#ff7777"/><rect x="656.50" y="113.65" width="6.75" height="6.83" fill="#ff5e5e"/><rect x="663.20" y="113.65" width="6.75" height="6.83" fill="#ff6d6d"/><rect x="669.90" y="113.65" width="6.75" height="6.83" fill="#ebebf9"/><rect x="676.60" y="113.65" width="6.75" height="6.83" fill="#ffbcbc"/><rect x="573.10" y="120.44" width="6.85" height="6.83" fill="#e2e2f7"/><rect x="579.90" y="120.44" width="6.85" height="6.83" fill="#dedef6"/><rect x="586.70" y="120.44" width="6.85" height="6.83" fill="#8787e4"/><rect x="593.50" y="120.44" width="6.85" height="6.83" fill="#fff8f8"/><rect x="600.30" y="120.44" width="6.85" height="6.83" fill="#ebebf9"/><rect x="607.10" y="120.44" width="6.85" height="6.83" fill="#fff8f8"/><rect x="613.90" y="120.44" width="6.85" height="6.83" fill="#e6e6f8"/><rect x="620.70" y="120.44" width="6.85" height="6.83" fill="#ffcbcb"/><rect x="629.70" y="120.44" width="6.75" height="6.83" fill="#ff5959"/><rect x="636.40" y="120.44" width="6.75" height="6.83" fill="#ff5454"/><rect x="643.10" y="120.44" width="6.75" height="6.83" fill="#ff5959"/><rect x="649.80" y="120.44" width="6.75" height="6.83" fill="#ff5959"/><rect x="656.50" y="120.44" width="6.75" height="6.83" fill="#ff4040"/><rect x="663.20" y="120.44" width="6.75" height="6.83" fill="#ff4040"/><rect x="669.90" y="120.44" width="6.75" height="6.83" fill="#c3c3f1"/><rect x="676.60" y="120.44" width="6.75" height="6.83" fill="#ff7c7c"/><rect x="573.10" y="127.22" width="6.85" height="6.83" fill="#c3c3f1"/><rect x="579.90" y="127.22" width="6.85" height="6.83" fill="#5656da"/><rect x="586.70" y="127.22" width="6.85" height="6.83" fill="#8787e4"/><rect x="593.50" y="127.22" width="6.85" height="6.83" fill="#ebebf9"/><rect x="600.30" y="127.22" width="6.85" height="6.83" fill="#5b5bdb"/><rect x="607.10" y="127.22" width="6.85" height="6.83" fill="#9e9ee9"/><rect x="613.90" y="127.22" width="6.85" height="6.83" fill="#9e9ee9"/><rect x="620.70" y="127.22" width="6.85" height="6.83" fill="#9090e6"/><rect x="629.70" y="127.22" width="6.75" height="6.83" fill="#ff9090"/><rect x="636.40" y="127.22" width="6.75" height="6.83" fill="#ff9090"/><rect x="643.10" y="127.22" width="6.75" height="6.83" fill="#ff9595"/><rect x="649.80" y="127.22" width="6.75" height="6.83" fill="#ffbcbc"/><rect x="656.50" y="127.22" width="6.75" height="6.83" fill="#ff7777"/><rect x="663.20" y="127.22" width="6.75" height="6.83" fill="#ff8686"/><rect x="669.90" y="127.22" width="6.75" height="6.83" fill="#5656da"/><rect x="676.60" y="127.22" width="6.75" height="6.83" fill="#0000c8"/><rect x="573.10" y="134.00" width="6.85" height="6.83" fill="#9e9ee9"/><rect x="579.90" y="134.00" width="6.85" height="6.83" fill="#8787e4"/><rect x="586.70" y="134.00" width="6.85" height="6.83" fill="#efeffa"/><rect x="593.50" y="134.00" width="6.85" height="6.83" fill="#b5b5ee"/><rect x="600.30" y="134.00" width="6.85" height="6.83" fill="#fff8f8"/><rect x="607.10" y="134.00" width="6.85" height="6.83" fill="#fff8f8"/><rect x="613.90" y="134.00" width="6.85" height="6.83" fill="#c3c3f1"/><rect x="620.70" y="134.00" width="6.85" height="6.83" fill="#e2e2f7"/><rect x="629.70" y="134.00" width="6.75" height="6.83" fill="#ff6d6d"/><rect x="636.40" y="134.00" width="6.75" height="6.83" fill="#ff6d6d"/><rect x="643.10" y="134.00" width="6.75" height="6.83" fill="#ff6d6d"/><rect x="649.80" y="134.00" width="6.75" height="6.83" fill="#ff6d6d"/><rect x="656.50" y="134.00" width="6.75" height="6.83" fill="#ff5959"/><rect x="663.20" y="134.00" width="6.75" height="6.83" fill="#ff6d6d"/><rect x="669.90" y="134.00" width="6.75" height="6.83" fill="#c3c3f1"/><rect x="676.60" y="134.00" width="6.75" height="6.83" fill="#ffdfdf"/><rect x="573.10" y="140.79" width="6.85" height="6.83" fill="#9e9ee9"/><rect x="579.90" y="140.79" width="6.85" height="6.83" fill="#7878e1"/><rect x="586.70" y="140.79" width="6.85" height="6.83" fill="#9595e7"/><rect x="593.50" y="140.79" width="6.85" height="6.83" fill="#dedef6"/><rect x="600.30" y="140.79" width="6.85" height="6.83" fill="#6f6fdf"/><rect x="607.10" y="140.79" width="6.85" height="6.83" fill="#babaef"/><rect x="613.90" y="140.79" width="6.85" height="6.83" fill="#acacec"/><rect x="620.70" y="140.79" width="6.85" height="6.83" fill="#dedef6"/><rect x="629.70" y="140.79" width="6.75" height="6.83" fill="#ff8686"/><rect x="636.40" y="140.79" width="6.75" height="6.83" fill="#ff9090"/><rect x="643.10" y="140.79" width="6.75" height="6.83" fill="#ff9f9f"/><rect x="649.80" y="140.79" width="6.75" height="6.83" fill="#ff7777"/><rect x="656.50" y="140.79" width="6.75" height="6.83" fill="#ff7c7c"/><rect x="663.20" y="140.79" width="6.75" height="6.83" fill="#ff7c7c"/><rect x="669.90" y="140.79" width="6.75" height="6.83" fill="#babaef"/><rect x="676.60" y="140.79" width="6.75" height="6.83" fill="#ff9090"/><rect x="573.10" y="147.57" width="6.85" height="6.83" fill="#0000c8"/><rect x="579.90" y="147.57" width="6.85" height="6.83" fill="#4c4cd8"/><rect x="586.70" y="147.57" width="6.85" height="6.83" fill="#0000c8"/><rect x="593.50" y="147.57" width="6.85" height="6.83" fill="#0000c8"/><rect x="600.30" y="147.57" width="6.85" height="6.83" fill="#7878e1"/><rect x="607.10" y="147.57" width="6.85" height="6.83" fill="#0000c8"/><rect x="613.90" y="147.57" width="6.85" height="6.83" fill="#b5b5ee"/><rect x="620.70" y="147.57" width="6.85" height="6.83" fill="#9090e6"/><rect x="629.70" y="147.57" width="6.75" height="6.83" fill="#ffdfdf"/><rect x="636.40" y="147.57" width="6.75" height="6.83" fill="#ffbcbc"/><rect x="643.10" y="147.57" width="6.75" height="6.83" fill="#ffb8b8"/><rect x="649.80" y="147.57" width="6.75" height="6.83" fill="#0000c8"/><rect x="656.50" y="147.57" width="6.75" height="6.83" fill="#babaef"/><rect x="663.20" y="147.57" width="6.75" height="6.83" fill="#ebebf9"/><rect x="669.90" y="147.57" width="6.75" height="6.83" fill="#acacec"/><rect x="676.60" y="147.57" width="6.75" height="6.83" fill="#0000c8"/><rect x="573.10" y="154.36" width="6.85" height="6.83" fill="#ccccf3"/><rect x="579.90" y="154.36" width="6.85" height="6.83" fill="#babaef"/><rect x="586.70" y="154.36" width="6.85" height="6.83" fill="#ccccf3"/><rect x="593.50" y="154.36" width="6.85" height="6.83" fill="#acacec"/><rect x="600.30" y="154.36" width="6.85" height="6.83" fill="#6565dd"/><rect x="607.10" y="154.36" width="6.85" height="6.83" fill="#f4f4fb"/><rect x="613.90" y="154.36" width="6.85" height="6.83" fill="#e2e2f7"/><rect x="620.70" y="154.36" width="6.85" height="6.83" fill="#ffe9e9"/><rect x="629.70" y="154.36" width="6.75" height="6.83" fill="#ff4545"/><rect x="636.40" y="154.36" width="6.75" height="6.83" fill="#ff5959"/><rect x="643.10" y="154.36" width="6.75" height="6.83" fill="#ff8686"/><rect x="649.80" y="154.36" width="6.75" height="6.83" fill="#ff4040"/><rect x="656.50" y="154.36" width="6.75" height="6.83" fill="#ff5959"/><rect x="663.20" y="154.36" width="6.75" height="6.83" fill="#ff5e5e"/><rect x="669.90" y="154.36" width="6.75" height="6.83" fill="#e2e2f7"/><rect x="676.60" y="154.36" width="6.75" height="6.83" fill="#ff7c7c"/><rect x="573.10" y="161.14" width="6.85" height="6.83" fill="#acacec"/><rect x="579.90" y="161.14" width="6.85" height="6.83" fill="#8787e4"/><rect x="586.70" y="161.14" width="6.85" height="6.83" fill="#0000c8"/><rect x="593.50" y="161.14" width="6.85" height="6.83" fill="#ffdfdf"/><rect x="600.30" y="161.14" width="6.85" height="6.83" fill="#fff8f8"/><rect x="607.10" y="161.14" width="6.85" height="6.83" fill="#ffe9e9"/><rect x="613.90" y="161.14" width="6.85" height="6.83" fill="#ffe9e9"/><rect x="620.70" y="161.14" width="6.85" height="6.83" fill="#ffdfdf"/><rect x="629.70" y="161.14" width="6.75" height="6.83" fill="#ff8686"/><rect x="636.40" y="161.14" width="6.75" height="6.83" fill="#ff9595"/><rect x="643.10" y="161.14" width="6.75" height="6.83" fill="#ff9595"/><rect x="649.80" y="161.14" width="6.75" height="6.83" fill="#ff7777"/><rect x="656.50" y="161.14" width="6.75" height="6.83" fill="#ff7c7c"/><rect x="663.20" y="161.14" width="6.75" height="6.83" fill="#ff7777"/><rect x="669.90" y="161.14" width="6.75" height="6.83" fill="#ffeeee"/><rect x="676.60" y="161.14" width="6.75" height="6.83" fill="#0000c8"/><rect x="573.10" y="167.93" width="6.85" height="6.83" fill="#ffdfdf"/><rect x="579.90" y="167.93" width="6.85" height="6.83" fill="#dedef6"/><rect x="586.70" y="167.93" width="6.85" height="6.83" fill="#acacec"/><rect x="593.50" y="167.93" width="6.85" height="6.83" fill="#ffd5d5"/><rect x="600.30" y="167.93" width="6.85" height="6.83" fill="#ffd5d5"/><rect x="607.10" y="167.93" width="6.85" height="6.83" fill="#ffd5d5"/><rect x="613.90" y="167.93" width="6.85" height="6.83" fill="#0000c8"/><rect x="620.70" y="167.93" width="6.85" height="6.83" fill="#ffbcbc"/><rect x="629.70" y="167.93" width="6.75" height="6.83" fill="#ff4040"/><rect x="636.40" y="167.93" width="6.75" height="6.83" fill="#ff4545"/><rect x="643.10" y="167.93" width="6.75" height="6.83" fill="#ff5959"/><rect x="649.80" y="167.93" width="6.75" height="6.83" fill="#ff3232"/><rect x="656.50" y="167.93" width="6.75" height="6.83" fill="#ff1414"/><rect x="663.20" y="167.93" width="6.75" height="6.83" fill="#ff4545"/><rect x="669.90" y="167.93" width="6.75" height="6.83" fill="#acacec"/><rect x="676.60" y="167.93" width="6.75" height="6.83" fill="#ffdfdf"/><rect x="573.10" y="174.71" width="6.85" height="6.83" fill="#8787e4"/><rect x="579.90" y="174.71" width="6.85" height="6.83" fill="#5656da"/><rect x="586.70" y="174.71" width="6.85" height="6.83" fill="#ccccf3"/><rect x="593.50" y="174.71" width="6.85" height="6.83" fill="#e2e2f7"/><rect x="600.30" y="174.71" width="6.85" height="6.83" fill="#acacec"/><rect x="607.10" y="174.71" width="6.85" height="6.83" fill="#fff8f8"/><rect x="613.90" y="174.71" width="6.85" height="6.83" fill="#0000c8"/><rect x="620.70" y="174.71" width="6.85" height="6.83" fill="#ffd5d5"/><rect x="629.70" y="174.71" width="6.75" height="6.83" fill="#ffa4a4"/><rect x="636.40" y="174.71" width="6.75" height="6.83" fill="#ffb3b3"/><rect x="643.10" y="174.71" width="6.75" height="6.83" fill="#ffb8b8"/><rect x="649.80" y="174.71" width="6.75" height="6.83" fill="#ff6d6d"/><rect x="656.50" y="174.71" width="6.75" height="6.83" fill="#ff9595"/><rect x="663.20" y="174.71" width="6.75" height="6.83" fill="#ff8686"/><rect x="669.90" y="174.71" width="6.75" height="6.83" fill="#0000c8"/><rect x="676.60" y="174.71" width="6.75" height="6.83" fill="#ffbcbc"/><rect x="573.10" y="181.50" width="6.85" height="6.83" fill="#e2e2f7"/><rect x="579.90" y="181.50" width="6.85" height="6.83" fill="#c3c3f1"/><rect x="586.70" y="181.50" width="6.85" height="6.83" fill="#7878e1"/><rect x="593.50" y="181.50" width="6.85" height="6.83" fill="#e2e2f7"/><rect x="600.30" y="181.50" width="6.85" height="6.83" fill="#fff8f8"/><rect x="607.10" y="181.50" width="6.85" height="6.83" fill="#ebebf9"/><rect x="613.90" y="181.50" width="6.85" height="6.83" fill="#ffcbcb"/><rect x="620.70" y="181.50" width="6.85" height="6.83" fill="#efeffa"/><rect x="629.70" y="181.50" width="6.75" height="6.83" fill="#ff7777"/><rect x="636.40" y="181.50" width="6.75" height="6.83" fill="#ff7777"/><rect x="643.10" y="181.50" width="6.75" height="6.83" fill="#ff6d6d"/><rect x="649.80" y="181.50" width="6.75" height="6.83" fill="#ff6d6d"/><rect x="656.50" y="181.50" width="6.75" height="6.83" fill="#ff6d6d"/><rect x="663.20" y="181.50" width="6.75" height="6.83" fill="#ff7777"/><rect x="669.90" y="181.50" width="6.75" height="6.83" fill="#e2e2f7"/><rect x="676.60" y="181.50" width="6.75" height="6.83" fill="#0000c8"/><rect x="573.10" y="188.29" width="6.85" height="6.83" fill="#ffe9e9"/><rect x="579.90" y="188.29" width="6.85" height="6.83" fill="#efeffa"/><rect x="586.70" y="188.29" width="6.85" height="6.83" fill="#dedef6"/><rect x="593.50" y="188.29" width="6.85" height="6.83" fill="#ffb8b8"/><rect x="600.30" y="188.29" width="6.85" height="6.83" fill="#ffb8b8"/><rect x="607.10" y="188.29" width="6.85" height="6.83" fill="#ff7777"/><rect x="613.90" y="188.29" width="6.85" height="6.83" fill="#ffc6c6"/><rect x="620.70" y="188.29" width="6.85" height="6.83" fill="#ff6d6d"/><rect x="629.70" y="188.29" width="6.75" height="6.83" fill="#ff4040"/><rect x="636.40" y="188.29" width="6.75" height="6.83" fill="#ff4545"/><rect x="643.10" y="188.29" width="6.75" height="6.83" fill="#ff4545"/><rect x="649.80" y="188.29" width="6.75" height="6.83" fill="#ff6868"/><rect x="656.50" y="188.29" width="6.75" height="6.83" fill="#ff3c3c"/><rect x="663.20" y="188.29" width="6.75" height="6.83" fill="#ff4040"/><rect x="669.90" y="188.29" width="6.75" height="6.83" fill="#f4f4fb"/><rect x="676.60" y="188.29" width="6.75" height="6.83" fill="#ffe9e9"/><rect x="573.10" y="195.07" width="6.85" height="6.83" fill="#dedef6"/><rect x="579.90" y="195.07" width="6.85" height="6.83" fill="#d5d5f5"/><rect x="586.70" y="195.07" width="6.85" height="6.83" fill="#0000c8"/><rect x="593.50" y="195.07" width="6.85" height="6.83" fill="#acacec"/><rect x="600.30" y="195.07" width="6.85" height="6.83" fill="#ebebf9"/><rect x="607.10" y="195.07" width="6.85" height="6.83" fill="#efeffa"/><rect x="613.90" y="195.07" width="6.85" height="6.83" fill="#babaef"/><rect x="620.70" y="195.07" width="6.85" height="6.83" fill="#9090e6"/><rect x="629.70" y="195.07" width="6.75" height="6.83" fill="#ff8686"/><rect x="636.40" y="195.07" width="6.75" height="6.83" fill="#ff9090"/><rect x="643.10" y="195.07" width="6.75" height="6.83" fill="#ff8686"/><rect x="649.80" y="195.07" width="6.75" height="6.83" fill="#ff8686"/><rect x="656.50" y="195.07" width="6.75" height="6.83" fill="#ff7c7c"/><rect x="663.20" y="195.07" width="6.75" height="6.83" fill="#ff7777"/><rect x="669.90" y="195.07" width="6.75" height="6.83" fill="#e2e2f7"/><rect x="676.60" y="195.07" width="6.75" height="6.83" fill="#ffeeee"/><rect x="573.10" y="201.86" width="6.85" height="6.83" fill="#ffc6c6"/><rect x="579.90" y="201.86" width="6.85" height="6.83" fill="#fff8f8"/><rect x="586.70" y="201.86" width="6.85" height="6.83" fill="#ffe9e9"/><rect x="593.50" y="201.86" width="6.85" height="6.83" fill="#ffd5d5"/><rect x="600.30" y="201.86" width="6.85" height="6.83" fill="#fff3f3"/><rect x="607.10" y="201.86" width="6.85" height="6.83" fill="#fff8f8"/><rect x="613.90" y="201.86" width="6.85" height="6.83" fill="#ffbcbc"/><rect x="620.70" y="201.86" width="6.85" height="6.83" fill="#ffbcbc"/><rect x="629.70" y="201.86" width="6.75" height="6.83" fill="#ff2323"/><rect x="636.40" y="201.86" width="6.75" height="6.83" fill="#ff2828"/><rect x="643.10" y="201.86" width="6.75" height="6.83" fill="#ff3232"/><rect x="649.80" y="201.86" width="6.75" height="6.83" fill="#ff2323"/><rect x="656.50" y="201.86" width="6.75" height="6.83" fill="#ff1919"/><rect x="663.20" y="201.86" width="6.75" height="6.83" fill="#ff2828"/><rect x="669.90" y="201.86" width="6.75" height="6.83" fill="#ffd5d5"/><rect x="676.60" y="201.86" width="6.75" height="6.83" fill="#ff9090"/><rect x="573.10" y="208.64" width="6.85" height="6.83" fill="#babaef"/><rect x="579.90" y="208.64" width="6.85" height="6.83" fill="#7878e1"/><rect x="586.70" y="208.64" width="6.85" height="6.83" fill="#0000c8"/><rect x="593.50" y="208.64" width="6.85" height="6.83" fill="#d5d5f5"/><rect x="600.30" y="208.64" width="6.85" height="6.83" fill="#dedef6"/><rect x="607.10" y="208.64" width="6.85" height="6.83" fill="#fff8f8"/><rect x="613.90" y="208.64" width="6.85" height="6.83" fill="#d5d5f5"/><rect x="620.70" y="208.64" width="6.85" height="6.83" fill="#ffdfdf"/><rect x="629.70" y="208.64" width="6.75" height="6.83" fill="#ffa4a4"/><rect x="636.40" y="208.64" width="6.75" height="6.83" fill="#ffa4a4"/><rect x="643.10" y="208.64" width="6.75" height="6.83" fill="#ffb8b8"/><rect x="649.80" y="208.64" width="6.75" height="6.83" fill="#fff3f3"/><rect x="656.50" y="208.64" width="6.75" height="6.83" fill="#ffb8b8"/><rect x="663.20" y="208.64" width="6.75" height="6.83" fill="#ffaeae"/><rect x="669.90" y="208.64" width="6.75" height="6.83" fill="#e2e2f7"/><rect x="676.60" y="208.64" width="6.75" height="6.83" fill="#0000c8"/><rect x="573.10" y="215.43" width="6.85" height="6.83" fill="#ffdfdf"/><rect x="579.90" y="215.43" width="6.85" height="6.83" fill="#ebebf9"/><rect x="586.70" y="215.43" width="6.85" height="6.83" fill="#acacec"/><rect x="593.50" y="215.43" width="6.85" height="6.83" fill="#ebebf9"/><rect x="600.30" y="215.43" width="6.85" height="6.83" fill="#e2e2f7"/><rect x="607.10" y="215.43" width="6.85" height="6.83" fill="#ffd5d5"/><rect x="613.90" y="215.43" width="6.85" height="6.83" fill="#fff8f8"/><rect x="620.70" y="215.43" width="6.85" height="6.83" fill="#ffcbcb"/><rect x="629.70" y="215.43" width="6.75" height="6.83" fill="#ff5959"/><rect x="636.40" y="215.43" width="6.75" height="6.83" fill="#ff5454"/><rect x="643.10" y="215.43" width="6.75" height="6.83" fill="#ff5959"/><rect x="649.80" y="215.43" width="6.75" height="6.83" fill="#ff5959"/><rect x="656.50" y="215.43" width="6.75" height="6.83" fill="#ff6868"/><rect x="663.20" y="215.43" width="6.75" height="6.83" fill="#ff5454"/><rect x="669.90" y="215.43" width="6.75" height="6.83" fill="#ebebf9"/><rect x="676.60" y="215.43" width="6.75" height="6.83" fill="#ffb8b8"/><rect x="573.10" y="222.21" width="6.85" height="6.83" fill="#babaef"/><rect x="579.90" y="222.21" width="6.85" height="6.83" fill="#7878e1"/><rect x="586.70" y="222.21" width="6.85" height="6.83" fill="#7878e1"/><rect x="593.50" y="222.21" width="6.85" height="6.83" fill="#d5d5f5"/><rect x="600.30" y="222.21" width="6.85" height="6.83" fill="#8787e4"/><rect x="607.10" y="222.21" width="6.85" height="6.83" fill="#ccccf3"/><rect x="613.90" y="222.21" width="6.85" height="6.83" fill="#c3c3f1"/><rect x="620.70" y="222.21" width="6.85" height="6.83" fill="#9090e6"/><rect x="629.70" y="222.21" width="6.75" height="6.83" fill="#ff9595"/><rect x="636.40" y="222.21" width="6.75" height="6.83" fill="#ffaeae"/><rect x="643.10" y="222.21" width="6.75" height="6.83" fill="#ffcbcb"/><rect x="649.80" y="222.21" width="6.75" height="6.83" fill="#ff9595"/><rect x="656.50" y="222.21" width="6.75" height="6.83" fill="#ff9f9f"/><rect x="663.20" y="222.21" width="6.75" height="6.83" fill="#ff9090"/><rect x="669.90" y="222.21" width="6.75" height="6.83" fill="#b5b5ee"/><rect x="676.60" y="222.21" width="6.75" height="6.83" fill="#ffdfdf"/><rect x="573.10" y="229.00" width="6.85" height="6.83" fill="#fff8f8"/><rect x="579.90" y="229.00" width="6.85" height="6.83" fill="#fff8f8"/><rect x="586.70" y="229.00" width="6.85" height="6.83" fill="#c3c3f1"/><rect x="593.50" y="229.00" width="6.85" height="6.83" fill="#acacec"/><rect x="600.30" y="229.00" width="6.85" height="6.83" fill="#e2e2f7"/><rect x="607.10" y="229.00" width="6.85" height="6.83" fill="#ffdfdf"/><rect x="613.90" y="229.00" width="6.85" height="6.83" fill="#ffd5d5"/><rect x="620.70" y="229.00" width="6.85" height="6.83" fill="#ffa4a4"/><rect x="629.70" y="229.00" width="6.75" height="6.83" fill="#ff4545"/><rect x="636.40" y="229.00" width="6.75" height="6.83" fill="#ff4545"/><rect x="643.10" y="229.00" width="6.75" height="6.83" fill="#ff5959"/><rect x="649.80" y="229.00" width="6.75" height="6.83" fill="#ff4040"/><rect x="656.50" y="229.00" width="6.75" height="6.83" fill="#ff6d6d"/><rect x="663.20" y="229.00" width="6.75" height="6.83" fill="#ff5454"/><rect x="669.90" y="229.00" width="6.75" height="6.83" fill="#fff8f8"/><rect x="676.60" y="229.00" width="6.75" height="6.83" fill="#ff7777"/><rect x="573.10" y="235.78" width="6.85" height="6.83" fill="#ccccf3"/><rect x="579.90" y="235.78" width="6.85" height="6.83" fill="#7878e1"/><rect x="586.70" y="235.78" width="6.85" height="6.83" fill="#acacec"/><rect x="593.50" y="235.78" width="6.85" height="6.83" fill="#fff8f8"/><rect x="600.30" y="235.78" width="6.85" height="6.83" fill="#6565dd"/><rect x="607.10" y="235.78" width="6.85" height="6.83" fill="#acacec"/><rect x="613.90" y="235.78" width="6.85" height="6.83" fill="#8787e4"/><rect x="620.70" y="235.78" width="6.85" height="6.83" fill="#babaef"/><rect x="629.70" y="235.78" width="6.75" height="6.83" fill="#ff9595"/><rect x="636.40" y="235.78" width="6.75" height="6.83" fill="#ffaeae"/><rect x="643.10" y="235.78" width="6.75" height="6.83" fill="#ffaeae"/><rect x="649.80" y="235.78" width="6.75" height="6.83" fill="#ffaeae"/><rect x="656.50" y="235.78" width="6.75" height="6.83" fill="#ff6868"/><rect x="663.20" y="235.78" width="6.75" height="6.83" fill="#ff9f9f"/><rect x="669.90" y="235.78" width="6.75" height="6.83" fill="#7878e1"/><rect x="676.60" y="235.78" width="6.75" height="6.83" fill="#ffdfdf"/><rect x="573.10" y="242.56" width="6.85" height="6.83" fill="#6565dd"/><rect x="579.90" y="242.56" width="6.85" height="6.83" fill="#9e9ee9"/><rect x="586.70" y="242.56" width="6.85" height="6.83" fill="#dedef6"/><rect x="593.50" y="242.56" width="6.85" height="6.83" fill="#0000c8"/><rect x="600.30" y="242.56" width="6.85" height="6.83" fill="#9090e6"/><rect x="607.10" y="242.56" width="6.85" height="6.83" fill="#9090e6"/><rect x="613.90" y="242.56" width="6.85" height="6.83" fill="#c3c3f1"/><rect x="620.70" y="242.56" width="6.85" height="6.83" fill="#0000c8"/><rect x="629.70" y="242.56" width="6.75" height="6.83" fill="#ff9595"/><rect x="636.40" y="242.56" width="6.75" height="6.83" fill="#ffb8b8"/><rect x="643.10" y="242.56" width="6.75" height="6.83" fill="#ffdfdf"/><rect x="649.80" y="242.56" width="6.75" height="6.83" fill="#ffd5d5"/><rect x="656.50" y="242.56" width="6.75" height="6.83" fill="#ffaeae"/><rect x="663.20" y="242.56" width="6.75" height="6.83" fill="#ff9595"/><rect x="669.90" y="242.56" width="6.75" height="6.83" fill="#8787e4"/><rect x="676.60" y="242.56" width="6.75" height="6.83" fill="#0000c8"/><rect x="573.10" y="249.35" width="6.85" height="6.83" fill="#e2e2f7"/><rect x="579.90" y="249.35" width="6.85" height="6.83" fill="#dedef6"/><rect x="586.70" y="249.35" width="6.85" height="6.83" fill="#8787e4"/><rect x="593.50" y="249.35" width="6.85" height="6.83" fill="#acacec"/><rect x="600.30" y="249.35" width="6.85" height="6.83" fill="#fff8f8"/><rect x="607.10" y="249.35" width="6.85" height="6.83" fill="#ebebf9"/><rect x="613.90" y="249.35" width="6.85" height="6.83" fill="#ebebf9"/><rect x="620.70" y="249.35" width="6.85" height="6.83" fill="#ebebf9"/><rect x="629.70" y="249.35" width="6.75" height="6.83" fill="#ff9090"/><rect x="636.40" y="249.35" width="6.75" height="6.83" fill="#ff9090"/><rect x="643.10" y="249.35" width="6.75" height="6.83" fill="#ff7c7c"/><rect x="649.80" y="249.35" width="6.75" height="6.83" fill="#ffb8b8"/><rect x="656.50" y="249.35" width="6.75" height="6.83" fill="#ff7c7c"/><rect x="663.20" y="249.35" width="6.75" height="6.83" fill="#ff8686"/><rect x="669.90" y="249.35" width="6.75" height="6.83" fill="#ccccf3"/><rect x="676.60" y="249.35" width="6.75" height="6.83" fill="#0000c8"/><rect x="573.10" y="256.13" width="6.85" height="6.83" fill="#e2e2f7"/><rect x="579.90" y="256.13" width="6.85" height="6.83" fill="#e2e2f7"/><rect x="586.70" y="256.13" width="6.85" height="6.83" fill="#8787e4"/><rect x="593.50" y="256.13" width="6.85" height="6.83" fill="#acacec"/><rect x="600.30" y="256.13" width="6.85" height="6.83" fill="#c3c3f1"/><rect x="607.10" y="256.13" width="6.85" height="6.83" fill="#ebebf9"/><rect x="613.90" y="256.13" width="6.85" height="6.83" fill="#ebebf9"/><rect x="620.70" y="256.13" width="6.85" height="6.83" fill="#9090e6"/><rect x="629.70" y="256.13" width="6.75" height="6.83" fill="#ff9090"/><rect x="636.40" y="256.13" width="6.75" height="6.83" fill="#ff9595"/><rect x="643.10" y="256.13" width="6.75" height="6.83" fill="#ff9f9f"/><rect x="649.80" y="256.13" width="6.75" height="6.83" fill="#ff6868"/><rect x="656.50" y="256.13" width="6.75" height="6.83" fill="#ff9f9f"/><rect x="663.20" y="256.13" width="6.75" height="6.83" fill="#ff9595"/><rect x="669.90" y="256.13" width="6.75" height="6.83" fill="#ccccf3"/><rect x="676.60" y="256.13" width="6.75" height="6.83" fill="#0000c8"/><rect x="573.10" y="262.92" width="6.85" height="6.83" fill="#ffc6c6"/><rect x="579.90" y="262.92" width="6.85" height="6.83" fill="#ffdfdf"/><rect x="586.70" y="262.92" width="6.85" height="6.83" fill="#ffdfdf"/><rect x="593.50" y="262.92" width="6.85" height="6.83" fill="#ffb8b8"/><rect x="600.30" y="262.92" width="6.85" height="6.83" fill="#ffb8b8"/><rect x="607.10" y="262.92" width="6.85" height="6.83" fill="#ffe9e9"/><rect x="613.90" y="262.92" width="6.85" height="6.83" fill="#ffb8b8"/><rect x="620.70" y="262.92" width="6.85" height="6.83" fill="#ffb8b8"/><rect x="629.70" y="262.92" width="6.75" height="6.83" fill="#ff4545"/><rect x="636.40" y="262.92" width="6.75" height="6.83" fill="#ff4545"/><rect x="643.10" y="262.92" width="6.75" height="6.83" fill="#ff4545"/><rect x="649.80" y="262.92" width="6.75" height="6.83" fill="#ff5959"/><rect x="656.50" y="262.92" width="6.75" height="6.83" fill="#ff3c3c"/><rect x="663.20" y="262.92" width="6.75" height="6.83" fill="#ff4040"/><rect x="669.90" y="262.92" width="6.75" height="6.83" fill="#ffb8b8"/><rect x="676.60" y="262.92" width="6.75" height="6.83" fill="#ffb8b8"/><rect x="573.10" y="269.70" width="6.85" height="6.83" fill="#fff3f3"/><rect x="579.90" y="269.70" width="6.85" height="6.83" fill="#ff9595"/><rect x="586.70" y="269.70" width="6.85" height="6.83" fill="#ffc6c6"/><rect x="593.50" y="269.70" width="6.85" height="6.83" fill="#ffaeae"/><rect x="600.30" y="269.70" width="6.85" height="6.83" fill="#ffe9e9"/><rect x="607.10" y="269.70" width="6.85" height="6.83" fill="#d5d5f5"/><rect x="613.90" y="269.70" width="6.85" height="6.83" fill="#9595e7"/><rect x="620.70" y="269.70" width="6.85" height="6.83" fill="#ff7c7c"/><rect x="629.70" y="269.70" width="6.75" height="6.83" fill="#ff2323"/><rect x="636.40" y="269.70" width="6.75" height="6.83" fill="#ff2828"/><rect x="643.10" y="269.70" width="6.75" height="6.83" fill="#ff5454"/><rect x="649.80" y="269.70" width="6.75" height="6.83" fill="#ff2323"/><rect x="656.50" y="269.70" width="6.75" height="6.83" fill="#ff1919"/><rect x="663.20" y="269.70" width="6.75" height="6.83" fill="#ff4040"/><rect x="669.90" y="269.70" width="6.75" height="6.83" fill="#c3c3f1"/><rect x="676.60" y="269.70" width="6.75" height="6.83" fill="#ff7777"/><rect x="573.10" y="276.49" width="6.85" height="6.83" fill="#9090e6"/><rect x="579.90" y="276.49" width="6.85" height="6.83" fill="#7878e1"/><rect x="586.70" y="276.49" width="6.85" height="6.83" fill="#0000c8"/><rect x="593.50" y="276.49" width="6.85" height="6.83" fill="#0000c8"/><rect x="600.30" y="276.49" width="6.85" height="6.83" fill="#c3c3f1"/><rect x="607.10" y="276.49" width="6.85" height="6.83" fill="#e2e2f7"/><rect x="613.90" y="276.49" width="6.85" height="6.83" fill="#5b5bdb"/><rect x="620.70" y="276.49" width="6.85" height="6.83" fill="#dedef6"/><rect x="629.70" y="276.49" width="6.75" height="6.83" fill="#ffd5d5"/><rect x="636.40" y="276.49" width="6.75" height="6.83" fill="#ffd5d5"/><rect x="643.10" y="276.49" width="6.75" height="6.83" fill="#ffd5d5"/><rect x="649.80" y="276.49" width="6.75" height="6.83" fill="#ffdfdf"/><rect x="656.50" y="276.49" width="6.75" height="6.83" fill="#ffc6c6"/><rect x="663.20" y="276.49" width="6.75" height="6.83" fill="#ffb3b3"/><rect x="669.90" y="276.49" width="6.75" height="6.83" fill="#9595e7"/><rect x="676.60" y="276.49" width="6.75" height="6.83" fill="#0000c8"/><rect x="573.10" y="283.27" width="6.85" height="6.83" fill="#ebebf9"/><rect x="579.90" y="283.27" width="6.85" height="6.83" fill="#ffbcbc"/><rect x="586.70" y="283.27" width="6.85" height="6.83" fill="#ffb8b8"/><rect x="593.50" y="283.27" width="6.85" height="6.83" fill="#ffaeae"/><rect x="600.30" y="283.27" width="6.85" height="6.83" fill="#ffaeae"/><rect x="607.10" y="283.27" width="6.85" height="6.83" fill="#ff6d6d"/><rect x="613.90" y="283.27" width="6.85" height="6.83" fill="#ffbcbc"/><rect x="620.70" y="283.27" width="6.85" height="6.83" fill="#ff7777"/><rect x="629.70" y="283.27" width="6.75" height="6.83" fill="#ff4040"/><rect x="636.40" y="283.27" width="6.75" height="6.83" fill="#ff3232"/><rect x="643.10" y="283.27" width="6.75" height="6.83" fill="#ff4040"/><rect x="649.80" y="283.27" width="6.75" height="6.83" fill="#ff4040"/><rect x="656.50" y="283.27" width="6.75" height="6.83" fill="#ff4040"/><rect x="663.20" y="283.27" width="6.75" height="6.83" fill="#ff3c3c"/><rect x="669.90" y="283.27" width="6.75" height="6.83" fill="#fff3f3"/><rect x="676.60" y="283.27" width="6.75" height="6.83" fill="#ff9595"/><rect x="573.10" y="290.06" width="6.85" height="6.83" fill="#6f6fdf"/><rect x="579.90" y="290.06" width="6.85" height="6.83" fill="#7878e1"/><rect x="586.70" y="290.06" width="6.85" height="6.83" fill="#c3c3f1"/><rect x="593.50" y="290.06" width="6.85" height="6.83" fill="#0000c8"/><rect x="600.30" y="290.06" width="6.85" height="6.83" fill="#0000c8"/><rect x="607.10" y="290.06" width="6.85" height="6.83" fill="#0000c8"/><rect x="613.90" y="290.06" width="6.85" height="6.83" fill="#8787e4"/><rect x="620.70" y="290.06" width="6.85" height="6.83" fill="#ebebf9"/><rect x="629.70" y="290.06" width="6.75" height="6.83" fill="#ffaeae"/><rect x="636.40" y="290.06" width="6.75" height="6.83" fill="#ffd5d5"/><rect x="643.10" y="290.06" width="6.75" height="6.83" fill="#fff3f3"/><rect x="649.80" y="290.06" width="6.75" height="6.83" fill="#ffaeae"/><rect x="656.50" y="290.06" width="6.75" height="6.83" fill="#ff9f9f"/><rect x="663.20" y="290.06" width="6.75" height="6.83" fill="#ffa4a4"/><rect x="669.90" y="290.06" width="6.75" height="6.83" fill="#9090e6"/><rect x="676.60" y="290.06" width="6.75" height="6.83" fill="#0000c8"/><rect x="573.10" y="296.85" width="6.85" height="6.83" fill="#ebebf9"/><rect x="579.90" y="296.85" width="6.85" height="6.83" fill="#c3c3f1"/><rect x="586.70" y="296.85" width="6.85" height="6.83" fill="#8787e4"/><rect x="593.50" y="296.85" width="6.85" height="6.83" fill="#0000c8"/><rect x="600.30" y="296.85" width="6.85" height="6.83" fill="#c3c3f1"/><rect x="607.10" y="296.85" width="6.85" height="6.83" fill="#6f6fdf"/><rect x="613.90" y="296.85" width="6.85" height="6.83" fill="#acacec"/><rect x="620.70" y="296.85" width="6.85" height="6.83" fill="#f4f4fb"/><rect x="629.70" y="296.85" width="6.75" height="6.83" fill="#ff7c7c"/><rect x="636.40" y="296.85" width="6.75" height="6.83" fill="#ffa4a4"/><rect x="643.10" y="296.85" width="6.75" height="6.83" fill="#ff9f9f"/><rect x="649.80" y="296.85" width="6.75" height="6.83" fill="#ffbcbc"/><rect x="656.50" y="296.85" width="6.75" height="6.83" fill="#ff9090"/><rect x="663.20" y="296.85" width="6.75" height="6.83" fill="#ff9595"/><rect x="669.90" y="296.85" width="6.75" height="6.83" fill="#ccccf3"/><rect x="676.60" y="296.85" width="6.75" height="6.83" fill="#0000c8"/><rect x="573.10" y="303.63" width="6.85" height="6.83" fill="#0000c8"/><rect x="579.90" y="303.63" width="6.85" height="6.83" fill="#c3c3f1"/><rect x="586.70" y="303.63" width="6.85" height="6.83" fill="#0000c8"/><rect x="593.50" y="303.63" width="6.85" height="6.83" fill="#fff8f8"/><rect x="600.30" y="303.63" width="6.85" height="6.83" fill="#0000c8"/><rect x="607.10" y="303.63" width="6.85" height="6.83" fill="#0000c8"/><rect x="613.90" y="303.63" width="6.85" height="6.83" fill="#6565dd"/><rect x="620.70" y="303.63" width="6.85" height="6.83" fill="#9090e6"/><rect x="629.70" y="303.63" width="6.75" height="6.83" fill="#ffb3b3"/><rect x="636.40" y="303.63" width="6.75" height="6.83" fill="#ffaeae"/><rect x="643.10" y="303.63" width="6.75" height="6.83" fill="#ffa4a4"/><rect x="649.80" y="303.63" width="6.75" height="6.83" fill="#ff9595"/><rect x="656.50" y="303.63" width="6.75" height="6.83" fill="#ffe9e9"/><rect x="663.20" y="303.63" width="6.75" height="6.83" fill="#ff9595"/><rect x="669.90" y="303.63" width="6.75" height="6.83" fill="#9595e7"/><rect x="676.60" y="303.63" width="6.75" height="6.83" fill="#ffe9e9"/><rect x="573.10" y="310.42" width="6.85" height="6.83" fill="#ffd5d5"/><rect x="579.90" y="310.42" width="6.85" height="6.83" fill="#ffe9e9"/><rect x="586.70" y="310.42" width="6.85" height="6.83" fill="#efeffa"/><rect x="593.50" y="310.42" width="6.85" height="6.83" fill="#ffdfdf"/><rect x="600.30" y="310.42" width="6.85" height="6.83" fill="#efeffa"/><rect x="607.10" y="310.42" width="6.85" height="6.83" fill="#ffdfdf"/><rect x="613.90" y="310.42" width="6.85" height="6.83" fill="#efeffa"/><rect x="620.70" y="310.42" width="6.85" height="6.83" fill="#ffcbcb"/><rect x="629.70" y="310.42" width="6.75" height="6.83" fill="#ff4040"/><rect x="636.40" y="310.42" width="6.75" height="6.83" fill="#ff4040"/><rect x="643.10" y="310.42" width="6.75" height="6.83" fill="#ff4040"/><rect x="649.80" y="310.42" width="6.75" height="6.83" fill="#ff2828"/><rect x="656.50" y="310.42" width="6.75" height="6.83" fill="#ff4040"/><rect x="663.20" y="310.42" width="6.75" height="6.83" fill="#ff3232"/><rect x="669.90" y="310.42" width="6.75" height="6.83" fill="#fff3f3"/><rect x="676.60" y="310.42" width="6.75" height="6.83" fill="#ffa4a4"/><rect x="573.10" y="317.20" width="6.85" height="6.83" fill="#d5d5f5"/><rect x="579.90" y="317.20" width="6.85" height="6.83" fill="#e2e2f7"/><rect x="586.70" y="317.20" width="6.85" height="6.83" fill="#dedef6"/><rect x="593.50" y="317.20" width="6.85" height="6.83" fill="#d5d5f5"/><rect x="600.30" y="317.20" width="6.85" height="6.83" fill="#e2e2f7"/><rect x="607.10" y="317.20" width="6.85" height="6.83" fill="#ebebf9"/><rect x="613.90" y="317.20" width="6.85" height="6.83" fill="#ffe9e9"/><rect x="620.70" y="317.20" width="6.85" height="6.83" fill="#ffdfdf"/><rect x="629.70" y="317.20" width="6.75" height="6.83" fill="#ff7c7c"/><rect x="636.40" y="317.20" width="6.75" height="6.83" fill="#ff7c7c"/><rect x="643.10" y="317.20" width="6.75" height="6.83" fill="#ff6d6d"/><rect x="649.80" y="317.20" width="6.75" height="6.83" fill="#ff7777"/><rect x="656.50" y="317.20" width="6.75" height="6.83" fill="#ff7c7c"/><rect x="663.20" y="317.20" width="6.75" height="6.83" fill="#ff7777"/><rect x="669.90" y="317.20" width="6.75" height="6.83" fill="#fff8f8"/><rect x="676.60" y="317.20" width="6.75" height="6.83" fill="#ff7777"/><rect x="573.10" y="323.99" width="6.85" height="6.83" fill="#c3c3f1"/><rect x="579.90" y="323.99" width="6.85" height="6.83" fill="#8787e4"/><rect x="586.70" y="323.99" width="6.85" height="6.83" fill="#0000c8"/><rect x="593.50" y="323.99" width="6.85" height="6.83" fill="#ccccf3"/><rect x="600.30" y="323.99" width="6.85" height="6.83" fill="#0000c8"/><rect x="607.10" y="323.99" width="6.85" height="6.83" fill="#ccccf3"/><rect x="613.90" y="323.99" width="6.85" height="6.83" fill="#6565dd"/><rect x="620.70" y="323.99" width="6.85" height="6.83" fill="#0000c8"/><rect x="629.70" y="323.99" width="6.75" height="6.83" fill="#ffb8b8"/><rect x="636.40" y="323.99" width="6.75" height="6.83" fill="#ffbcbc"/><rect x="643.10" y="323.99" width="6.75" height="6.83" fill="#ffbcbc"/><rect x="649.80" y="323.99" width="6.75" height="6.83" fill="#ff9595"/><rect x="656.50" y="323.99" width="6.75" height="6.83" fill="#ffd5d5"/><rect x="663.20" y="323.99" width="6.75" height="6.83" fill="#ffa4a4"/><rect x="669.90" y="323.99" width="6.75" height="6.83" fill="#c3c3f1"/><rect x="676.60" y="323.99" width="6.75" height="6.83" fill="#ffdfdf"/><rect x="573.10" y="330.77" width="6.85" height="6.83" fill="#dedef6"/><rect x="579.90" y="330.77" width="6.85" height="6.83" fill="#acacec"/><rect x="586.70" y="330.77" width="6.85" height="6.83" fill="#9e9ee9"/><rect x="593.50" y="330.77" width="6.85" height="6.83" fill="#d5d5f5"/><rect x="600.30" y="330.77" width="6.85" height="6.83" fill="#dedef6"/><rect x="607.10" y="330.77" width="6.85" height="6.83" fill="#fff8f8"/><rect x="613.90" y="330.77" width="6.85" height="6.83" fill="#c3c3f1"/><rect x="620.70" y="330.77" width="6.85" height="6.83" fill="#ffd5d5"/><rect x="629.70" y="330.77" width="6.75" height="6.83" fill="#ff9595"/><rect x="636.40" y="330.77" width="6.75" height="6.83" fill="#ff9f9f"/><rect x="643.10" y="330.77" width="6.75" height="6.83" fill="#ff9595"/><rect x="649.80" y="330.77" width="6.75" height="6.83" fill="#ff8686"/><rect x="656.50" y="330.77" width="6.75" height="6.83" fill="#ffa4a4"/><rect x="663.20" y="330.77" width="6.75" height="6.83" fill="#ff9090"/><rect x="669.90" y="330.77" width="6.75" height="6.83" fill="#efeffa"/><rect x="676.60" y="330.77" width="6.75" height="6.83" fill="#0000c8"/><rect x="573.10" y="337.56" width="6.85" height="6.83" fill="#c3c3f1"/><rect x="579.90" y="337.56" width="6.85" height="6.83" fill="#d5d5f5"/><rect x="586.70" y="337.56" width="6.85" height="6.83" fill="#d5d5f5"/><rect x="593.50" y="337.56" width="6.85" height="6.83" fill="#dedef6"/><rect x="600.30" y="337.56" width="6.85" height="6.83" fill="#e2e2f7"/><rect x="607.10" y="337.56" width="6.85" height="6.83" fill="#6565dd"/><rect x="613.90" y="337.56" width="6.85" height="6.83" fill="#6565dd"/><rect x="620.70" y="337.56" width="6.85" height="6.83" fill="#ebebf9"/><rect x="629.70" y="337.56" width="6.75" height="6.83" fill="#ff9595"/><rect x="636.40" y="337.56" width="6.75" height="6.83" fill="#ff9f9f"/><rect x="643.10" y="337.56" width="6.75" height="6.83" fill="#ff9090"/><rect x="649.80" y="337.56" width="6.75" height="6.83" fill="#ff7c7c"/><rect x="656.50" y="337.56" width="6.75" height="6.83" fill="#ff7c7c"/><rect x="663.20" y="337.56" width="6.75" height="6.83" fill="#ff9090"/><rect x="669.90" y="337.56" width="6.75" height="6.83" fill="#0000c8"/><rect x="676.60" y="337.56" width="6.75" height="6.83" fill="#ffdfdf"/><rect x="573.10" y="344.34" width="6.85" height="6.83" fill="#0000c8"/><rect x="579.90" y="344.34" width="6.85" height="6.83" fill="#9e9ee9"/><rect x="586.70" y="344.34" width="6.85" height="6.83" fill="#0000c8"/><rect x="593.50" y="344.34" width="6.85" height="6.83" fill="#0000c8"/><rect x="600.30" y="344.34" width="6.85" height="6.83" fill="#acacec"/><rect x="607.10" y="344.34" width="6.85" height="6.83" fill="#e2e2f7"/><rect x="613.90" y="344.34" width="6.85" height="6.83" fill="#0000c8"/><rect x="620.70" y="344.34" width="6.85" height="6.83" fill="#ffdfdf"/><rect x="629.70" y="344.34" width="6.75" height="6.83" fill="#ffc6c6"/><rect x="636.40" y="344.34" width="6.75" height="6.83" fill="#ffc6c6"/><rect x="643.10" y="344.34" width="6.75" height="6.83" fill="#fff8f8"/><rect x="649.80" y="344.34" width="6.75" height="6.83" fill="#ff9595"/><rect x="656.50" y="344.34" width="6.75" height="6.83" fill="#ffa4a4"/><rect x="663.20" y="344.34" width="6.75" height="6.83" fill="#ff9595"/><rect x="669.90" y="344.34" width="6.75" height="6.83" fill="#0000c8"/><rect x="676.60" y="344.34" width="6.75" height="6.83" fill="#ffdfdf"/><rect x="573.10" y="351.12" width="6.85" height="6.83" fill="#ff9f9f"/><rect x="579.90" y="351.12" width="6.85" height="6.83" fill="#ffdfdf"/><rect x="586.70" y="351.12" width="6.85" height="6.83" fill="#ffdfdf"/><rect x="593.50" y="351.12" width="6.85" height="6.83" fill="#ffc6c6"/><rect x="600.30" y="351.12" width="6.85" height="6.83" fill="#ff9595"/><rect x="607.10" y="351.12" width="6.85" height="6.83" fill="#ff9595"/><rect x="613.90" y="351.12" width="6.85" height="6.83" fill="#ff8686"/><rect x="620.70" y="351.12" width="6.85" height="6.83" fill="#ff9595"/><rect x="629.70" y="351.12" width="6.75" height="6.83" fill="#ff3232"/><rect x="636.40" y="351.12" width="6.75" height="6.83" fill="#ff3c3c"/><rect x="643.10" y="351.12" width="6.75" height="6.83" fill="#ff4545"/><rect x="649.80" y="351.12" width="6.75" height="6.83" fill="#ff6d6d"/><rect x="656.50" y="351.12" width="6.75" height="6.83" fill="#ff1919"/><rect x="663.20" y="351.12" width="6.75" height="6.83" fill="#ff3c3c"/><rect x="669.90" y="351.12" width="6.75" height="6.83" fill="#ffb8b8"/><rect x="676.60" y="351.12" width="6.75" height="6.83" fill="#ffa4a4"/><rect x="573.10" y="357.91" width="6.85" height="6.83" fill="#ebebf9"/><rect x="579.90" y="357.91" width="6.85" height="6.83" fill="#e2e2f7"/><rect x="586.70" y="357.91" width="6.85" height="6.83" fill="#e2e2f7"/><rect x="593.50" y="357.91" width="6.85" height="6.83" fill="#ebebf9"/><rect x="600.30" y="357.91" width="6.85" height="6.83" fill="#9090e6"/><rect x="607.10" y="357.91" width="6.85" height="6.83" fill="#ffe9e9"/><rect x="613.90" y="357.91" width="6.85" height="6.83" fill="#d5d5f5"/><rect x="620.70" y="357.91" width="6.85" height="6.83" fill="#ffe9e9"/><rect x="629.70" y="357.91" width="6.75" height="6.83" fill="#ff7c7c"/><rect x="636.40" y="357.91" width="6.75" height="6.83" fill="#ff9f9f"/><rect x="643.10" y="357.91" width="6.75" height="6.83" fill="#ff9f9f"/><rect x="649.80" y="357.91" width="6.75" height="6.83" fill="#ff6d6d"/><rect x="656.50" y="357.91" width="6.75" height="6.83" fill="#ffbcbc"/><rect x="663.20" y="357.91" width="6.75" height="6.83" fill="#ff8686"/><rect x="669.90" y="357.91" width="6.75" height="6.83" fill="#c3c3f1"/><rect x="676.60" y="357.91" width="6.75" height="6.83" fill="#0000c8"/><rect x="573.10" y="364.69" width="6.85" height="6.83" fill="#ffdfdf"/><rect x="579.90" y="364.69" width="6.85" height="6.83" fill="#ccccf3"/><rect x="586.70" y="364.69" width="6.85" height="6.83" fill="#dedef6"/><rect x="593.50" y="364.69" width="6.85" height="6.83" fill="#d5d5f5"/><rect x="600.30" y="364.69" width="6.85" height="6.83" fill="#ebebf9"/><rect x="607.10" y="364.69" width="6.85" height="6.83" fill="#fff8f8"/><rect x="613.90" y="364.69" width="6.85" height="6.83" fill="#ebebf9"/><rect x="620.70" y="364.69" width="6.85" height="6.83" fill="#efeffa"/><rect x="629.70" y="364.69" width="6.75" height="6.83" fill="#ff9090"/><rect x="636.40" y="364.69" width="6.75" height="6.83" fill="#ff9090"/><rect x="643.10" y="364.69" width="6.75" height="6.83" fill="#ff9595"/><rect x="649.80" y="364.69" width="6.75" height="6.83" fill="#ff7c7c"/><rect x="656.50" y="364.69" width="6.75" height="6.83" fill="#ff7c7c"/><rect x="663.20" y="364.69" width="6.75" height="6.83" fill="#ff9090"/><rect x="669.90" y="364.69" width="6.75" height="6.83" fill="#e2e2f7"/><rect x="676.60" y="364.69" width="6.75" height="6.83" fill="#ff9090"/><rect x="573.10" y="371.48" width="6.85" height="6.83" fill="#acacec"/><rect x="579.90" y="371.48" width="6.85" height="6.83" fill="#d5d5f5"/><rect x="586.70" y="371.48" width="6.85" height="6.83" fill="#7878e1"/><rect x="593.50" y="371.48" width="6.85" height="6.83" fill="#0000c8"/><rect x="600.30" y="371.48" width="6.85" height="6.83" fill="#ebebf9"/><rect x="607.10" y="371.48" width="6.85" height="6.83" fill="#e2e2f7"/><rect x="613.90" y="371.48" width="6.85" height="6.83" fill="#fff8f8"/><rect x="620.70" y="371.48" width="6.85" height="6.83" fill="#efeffa"/><rect x="629.70" y="371.48" width="6.75" height="6.83" fill="#ffb8b8"/><rect x="636.40" y="371.48" width="6.75" height="6.83" fill="#ffaeae"/><rect x="643.10" y="371.48" width="6.75" height="6.83" fill="#ffb8b8"/><rect x="649.80" y="371.48" width="6.75" height="6.83" fill="#fff8f8"/><rect x="656.50" y="371.48" width="6.75" height="6.83" fill="#ff9f9f"/><rect x="663.20" y="371.48" width="6.75" height="6.83" fill="#ffb8b8"/><rect x="669.90" y="371.48" width="6.75" height="6.83" fill="#dedef6"/><rect x="676.60" y="371.48" width="6.75" height="6.83" fill="#ffbcbc"/><rect x="573.10" y="378.27" width="6.85" height="6.83" fill="#ebebf9"/><rect x="579.90" y="378.27" width="6.85" height="6.83" fill="#f4f4fb"/><rect x="586.70" y="378.27" width="6.85" height="6.83" fill="#8787e4"/><rect x="593.50" y="378.27" width="6.85" height="6.83" fill="#fff3f3"/><rect x="600.30" y="378.27" width="6.85" height="6.83" fill="#ffd5d5"/><rect x="607.10" y="378.27" width="6.85" height="6.83" fill="#ffe9e9"/><rect x="613.90" y="378.27" width="6.85" height="6.83" fill="#ffe9e9"/><rect x="620.70" y="378.27" width="6.85" height="6.83" fill="#ffdfdf"/><rect x="629.70" y="378.27" width="6.75" height="6.83" fill="#ff9595"/><rect x="636.40" y="378.27" width="6.75" height="6.83" fill="#ff9595"/><rect x="643.10" y="378.27" width="6.75" height="6.83" fill="#ff9f9f"/><rect x="649.80" y="378.27" width="6.75" height="6.83" fill="#ff8686"/><rect x="656.50" y="378.27" width="6.75" height="6.83" fill="#ff9595"/><rect x="663.20" y="378.27" width="6.75" height="6.83" fill="#ff9595"/><rect x="669.90" y="378.27" width="6.75" height="6.83" fill="#e2e2f7"/><rect x="676.60" y="378.27" width="6.75" height="6.83" fill="#0000c8"/></g>
<path d="M573.10 385.05V45.80H683.30V385.05Z" fill="none" stroke="#111" stroke-width="0.9"/>
<line x1="570.90" y1="49.19" x2="573.10" y2="49.19" stroke="#111" stroke-width="0.7" />
<text transform="translate(570.50,52.29) scale(0.95,1)" font-size="8.85" text-anchor="end" font-weight="bold" fill="#0a0a0a">RSAD2</text>
<line x1="570.90" y1="55.98" x2="573.10" y2="55.98" stroke="#111" stroke-width="0.7" />
<text transform="translate(570.50,59.08) scale(0.95,1)" font-size="8.85" text-anchor="end" font-weight="bold" fill="#0a0a0a">ACOD1</text>
<line x1="570.90" y1="62.76" x2="573.10" y2="62.76" stroke="#111" stroke-width="0.7" />
<text transform="translate(570.50,65.86) scale(0.95,1)" font-size="8.85" text-anchor="end" font-weight="bold" fill="#0a0a0a">CXCL11</text>
<line x1="570.90" y1="69.55" x2="573.10" y2="69.55" stroke="#111" stroke-width="0.7" />
<text transform="translate(570.50,72.65) scale(0.95,1)" font-size="8.85" text-anchor="end" font-weight="bold" fill="#0a0a0a">CXCL10</text>
<line x1="570.90" y1="76.33" x2="573.10" y2="76.33" stroke="#111" stroke-width="0.7" />
<text transform="translate(570.50,79.43) scale(0.95,1)" font-size="8.85" text-anchor="end" font-weight="bold" fill="#0a0a0a">CCL8</text>
<line x1="570.90" y1="83.12" x2="573.10" y2="83.12" stroke="#111" stroke-width="0.7" />
<text transform="translate(570.50,86.22) scale(0.95,1)" font-size="8.85" text-anchor="end" font-weight="bold" fill="#0a0a0a">IFIT3</text>
<line x1="570.90" y1="89.90" x2="573.10" y2="89.90" stroke="#111" stroke-width="0.7" />
<text transform="translate(570.50,93.00) scale(0.95,1)" font-size="8.85" text-anchor="end" font-weight="bold" fill="#0a0a0a">IFIT1</text>
<line x1="570.90" y1="96.69" x2="573.10" y2="96.69" stroke="#111" stroke-width="0.7" />
<text transform="translate(570.50,99.79) scale(0.95,1)" font-size="8.85" text-anchor="end" font-weight="bold" fill="#0a0a0a">USP18</text>
<line x1="570.90" y1="103.47" x2="573.10" y2="103.47" stroke="#111" stroke-width="0.7" />
<text transform="translate(570.50,106.57) scale(0.95,1)" font-size="8.85" text-anchor="end" font-weight="bold" fill="#0a0a0a">SIGLEC1</text>
<line x1="570.90" y1="110.26" x2="573.10" y2="110.26" stroke="#111" stroke-width="0.7" />
<text transform="translate(570.50,113.36) scale(0.95,1)" font-size="8.85" text-anchor="end" font-weight="bold" fill="#0a0a0a">IFIT2</text>
<line x1="570.90" y1="117.04" x2="573.10" y2="117.04" stroke="#111" stroke-width="0.7" />
<text transform="translate(570.50,120.14) scale(0.95,1)" font-size="8.85" text-anchor="end" font-weight="bold" fill="#0a0a0a">HERC5</text>
<line x1="570.90" y1="123.83" x2="573.10" y2="123.83" stroke="#111" stroke-width="0.7" />
<text transform="translate(570.50,126.93) scale(0.95,1)" font-size="8.85" text-anchor="end" font-weight="bold" fill="#0a0a0a">OAS3</text>
<line x1="570.90" y1="130.61" x2="573.10" y2="130.61" stroke="#111" stroke-width="0.7" />
<text transform="translate(570.50,133.71) scale(0.95,1)" font-size="8.85" text-anchor="end" font-weight="bold" fill="#0a0a0a">CMPK2</text>
<line x1="570.90" y1="137.40" x2="573.10" y2="137.40" stroke="#111" stroke-width="0.7" />
<text transform="translate(570.50,140.50) scale(0.95,1)" font-size="8.85" text-anchor="end" font-weight="bold" fill="#0a0a0a">TNFSF10</text>
<line x1="570.90" y1="144.18" x2="573.10" y2="144.18" stroke="#111" stroke-width="0.7" />
<text transform="translate(570.50,147.28) scale(0.95,1)" font-size="8.85" text-anchor="end" font-weight="bold" fill="#0a0a0a">IFI6</text>
<line x1="570.90" y1="150.97" x2="573.10" y2="150.97" stroke="#111" stroke-width="0.7" />
<text transform="translate(570.50,154.07) scale(0.95,1)" font-size="8.85" text-anchor="end" font-weight="bold" fill="#0a0a0a">IFNG</text>
<line x1="570.90" y1="157.75" x2="573.10" y2="157.75" stroke="#111" stroke-width="0.7" />
<text transform="translate(570.50,160.85) scale(0.95,1)" font-size="8.85" text-anchor="end" font-weight="bold" fill="#0a0a0a">ISG15</text>
<line x1="570.90" y1="164.54" x2="573.10" y2="164.54" stroke="#111" stroke-width="0.7" />
<text transform="translate(570.50,167.64) scale(0.95,1)" font-size="8.85" text-anchor="end" font-weight="bold" fill="#0a0a0a">LY6E</text>
<line x1="570.90" y1="171.32" x2="573.10" y2="171.32" stroke="#111" stroke-width="0.7" />
<text transform="translate(570.50,174.42) scale(0.95,1)" font-size="8.85" text-anchor="end" font-weight="bold" fill="#0a0a0a">APOBEC3A</text>
<line x1="570.90" y1="178.11" x2="573.10" y2="178.11" stroke="#111" stroke-width="0.7" />
<text transform="translate(570.50,181.21) scale(0.95,1)" font-size="8.85" text-anchor="end" font-weight="bold" fill="#0a0a0a">IFITM3</text>
<line x1="570.90" y1="184.89" x2="573.10" y2="184.89" stroke="#111" stroke-width="0.7" />
<text transform="translate(570.50,187.99) scale(0.95,1)" font-size="8.85" text-anchor="end" font-weight="bold" fill="#0a0a0a">DDX58</text>
<line x1="570.90" y1="191.68" x2="573.10" y2="191.68" stroke="#111" stroke-width="0.7" />
<text transform="translate(570.50,194.78) scale(0.95,1)" font-size="8.85" text-anchor="end" font-weight="bold" fill="#0a0a0a">GBP1</text>
<line x1="570.90" y1="198.46" x2="573.10" y2="198.46" stroke="#111" stroke-width="0.7" />
<text transform="translate(570.50,201.56) scale(0.95,1)" font-size="8.85" text-anchor="end" font-weight="bold" fill="#0a0a0a">OAS1</text>
<line x1="570.90" y1="205.25" x2="573.10" y2="205.25" stroke="#111" stroke-width="0.7" />
<text transform="translate(570.50,208.35) scale(0.95,1)" font-size="8.85" text-anchor="end" font-weight="bold" fill="#0a0a0a">MX1</text>
<line x1="570.90" y1="212.03" x2="573.10" y2="212.03" stroke="#111" stroke-width="0.7" />
<text transform="translate(570.50,215.13) scale(0.95,1)" font-size="8.85" text-anchor="end" font-weight="bold" fill="#0a0a0a">TRIM21</text>
<line x1="570.90" y1="218.82" x2="573.10" y2="218.82" stroke="#111" stroke-width="0.7" />
<text transform="translate(570.50,221.92) scale(0.95,1)" font-size="8.85" text-anchor="end" font-weight="bold" fill="#0a0a0a">SAMD9L</text>
<line x1="570.90" y1="225.60" x2="573.10" y2="225.60" stroke="#111" stroke-width="0.7" />
<text transform="translate(570.50,228.70) scale(0.95,1)" font-size="8.85" text-anchor="end" font-weight="bold" fill="#0a0a0a">IFI44L</text>
<line x1="570.90" y1="232.39" x2="573.10" y2="232.39" stroke="#111" stroke-width="0.7" />
<text transform="translate(570.50,235.49) scale(0.95,1)" font-size="8.85" text-anchor="end" font-weight="bold" fill="#0a0a0a">HELZ2</text>
<line x1="570.90" y1="239.17" x2="573.10" y2="239.17" stroke="#111" stroke-width="0.7" />
<text transform="translate(570.50,242.27) scale(0.95,1)" font-size="8.85" text-anchor="end" font-weight="bold" fill="#0a0a0a">CCL7</text>
<line x1="570.90" y1="245.96" x2="573.10" y2="245.96" stroke="#111" stroke-width="0.7" />
<text transform="translate(570.50,249.06) scale(0.95,1)" font-size="8.85" text-anchor="end" font-weight="bold" fill="#0a0a0a">LAMP3</text>
<line x1="570.90" y1="252.74" x2="573.10" y2="252.74" stroke="#111" stroke-width="0.7" />
<text transform="translate(570.50,255.84) scale(0.95,1)" font-size="8.85" text-anchor="end" font-weight="bold" fill="#0a0a0a">EIF2AK2</text>
<line x1="570.90" y1="259.53" x2="573.10" y2="259.53" stroke="#111" stroke-width="0.7" />
<text transform="translate(570.50,262.63) scale(0.95,1)" font-size="8.85" text-anchor="end" font-weight="bold" fill="#0a0a0a">IFI44</text>
<line x1="570.90" y1="266.31" x2="573.10" y2="266.31" stroke="#111" stroke-width="0.7" />
<text transform="translate(570.50,269.41) scale(0.95,1)" font-size="8.85" text-anchor="end" font-weight="bold" fill="#0a0a0a">OAS2</text>
<line x1="570.90" y1="273.10" x2="573.10" y2="273.10" stroke="#111" stroke-width="0.7" />
<text transform="translate(570.50,276.20) scale(0.95,1)" font-size="8.85" text-anchor="end" font-weight="bold" fill="#0a0a0a">IL1RN</text>
<line x1="570.90" y1="279.88" x2="573.10" y2="279.88" stroke="#111" stroke-width="0.7" />
<text transform="translate(570.50,282.98) scale(0.95,1)" font-size="8.85" text-anchor="end" font-weight="bold" fill="#0a0a0a">CD274</text>
<line x1="570.90" y1="286.67" x2="573.10" y2="286.67" stroke="#111" stroke-width="0.7" />
<text transform="translate(570.50,289.77) scale(0.95,1)" font-size="8.85" text-anchor="end" font-weight="bold" fill="#0a0a0a">GBP5</text>
<line x1="570.90" y1="293.45" x2="573.10" y2="293.45" stroke="#111" stroke-width="0.7" />
<text transform="translate(570.50,296.55) scale(0.95,1)" font-size="8.85" text-anchor="end" font-weight="bold" fill="#0a0a0a">MT2A</text>
<line x1="570.90" y1="300.24" x2="573.10" y2="300.24" stroke="#111" stroke-width="0.7" />
<text transform="translate(570.50,303.34) scale(0.95,1)" font-size="8.85" text-anchor="end" font-weight="bold" fill="#0a0a0a">HERC6</text>
<line x1="570.90" y1="307.02" x2="573.10" y2="307.02" stroke="#111" stroke-width="0.7" />
<text transform="translate(570.50,310.12) scale(0.95,1)" font-size="8.85" text-anchor="end" font-weight="bold" fill="#0a0a0a">IL6</text>
<line x1="570.90" y1="313.81" x2="573.10" y2="313.81" stroke="#111" stroke-width="0.7" />
<text transform="translate(570.50,316.91) scale(0.95,1)" font-size="8.85" text-anchor="end" font-weight="bold" fill="#0a0a0a">MX2</text>
<line x1="570.90" y1="320.59" x2="573.10" y2="320.59" stroke="#111" stroke-width="0.7" />
<text transform="translate(570.50,323.69) scale(0.95,1)" font-size="8.85" text-anchor="end" font-weight="bold" fill="#0a0a0a">IFIH1</text>
<line x1="570.90" y1="327.38" x2="573.10" y2="327.38" stroke="#111" stroke-width="0.7" />
<text transform="translate(570.50,330.48) scale(0.95,1)" font-size="8.85" text-anchor="end" font-weight="bold" fill="#0a0a0a">DHX58</text>
<line x1="570.90" y1="334.16" x2="573.10" y2="334.16" stroke="#111" stroke-width="0.7" />
<text transform="translate(570.50,337.26) scale(0.95,1)" font-size="8.85" text-anchor="end" font-weight="bold" fill="#0a0a0a">PML</text>
<line x1="570.90" y1="340.95" x2="573.10" y2="340.95" stroke="#111" stroke-width="0.7" />
<text transform="translate(570.50,344.05) scale(0.95,1)" font-size="8.85" text-anchor="end" font-weight="bold" fill="#0a0a0a">RIN2</text>
<line x1="570.90" y1="347.73" x2="573.10" y2="347.73" stroke="#111" stroke-width="0.7" />
<text transform="translate(570.50,350.83) scale(0.95,1)" font-size="8.85" text-anchor="end" font-weight="bold" fill="#0a0a0a">LILRA5</text>
<line x1="570.90" y1="354.52" x2="573.10" y2="354.52" stroke="#111" stroke-width="0.7" />
<text transform="translate(570.50,357.62) scale(0.95,1)" font-size="8.85" text-anchor="end" font-weight="bold" fill="#0a0a0a">STAT1</text>
<line x1="570.90" y1="361.30" x2="573.10" y2="361.30" stroke="#111" stroke-width="0.7" />
<text transform="translate(570.50,364.40) scale(0.95,1)" font-size="8.85" text-anchor="end" font-weight="bold" fill="#0a0a0a">IRF7</text>
<line x1="570.90" y1="368.09" x2="573.10" y2="368.09" stroke="#111" stroke-width="0.7" />
<text transform="translate(570.50,371.19) scale(0.95,1)" font-size="8.85" text-anchor="end" font-weight="bold" fill="#0a0a0a">EPSTI1</text>
<line x1="570.90" y1="374.87" x2="573.10" y2="374.87" stroke="#111" stroke-width="0.7" />
<text transform="translate(570.50,377.97) scale(0.95,1)" font-size="8.85" text-anchor="end" font-weight="bold" fill="#0a0a0a">IFIT5</text>
<line x1="570.90" y1="381.66" x2="573.10" y2="381.66" stroke="#111" stroke-width="0.7" />
<text transform="translate(570.50,384.76) scale(0.95,1)" font-size="8.85" text-anchor="end" font-weight="bold" fill="#0a0a0a">PARP9</text>
<line x1="576.50" y1="42.80" x2="576.50" y2="45.80" stroke="#111" stroke-width="0.7" />
<line x1="575.60" y1="42.80" x2="577.40" y2="42.80" stroke="#111" stroke-width="0.6" />
<text transform="translate(578.00,40.3) rotate(-90) scale(1,0.85)" font-size="5.1" fill="#333">HD1</text>
<line x1="583.30" y1="42.80" x2="583.30" y2="45.80" stroke="#111" stroke-width="0.7" />
<line x1="582.40" y1="42.80" x2="584.20" y2="42.80" stroke="#111" stroke-width="0.6" />
<text transform="translate(584.80,40.3) rotate(-90) scale(1,0.85)" font-size="5.1" fill="#333">HD2</text>
<line x1="590.10" y1="42.80" x2="590.10" y2="45.80" stroke="#111" stroke-width="0.7" />
<line x1="589.20" y1="42.80" x2="591.00" y2="42.80" stroke="#111" stroke-width="0.6" />
<text transform="translate(591.60,40.3) rotate(-90) scale(1,0.85)" font-size="5.1" fill="#333">HD3</text>
<line x1="596.90" y1="42.80" x2="596.90" y2="45.80" stroke="#111" stroke-width="0.7" />
<line x1="596.00" y1="42.80" x2="597.80" y2="42.80" stroke="#111" stroke-width="0.6" />
<text transform="translate(598.40,40.3) rotate(-90) scale(1,0.85)" font-size="5.1" fill="#333">Ala448Val</text>
<line x1="603.70" y1="42.80" x2="603.70" y2="45.80" stroke="#111" stroke-width="0.7" />
<line x1="602.80" y1="42.80" x2="604.60" y2="42.80" stroke="#111" stroke-width="0.6" />
<text transform="translate(605.20,40.3) rotate(-90) scale(1,0.85)" font-size="5.1" fill="#333">Ala288Val</text>
<line x1="610.50" y1="42.80" x2="610.50" y2="45.80" stroke="#111" stroke-width="0.7" />
<line x1="609.60" y1="42.80" x2="611.40" y2="42.80" stroke="#111" stroke-width="0.6" />
<text transform="translate(612.00,40.3) rotate(-90) scale(1,0.85)" font-size="5.1" fill="#333">Val219Ile</text>
<line x1="617.30" y1="42.80" x2="617.30" y2="45.80" stroke="#111" stroke-width="0.7" />
<line x1="616.40" y1="42.80" x2="618.20" y2="42.80" stroke="#111" stroke-width="0.6" />
<text transform="translate(618.80,40.3) rotate(-90) scale(1,0.85)" font-size="5.1" fill="#333">Ala1032Thr</text>
<line x1="624.10" y1="42.80" x2="624.10" y2="45.80" stroke="#111" stroke-width="0.7" />
<line x1="623.20" y1="42.80" x2="625.00" y2="42.80" stroke="#111" stroke-width="0.6" />
<text transform="translate(625.60,40.3) rotate(-90) scale(1,0.85)" font-size="5.1" fill="#333">Ser301Pro</text>
<line x1="633.05" y1="42.80" x2="633.05" y2="45.80" stroke="#111" stroke-width="0.7" />
<line x1="632.15" y1="42.80" x2="633.95" y2="42.80" stroke="#111" stroke-width="0.6" />
<text transform="translate(634.55,40.3) rotate(-90) scale(1,0.85)" font-size="5.1" fill="#333">HD1</text>
<line x1="639.75" y1="42.80" x2="639.75" y2="45.80" stroke="#111" stroke-width="0.7" />
<line x1="638.85" y1="42.80" x2="640.65" y2="42.80" stroke="#111" stroke-width="0.6" />
<text transform="translate(641.25,40.3) rotate(-90) scale(1,0.85)" font-size="5.1" fill="#333">HD2</text>
<line x1="646.45" y1="42.80" x2="646.45" y2="45.80" stroke="#111" stroke-width="0.7" />
<line x1="645.55" y1="42.80" x2="647.35" y2="42.80" stroke="#111" stroke-width="0.6" />
<text transform="translate(647.95,40.3) rotate(-90) scale(1,0.85)" font-size="5.1" fill="#333">HD3</text>
<line x1="653.15" y1="42.80" x2="653.15" y2="45.80" stroke="#111" stroke-width="0.7" />
<line x1="652.25" y1="42.80" x2="654.05" y2="42.80" stroke="#111" stroke-width="0.6" />
<text transform="translate(654.65,40.3) rotate(-90) scale(1,0.85)" font-size="5.1" fill="#333">Ala448Val</text>
<line x1="659.85" y1="42.80" x2="659.85" y2="45.80" stroke="#111" stroke-width="0.7" />
<line x1="658.95" y1="42.80" x2="660.75" y2="42.80" stroke="#111" stroke-width="0.6" />
<text transform="translate(661.35,40.3) rotate(-90) scale(1,0.85)" font-size="5.1" fill="#333">Ala288Val</text>
<line x1="666.55" y1="42.80" x2="666.55" y2="45.80" stroke="#111" stroke-width="0.7" />
<line x1="665.65" y1="42.80" x2="667.45" y2="42.80" stroke="#111" stroke-width="0.6" />
<text transform="translate(668.05,40.3) rotate(-90) scale(1,0.85)" font-size="5.1" fill="#333">Val219Ile</text>
<line x1="673.25" y1="42.80" x2="673.25" y2="45.80" stroke="#111" stroke-width="0.7" />
<line x1="672.35" y1="42.80" x2="674.15" y2="42.80" stroke="#111" stroke-width="0.6" />
<text transform="translate(674.75,40.3) rotate(-90) scale(1,0.85)" font-size="5.1" fill="#333">Ala1032Thr</text>
<line x1="679.95" y1="42.80" x2="679.95" y2="45.80" stroke="#111" stroke-width="0.7" />
<line x1="679.05" y1="42.80" x2="680.85" y2="42.80" stroke="#111" stroke-width="0.6" />
<text transform="translate(681.45,40.3) rotate(-90) scale(1,0.85)" font-size="5.1" fill="#333">Ser301Pro</text>
<line x1="572.20" y1="10.30" x2="625.80" y2="10.30" stroke="#333" stroke-width="0.9" />
<line x1="630.30" y1="10.30" x2="683.70" y2="10.30" stroke="#333" stroke-width="0.9" />
<text x="596.00" y="8.30" font-size="6.5" text-anchor="middle" font-weight="normal" fill="#333" >NS</text>
<text x="656.70" y="8.80" font-size="6.5" text-anchor="middle" font-weight="normal" fill="#333" >IMQ</text>
<defs><linearGradient id="cb" x1="0" y1="1" x2="0" y2="0"><stop offset="0" stop-color="#0000c8"/><stop offset="0.45" stop-color="#fafafc"/><stop offset="1" stop-color="#ff0000"/></linearGradient></defs>
<rect x="544.4" y="8.8" width="11" height="29.6" fill="url(#cb)" stroke="#222" stroke-width="0.8"/>
<line x1="544.40" y1="14.60" x2="545.60" y2="14.60" stroke="#222" stroke-width="0.7" />
<line x1="554.20" y1="14.60" x2="555.40" y2="14.60" stroke="#222" stroke-width="0.7" />
<line x1="544.40" y1="22.50" x2="545.60" y2="22.50" stroke="#222" stroke-width="0.7" />
<line x1="554.20" y1="22.50" x2="555.40" y2="22.50" stroke="#222" stroke-width="0.7" />
<line x1="544.40" y1="30.70" x2="545.60" y2="30.70" stroke="#222" stroke-width="0.7" />
<line x1="554.20" y1="30.70" x2="555.40" y2="30.70" stroke="#222" stroke-width="0.7" />
<text x="560.20" y="16.80" font-size="5.6" text-anchor="middle" font-weight="normal" fill="#444" >3</text>
<text x="560.20" y="24.60" font-size="5.6" text-anchor="middle" font-weight="normal" fill="#444" >2</text>
<text x="560.20" y="32.40" font-size="5.6" text-anchor="middle" font-weight="normal" fill="#444" >1</text>
<text x="560.20" y="40.20" font-size="5.6" text-anchor="middle" font-weight="normal" fill="#444" >0</text>
<text transform="translate(522.7,7.8) scale(0.9,1)" font-size="8.8" fill="#111" stroke="#111" stroke-width="0.3">D</text>
</svg>
</body></html>
